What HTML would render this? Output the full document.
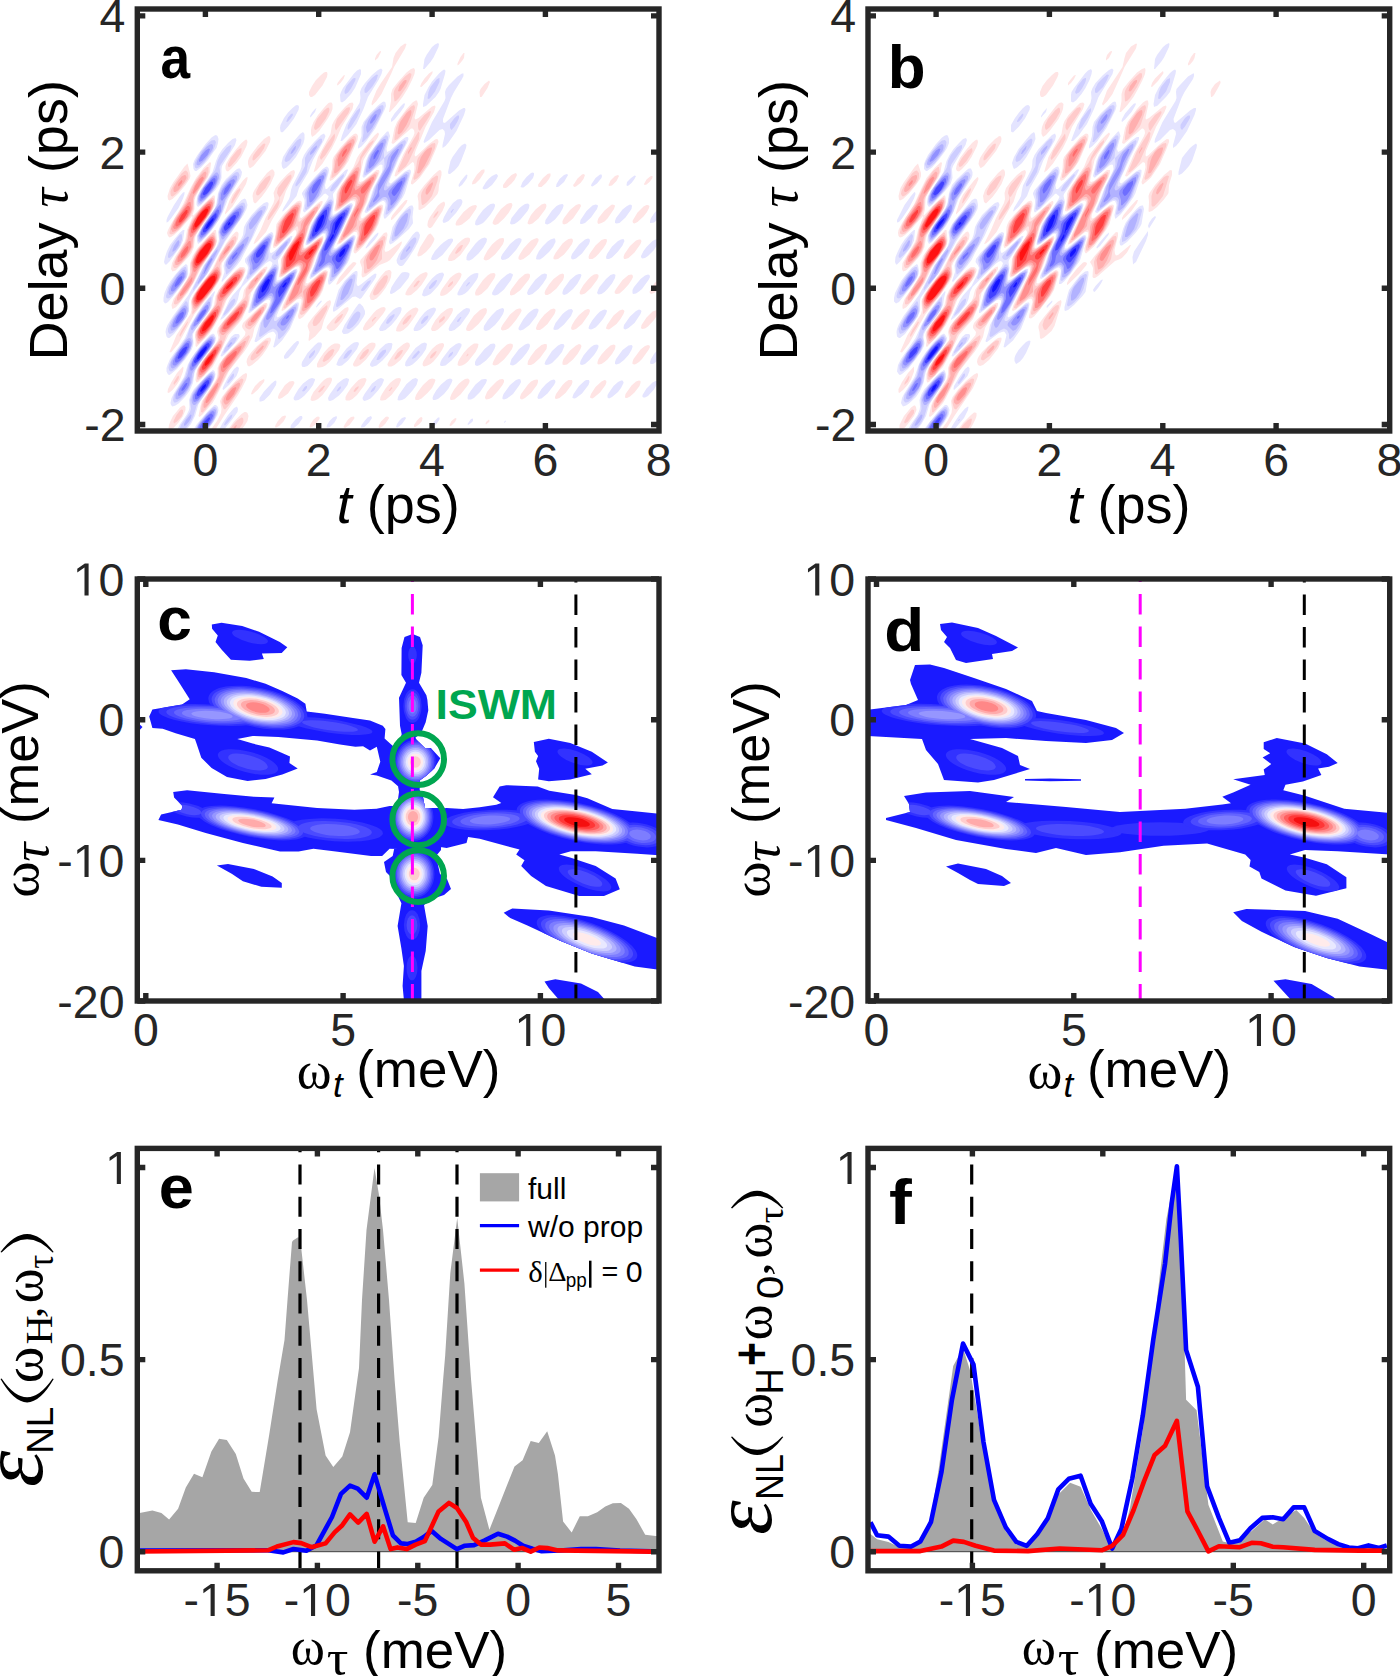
<!DOCTYPE html>
<html><head><meta charset="utf-8"><title>Figure</title>
<style>
html,body{margin:0;padding:0;background:#fff;}
svg{display:block;}
</style></head><body>
<svg width="1400" height="1676" viewBox="0 0 1400 1676" font-family="Liberation Sans, sans-serif">
<rect width="1400" height="1676" fill="#fff"/>
<clipPath id="cpa"><rect x="137.3" y="9.0" width="521.7" height="422.0"/></clipPath><g clip-path="url(#cpa)"><g transform="scale(0.5)" ><path fill="rgb(255,228,228)" fill-rule="evenodd" d="M810 87l3 1-3 9-22 37-5 12-20 42-10 14-9 9-1-3 1-5 9-22 9-15 22-32 3-18 4-10 10-13zM762 102l0 2-6 12-6 5 0-4 3-7 6-7zM929 106l-1 10-4 6-6 7-3 2 0-4 6-13 6-8zM828 136l2 4-1 8-5 12-9 18-10 16-13 17-12 13-2 0 4-22 0-14 3-10 11-14 17-19 9-7zM865 142l0 4-1 2-9 14-12 12-3-1 3-7 6-9 9-10zM654 144l1 4-1 6-9 17-15 19-6 4-3 0-3-4 0-6 6-12 8-12 10-10 6-5 3-1zM690 150l-3 8-6 8-6 5-1-1 1-4 6-8 6-7zM978 161l2 3-1 2-4 10-9 14-3 4-3 0-1-10 2-6 8-10zM831 201l3 0 2 7-7 28 2 3 6-3 27-23 6-2 1 3-3 10-17 30-8 20-12 28-2 8 2 3 3-2 24-23 12-9 3-1 3 1 1 5-5 14-13 30-19 27-9 9-6 5-3-1 0-4 6-20 1-10-1-8-3-2-33 29-3-1 2-8 16-36 20-36 2-6-1-6-3-3-3 0-33 29-3 2-3-2 6-30 5-12 19-26 12-13zM663 205l2 3 0 10-3 8-7 12-16 23-9 9-6 4-2-6 0-8 1-6 4-10 9-14 15-18 6-6 3-1zM705 205l2 3-2 10-22 36-11 26-8 16-19 31-12 14-6 4 9-31 25-46 3-18 4-8 8-12 14-16 9-8zM756 265l2 3-2 6-22 34-7 12-9 42 2 2 6-2 27-22 3 0 2 0 1 4-3 8-15 30-7 22-11 24-1 6 1 3 3-1 24-20 9-6 3-1 3 1 1 2 0 6-9 30-6 12-25 33-9 9-6 5-3-1-1-4 1-6 7-24-1-7-2-1-4 0-27 23-6 2-1-1 4-10 32-68 0-6-2-3-6 1-24 18-6 3-3-1 0-4 3-14 1-16 2-6 5-8 27-40 7-18 5-8 22-28 9-10zM714 268l2 4-1 8-18 42-8 12-14 16-9 9-6 3-1-4 5-20 1-18 2-6 13-18 19-21 9-7 3-1zM540 273l1 5-1 6-9 18-24 30-6 4-3-1-2-7 0-6 2-6 5-8 12-16 13-14 6-4 3-2zM494 280l1 4-2 8-11 22-9 12-11 12-6 5-3-1-2-4 0-6 2-6 6-10 12-16 12-14 6-5 3-2zM420 324l2 2-2 18-5 12-18 26-6 12-2 6 0 18-4 12 2 1 24-26 15-14 3 0 1 3 0 10-1 8-8 16-22 30-7 12-2 6-2 18-5 12-6 8-17 18-9 9-6 2-3-5 2-12 6-12 19-30 2-6 3-18 11-26-1-2-9 10-15 17-12 11-6 4-3 1-3-3-2-6 2-6 7-14 23-37 16-35 10-18 16-21zM375 327l5 19 1 6-2 6-8 12-14 17-12 11-6 3-3-2-1-7 5-16 7-12 10-14 12-17zM546 339l3 5 0 6-8 18-9 14-9 12-10 11-3 2-3-3-2-12 1-6 3-6 10-15 15-19 6-5 3-2zM588 340l2 4-2 8-16 30-7 22-4 8-17 28-12 24-16 18-6 5-3 1 3-8 11-20 10-24 16-30 2-8-2-12 4-10 9-12 13-14 9-8zM882 341l1 3 0 6-5 20-1 12-2 6-10 12-16 15-9 5-3-1 0-15-2-12 2-6 12-16 18-20 9-8 3-2zM969 339l0 5-9 14-9 9-6 2-1-1 1-5 9-14 9-9 3-1zM1032 346l2 4-1 2-4 8-6 7-9 8-3 1-4 0-1-2 0-4 8-11 9-9 6-3zM1101 347l0 5-3 6-6 8-9 8-6 0-1-4 1-2 9-12 9-8 3-1zM1170 350l-3 8-6 8-9 7-4 1-2-4 2-2 7-11 9-8 3-1zM1236 350l2 2-5 10-9 9-6 1-1-2 1-2 3-7 9-9zM1305 352l0 4-6 8-6 5-4 1-1-2 5-9 6-5 3-2zM495 354l0 4-3 10-15 26-12 19-9 10-6 6 0-3 9-25 6-12 21-28 6-6zM815 400l-2 6-12 16-15 16-3 2-1 0 0-4 3-6 13-16 12-13 3-1zM645 402l0 4-3 6-17 28-6 12-11 36 0 6 1 2 3-1 30-22 4-1 1 4-2 8-13 28-7 20-11 24-2 10 3 1 3-2 21-18 9-6 3-1 4 2 1 2-1 6-9 30-6 12-25 32-9 10-6 4-3-1-1-5 7-28 0-5-3-2-6 2-24 20-6 3-1-2 3-10 30-62 3-6 0-6-2-3-6 1-24 18-6 3-3-1 0-4 3-14 1-18 7-12 19-30 4-6 1-6-2-4-3 1-33 31-6 4-3-1 0-5 5-20 1-16 1-6 4-6 9-12 16-17 12-10 6-2 3 2 1 3 0 6-4 18 0 5 3 1 6-5 27-25 6-4zM888 403l2 3 0 4-5 12-21 32-3 2-3 0-3-4 0-4 1-6 4-8 16-23 6-5zM1023 406l2 4-2 6-6 10-9 11-12 11-6 2-4-2-1-2 2-6 6-10 9-12 12-10 6-2zM1092 408l1 4-2 6-14 19-12 10-6 2-3-1-1-2 2-6 5-10 9-11 12-10 6-2zM1161 409l1 3-3 6-13 19-12 10-6 2-3-2 0-5 3-6 12-16 12-10 6-2zM1229 410l1 2-2 6-13 19-6 6-6 3-6 2-2-2 0-4 2-6 12-15 12-10 3-2zM951 410l3 2-2 6-13 19-6 5-9 7-6 2-6 0-1-3 2-6 14-18 12-10 6-3zM1296 410l3 2-1 4-4 8-7 9-12 11-6 3-3-1-1-4 1-2 9-15 12-12 6-3zM432 460l2 22-4 12-28 42-15 30-12 20-18 23-6 6-6 3-1-2-1-6 4-12 27-38 4-10 2-6 0-18 5-14 10-16 25-27 9-9zM474 463l3 3 0 4-1 8-6 12-20 28-6 8-1 6 1 16-2 6-6 12-12 18-35 44-32 59-15 18-3-1 14-34 28-42 2-8-1-18 5-12 8-12 30-40 13-27 15-25 12-16 6-6zM804 483l-1 5-5 9-9 12-9 11-6 4-15 6-27 22-6 3-2-1-1-4 1-14-4-12 1-4 29-34 18-20 3-1 3 0 1 5-1 6-5 24 2 4 6-2 24-18zM861 467l3 3 4 6 1 2-2 6-6 10-9 10-9 7-6 2-2-1 0-4 5-13 15-24 3-3zM939 476l1 2 0 4-3 6-16 22-12 10-6 2-6 0-1-4 2-6 8-12 9-12 9-8 6-4 6-1zM1008 477l0 5-2 6-7 10-9 11-12 10-6 2-3-1-2-2 2-6 6-11 9-12 9-8 6-4 6-1zM1077 478l0 4-4 8-14 19-12 9-6 2-3-1-1-1 0-4 3-6 7-11 9-10 6-6 6-3 6-2zM1145 478l1 4-2 6-7 10-9 11-12 9-6 1-3-1 0-4 4-8 14-19 6-5 6-4 6-1zM1213 478l1 4-2 6-6 9-9 11-6 6-6 4-6 0-1 0-1-4 2-6 12-17 12-11 6-2zM1281 479l2 3-2 6-12 17-12 11-6 2-3 0-1-4 2-6 11-16 12-11 6-2zM711 525l2 1-2 4-15 18-18 19-3 2-3 0 6-13 18-22 9-9 3-1zM489 535l2 3 0 4-4 12-9 14-24 30-11 28-13 24-12 18-25 26-2-2 0-10-1-12 1-6 7-12 27-36 3-6 3-18 6-12 16-20 18-19 9-7 6 0zM534 533l1 3-1 2-3 6-29 42-5 24-13 28-6 8-14 16-7 8-23 48-9 16-20 21-9 9-3 1-2-5 1-12 4-12 9-14 26-34 5-8 1-6-3-10 2-8 9-12 36-42 4-6 3-16 10-14 24-26 6-5zM780 540l3 4-1 10-3 8-8 14-9 12-9 9-6 3-3 0-3-1-2-7 2-6 10-18 11-16 9-10 6-2zM855 546l0 4-3 6-9 14-9 10-12 10-6 1-5-1 0-4 4-8 16-21 9-8 6-3 6-2zM921 546l2 2 0 2-2 6-8 12-10 12-9 8-6 3-6 1-2-2 1-6 3-6 16-22 6-5 6-4 6-2zM990 547l1 3-2 6-14 21-12 11-6 3-6 0-1-5 2-6 14-20 9-9 6-4 6-1zM1059 548l1 2 0 4-3 6-16 20-12 9-6 2-3-1 0-6 3-6 15-20 12-10 6-1zM1128 549l0 5-2 6-13 17-12 10-6 3-4 0-2-4 2-6 7-11 9-11 12-9 6-2zM1197 550l0 4-3 6-12 16-12 11-6 2-3 0-2-3 2-6 6-10 9-11 6-6 6-4 6-1zM1265 550l1 4-3 6-6 9-9 10-9 8-6 1-3-1-1-3 3-6 13-18 12-10 6-1zM1317 557l0 22-9 7-6 2-2-2-1-2 3-7 6-9zM660 600l2 4-1 6-13 30-5 18-13 15-12 9-1-2 2-16-4-12 2-6 9-12 19-22 9-9zM534 606l1 4-2 6-24 40-4 18-9 18-8 12-30 38-27 54-6 10-20 23-6 5-2-2 4-20 3-10 24-36 5-8 2-10 0-12 3-8 12-16 30-30 10-12 1-6-6-8-1-4 2-6 8-8 25-24 9-7 3-1zM696 614l1 2 0 4-4 8-9 15-9 11-6 6-6 2-4 0-4-4-2-2 1-4 10-12 20-19 6-5zM771 616l0 4-5 8-19 23-6 5-6 4-6 1-3-2 0-3 5-10 16-20 6-6 9-5 6-1zM835 616l2 4-4 8-8 12-9 12-9 8-6 3-6 0-3-1 1-6 3-6 8-13 9-11 6-5 6-4 6-2zM905 616l1 4-2 6-7 11-9 11-12 11-6 3-6 0-2-4 2-6 7-12 11-13 12-9 6-2zM972 616l2 4-1 6-7 11-9 11-12 11-6 3-3 0-3-1-1-3 2-6 5-8 9-13 12-11 6-3zM1041 617l2 3 0 2-3 6-8 12-9 11-6 6-6 3-6 1-3-2 0-3 3-6 15-21 12-10 6-2zM1110 618l1 2 0 2-2 6-14 20-9 8-6 4-6 0-2-2 0-2 2-6 6-10 9-11 12-10 6-2zM1179 619l1 3-2 6-14 20-12 10-6 2-3-1-1-3 2-6 6-10 8-10 12-10 6-2zM1247 620l2 2-2 6-6 10-8 10-12 9-3 2-5-1-1-2 2-6 13-19 12-10 6-2zM1314 620l3 2 0 4-9 14-12 13-6 4-6 1-2-2 1-6 10-15 12-12zM540 675l1 1 1 4-2 6-6 11-9 13-9 10-12 10-6 3-3-2-2-7 1-6 3-6 6-8 11-12 14-12 6-4zM750 686l1 2 0 4-3 6-16 21-12 11-6 3-6 0-2-3 0-2 3-6 7-12 10-13 12-10 6-2zM819 687l1 5-3 6-16 22-12 10-6 3-6 0-2-3 0-2 3-6 8-12 9-12 12-10 6-3 3 0zM679 688l2 4-3 8-9 12-9 11-9 8-6 3-6 1-3 0-2-1 0-6 5-10 9-13 9-10 6-5 6-3 6 0zM888 688l0 4-4 8-8 12-9 11-6 5-6 3-6 2-3-1-1-4 2-6 8-12 9-12 9-8 6-3 6-1zM957 688l-1 6-5 10-15 19-6 5-6 3-6 1-3-2 1-6 3-6 8-12 9-10 6-5 6-4 6 0zM1025 688l1 4-2 6-7 10-9 11-12 10-6 2-4-1-1-2 2-6 6-11 9-11 12-11 6-2zM1093 688l1 4-1 6-13 18-12 11-6 3-6 0-1-2 1-6 6-10 9-12 12-10 6-2zM1161 689l2 3-2 6-6 10-9 11-12 10-6 1-3-1 0-5 2-6 13-17 12-10 6-3zM1230 690l1 2-1 6-6 10-9 11-6 5-6 4-6 1-2-1 0-4 2-6 6-9 9-10 9-8 6-2zM1299 691l1 3-3 6-13 18-6 6-6 4-3 1-4-1 0-4 2-6 6-8 8-11 9-7 6-2zM366 733l1 3-1 7-6 16-6 10-9 11-6 5-3 1-1-2 1-6 7-14 11-18zM492 746l2 2 0 4-2 8-8 16-8 14-27 40-20 32-9 0 14-20 8-16 1-8-3-16 4-8 12-16 15-16 15-13zM528 758l1 2-1 4-12 15-9 8-3 2-2-1 2-6 6-10 9-9zM663 756l1 2 0 2-2 6-8 12-9 12-9 8-6 3-6 1-3-2 1-6 5-10 15-18 6-6 6-4 6-1zM732 757l1 3-4 10-15 20-9 8-6 3-6 0-2-1 0-6 3-6 8-12 9-10 6-6 6-3 6-1zM801 757l1 3-4 10-15 20-12 10-6 1-3 0-2-1 1-6 3-6 7-11 9-11 6-5 6-4 6-1zM869 758l2 2-2 6-5 10-9 10-12 11-6 3-6 0-1-4 2-6 5-8 9-12 12-11 6-2zM939 760l0 4-3 6-15 19-12 10-6 1-2 0-1-4 3-8 6-10 9-11 6-5 6-4 6-1zM1005 758l3 2 0 4-3 6-9 12-12 13-6 3-6 1-2-3 0-2 4-10 7-9 12-12 6-4zM1076 760l0 4-2 6-12 16-12 10-6 3-3-1-1-2 0-2 2-6 14-19 6-6 6-3 6-1zM1144 760l1 4-2 6-12 16-12 10-6 2-3-1 0-3 2-6 13-18 6-6 6-4 3 0zM1212 761l1 3-2 6-11 15-12 10-3 2-4-1-1-2 2-6 9-14 12-11 6-3zM588 763l1 3-3 6-10 15-12 9-6 2-2-2 0-2 2-6 12-18 9-7 6-1zM1281 762l0 4-2 6-10 13-9 8-6 3-3 0-1-2 1-6 12-17 9-8 6-2zM369 811l2 3 0 6-5 12-9 13-9 10-6 4-3 1-2-4 1-6 3-8 5-10 14-17 6-4zM495 826l2 6-2 10-5 8-9 12-27 0 14-19 15-15 6-4 3 0zM570 831l2 1-1 4-4 7-9 9-6 3-2-1 1-4 4-7 9-10zM639 834l0 4-9 12-6 4-3 1-2-1 2-6 6-9 6-5 3-1zM708 833l1 3-1 2-9 12-9 6-3-2 3-6 6-9 6-5zM777 834l1 2-1 2-6 9-6 6-6 3-2-2 1-4 4-7 9-9 3-1zM845 836l-1 6-5 6-8 6-3 0 0-4 6-9 6-6 3-1zM912 836l1 2-3 6-7 7-3 1-1-2 1-2 3-6 6-5zM978 839l1 3-1 2-6 5-1-1 1-4z"/><path fill="rgb(255,203,203)" fill-rule="evenodd" d="M822 147l1 1-1 6-9 20-15 22-6 6-3 1-2-15 1-6 3-6 9-12 10-11 9-7zM828 210l2 4-1 6-9 28-3 6-6 8-16 16-6 3 0-7 3-18 5-12 7-11 9-11 9-9zM699 214l1 4-3 8-25 35-2-5 0-6 4-12 13-16 6-6zM657 215l2 3-1 6-7 14-12 16-6 5-3 1-2-4 1-6 5-12 14-17 6-5zM861 222l1 2-1 2-2 6-18 28-1 2-3-3-1-5 0-6 1-4 12-14 9-7zM837 263l2 3-1 12-20 44-6 10-8 7-6 5-3 1 3-10 15-33zM669 267l1 5-1 6-6 13-12 19-9 10-2-4 0-2 5-12 9-15zM711 273l1 5-2 8-18 40-8 11-9 11-9 7-3 1 0-4 4-18 1-14 4-10 11-14 13-15 9-7 3-2zM747 280l0 4-3 4-20 28-2 6 0 16-6 26 1 4 3 0 30-23 3-1 3 2-3 10-15 30-6 18-12 26-2 10 2 2 3-1 24-21 9-7 6-1 2 4 0 2-9 30-6 12-13 18-13 15-9 8-3 0 0-7 6-24 0-6-3-5-6 3-27 23-3 1-1-2 3-8 30-64 2-6 0-6-1-1-3-1-6 2-24 18-6 2-1-4 4-28 3-8 5-10 33-44 3-6 1-6 6-11 12-16zM870 286l1 4-1 6-14 32-16 23-6 6-6 3-1-4 5-18 2-16 2-6 6-8 13-14 9-7zM531 288l-3 9-9 13-9 9-3 2-2-1 0-4 2-6 9-12 9-9 3-2zM483 296l0 6-2 6-10 14-9 10-3 2-3-1 0-5 6-12 12-15 6-4zM417 334l0 10-2 8-26 42-1 6-1 18-5 12-9 12-16 18-9 7-6 2-3-2 0-3 3-12 8-16 20-30 11-26 8-16 16-22 9-8zM372 341l3 3 1 2 1 6-1 6-4 6-9 12-9 10-6 5-3 2-3-1-1-4 0-6 7-14 15-21 6-5zM582 349l1 3 0 4-4 8-18 29-2 1 0 12-4 10-15 21-3 3-2 0 1-6 4-8 18-28 0-4-4-8 2-10 6-8 8-10 6-6zM540 351l1 1 0 6-10 18-12 13-3 2-3-1-1-4 1-4 6-12 12-14 6-4zM876 352l0 4-1 6-11 30-6 8-6 6-6 4-2 0-1-4-1-14 1-6 3-6 9-12 9-11 9-6zM480 376l1 4-7 12-9 14-3 1 2-9 4-8 6-9zM426 395l2 3 1 6-3 12-8 14-27 40-3 6-2 18-4 8-8 12-11 13-9 8-3 1-3 0-2-4 2-8 6-12 17-28 2-6 4-20 6-16 9-14 13-16 15-14zM639 407l2 3-2 6-17 26-5 12-11 36 0 6 3 2 3-1 24-19 6-3 3 0 1 3-3 10-14 26-7 22-11 24-2 8 0 3 3 1 3-2 24-21 9-6 3 0 3 1 0 6-9 28-7 14-20 26-9 9-6 3-3-2 0-2 6-24-1-6-2-3-3 0-3 2-27 22-3-1 0-2 32-70 2-6-1-6-3-1-6 2-27 19-3 0-1-4 3-16 0-12 2-6 7-12 21-32 4-10-1-6-2-2-27 27-12 11-3 2-3 0-1-4 8-40 10-14 19-22 9-6 3-1 4 1 1 6-5 22 0 9 3 0 27-27zM876 422l1 2-4 7-6 6 0-3 3-6zM429 466l4 16-1 6-4 8-29 42-12 26-12 19-15 20-6 5-3 1-3-1 0-4 3-8 29-46 1-6 0-12 1-8 7-16 8-12 20-23 9-8zM471 472l2 4 0 2-3 10-28 38-2 6 2 16-5 14-19 28-31 37-2 1-1 3 1-11-2-16 1-6 4-8 10-16 30-38 13-28 12-19 12-14 3-2zM769 472l2 3 0 3-7 24 0 16-7 8-16 15-9 6-3 0-1-3 0-12-1-8 3-10 10-14 16-18 9-9 3-1zM926 490l-2 6-3 5-6 5-3 2-2-2 5-9 6-6 3-1zM486 537l3 3 0 4-6 16-33 42-9 24-16 30-17 21-12 11-2-2-3-12 1-10 9-14 27-36 3-6 2-16 5-12 14-18 16-17 12-8zM531 538l0 4-5 8-29 40 0 12-2 8-10 22-8 12-24 26-10 28-18 32-17 21-6 5-6 4-2-2 0-10 1-8 3-6 10-16 29-36 3-6 0-2-3-12 3-10 9-12 40-44 2-4 0-8 1-6 10-16 20-20 6-4zM774 550l2 4-2 9-6 11-12 14-6 3-3-1-1-4 2-6 8-14 12-14zM840 562l-6 9-6 4-1-1 1-3 6-8 3-2zM906 562l0 4-3 4-5 4-2 0 0-2 4-6 3-2zM531 609l1 5-4 8-18 27-9 9-3 1-6-3-2-4 0-2 2-6 5-6 22-22 9-6zM654 610l1 4-1 5-9 17-6 9-6 6-3 1-3 0-2-6 2-6 3-6 15-17zM686 628l-2 6-6 8-6 5-3 0 0-3 6-9 9-7zM822 629l1 3-1 2-4 6-5 6-7 4-1-4 5-8 6-6zM753 634l-3 4-6 6 0-4 6-6zM888 632l2 2-1 4-4 4-6 4-1-2 1-4zM376 644l-4 9-12 21-1-4 1-2 3-7 12-18zM498 670l2 4-1 2-5 12-9 16-31 42-18 36-12 20-13 17-6 6-3-1 1-12 4-12 24-36 5-10 1-6 0-12 3-8 6-10 13-14 33-30zM537 682l-2 6-4 8-12 15-12 9-3 1-3-2 0-3 2-6 12-16 10-9 6-4 3 0zM669 700l-4 10-8 9-9 5-3-2 4-10 8-9 6-4 3-1zM738 699l-1 5-5 7-6 6-6 3-1-2 0-2 7-11 6-5 3-2zM806 700l-2 6-6 8-6 5-3 0 0-3 6-10 6-5 3-1zM873 702l0 2-3 6-6 6-3 1-1-1 1-4 3-4 6-5zM936 707l1 3-4 3 0-2zM357 751l1 3-1 4-3 5-6 7-1-4 1-2 6-10zM486 758l1 2-2 6-9 18-17 25-9 10-3-2-4-11 1-6 2-6 9-12 16-17 9-6 3-2zM648 771l2 1-5 8-6 5-3-1 6-8zM717 772l0 4-6 7-3 1-1-2 4-6zM785 776l-5 6-3 0 6-8zM366 820l0 6-3 7-9 10-6 4-1-3 0-2 6-12 7-9 3-2zM486 836l1 6-2 6-10 14-18 0 8-11 9-10 9-6z"/><path fill="rgb(255,175,175)" fill-rule="evenodd" d="M813 160l0 4-6 10-6 8-3 1-2-1 3-10 8-10 3-2zM822 220l1 4-1 6-9 20-9 14-6 5-2-1-1-2 3-16 3-7 12-17 6-5zM708 279l1 5-3 8-16 32-12 17-6 5-3 1-1-3 3-22 4-12 8-12 13-14 9-6zM822 294l2 2-1 2-7 11 0-5zM864 295l0 3-3 10-12 24-9 13-3 2-3-1 5-24 3-8 7-10 6-6 6-3zM717 334l2 4 0 2-6 28 0 2 1 3 6-2 27-22 3-1 2 2 0 2-2 7-14 27-7 20-12 28-3 8-1 10-7 8-13 13-9 7-3 0 3-9 18-40 11-21 3-10-1-2-3-4-4 0-3 1-24 19-6 3-1-5 4-26 5-12 13-19 15-18 3-2zM411 343l2 3-2 10-23 36-2 6-1 20-5 12-9 12-11 13-9 7-3 1-3 1-2-4-1-2 2-6 4-10 26-38 10-24 9-18 9-12 6-6zM369 350l3 1 1 5-4 8-12 16-6 4-3 0-1-2 0-6 7-12 9-11zM865 364l1 4-5 13-6 8-3 0-1-3 1-7 6-9zM423 399l3 2 1 5-3 12-7 12-29 42-2 6-2 16-4 8-8 12-9 10-6 5-3 1-3 0-1-6 4-10 20-32 2-6 1-16 3-8 6-12 8-12 11-14 12-12zM597 409l3 3-1 6-7 28-3 6-9 12-13 14-9 8-6 2-1-6 6-28 3-8 8-12 14-16 9-8zM636 413l0 3-2 6-18 30-12 44 0 4 2 1 3-1 30-22 3-1 2 1-1 6-15 30-9 24-13 28-1 6-1 12-21 20-10 7-1-1 1-6 29-62 1-10-3-3-6 0-24 18-6 2-2-1 0-4 5-30 6-12 24-36 4-8 1-10 3-6 19-21 6-6zM761 416l1 2-2 10-7 20-6 12-8 12-13 16-9 7-3 1-1-6 6-20-1-16 3-6 10-12 16-15 9-6 3 0zM426 470l3 3 2 9-1 6-3 8-32 46-10 24-10 15-12 15-6 5-3 0 0-5 2-6 26-40 2-6-1-18 6-14 5-10 14-17 12-12zM468 481l-1 7-5 8-15 19-9 9 0-4 3-8 9-16 12-14 3-2zM765 480l1 2 0 6-12 32-4 6-6 7-6 5-3 0-1-2-2-16 3-8 6-10 12-14 6-6zM435 533l3 3 2 6 1 6-1 6-4 8-8 12-16 22-16 18-6 4-3-2-3-12 1-6 4-8 8-12 14-19 18-21zM486 541l1 3-1 6-7 12-9 12-21 24-4 6-4 18-14 28-8 12-11 13-9 7-3 0-3-12 2-8 9-16 28-36 2-6 0-12 8-14 11-16 15-15 6-4 6-3 3 0zM525 544l0 4-12 17-9 11-6 3-1-1 0-4 7-12 12-12 6-5zM651 546l1 4-2 10-7 18-6 12-8 12-11 13-6 5-6 3-2-3 4-22-2-14 2-4 31-30 9-5zM492 601l2 3-1 10-4 8-7 12-10 12-19 19-6 5-3 0-3-3-2-5 2-6 5-10 12-14 22-23 9-8zM528 614l0 5-3 7-15 19-9 7-3 0-3-2 1-6 9-12 14-14 6-4zM444 681l1 5-2 8-16 30-8 12-11 13-6 5-3 1-2-1-1-2 0-10 2-6 5-8 11-17 24-27 3-3zM492 682l-3 10-5 8-35 48-11 26-12 22-9 13-6 6-3 1-1-2 0-6 4-12 22-32 6-12 0-16 1-6 3-6 10-12 18-17 18-13zM528 692l-3 6-9 9-3 1-1-2 1-2 5-6 7-7zM480 766l0 4-2 6-10 17-12 14-3 2-3 0-3-5 0-4 2-6 4-6 9-12 9-7 6-4zM474 850l-3 7-3 4-3 1 0-2 3-6 3-3z"/><path fill="rgb(255,143,143)" fill-rule="evenodd" d="M702 285l1 1 0 4-4 11-12 21-9 11-2-1-1-12 3-10 5-8 7-9 6-5zM714 341l2 3-1 6-6 24 0 2 2 5 6-4 24-21 6-3 1 3 0 2-18 34-4 18-13 26-7 18-9 12-10 9-1-3 1-3 18-40 14-25 1-6-1-4-5-5-3-1-3 1-24 21-6 3-1-3 3-24 3-10 10-15 12-14 6-5zM405 353l3 3-3 6-9 15-9 11-2-2 5-14 9-14zM365 362l-2 5-6 6-1-3 1-3 6-7zM423 403l2 3 0 6-5 12-18 26-18 23-3 2-2-5 0-10 3-8 6-12 10-16 10-11 9-8 3-2zM381 404l2 12-1 6-4 8-9 12-9 10-6 5-6 1-2-4 1-2 7-16 21-29 3-3zM594 413l3 3-1 6-10 30-6 8-10 12-12 11-3 0-1-5 5-24 5-12 8-12 10-10 6-5zM757 418l2 4-2 8-6 18-6 12-16 22-9 8-3 0 0-6 7-36 7-8 11-12 8-7zM630 421l-3 8-16 25-2 18-7 22-1 8 2 3 6-2 27-22 3-1 2 2 0 2-5 12-13 24-7 22-14 26-6 18-8 10-9 7-1-1 1-6 12-29 14-29 1-6 0-2-2-4-4-1-3 0-6 4-18 14-6 3-2-2 0-2 3-28 8-14 29-42 3-12 4-8 12-14 3-2zM426 474l3 4 0 6-1 6-4 10-13 18-21 26-3-1-2-11 0-6 2-8 5-10 8-12 14-16 6-5 3-1zM381 482l1 6 0 6-6 12-7 9-6 6-6 3-2 0 0-4 1-6 7-12 15-20zM759 489l1 1-1 5-6 14-6 9-3 3-3 0-2-3 0-4 2-6 9-13 6-5zM459 491l1 3-3 6-10 10 0-3 3-6 6-8zM435 539l4 5 0 6-3 10-5 8-13 18-13 16-9 9-3 2-3 0-3-4-1-7 1-6 5-10 12-18 16-18 9-9 3-2zM483 544l1 4-2 6-9 14-29 32-3 2-3 0-2-6 1-6 4-10 9-12 12-13 9-8 6-3 3-1zM648 549l1 5-1 6-7 18-6 12-8 11-9 10-6 5-3 0 0-6 2-12 1-12 3-8 10-12 11-11 6-5zM384 554l1 2-1 6-6 11-12 16-6 4 0-5 6-10zM516 555l0 2-6 7-1-2 4-6zM489 607l2 3-2 6-6 12-6 10-21 21-6 5-3 0-3 0-1-2 0-6 7-12 27-30 9-7zM438 611l2 5-1 6-3 10-6 12-8 12-11 13-6 6-6 3-3-3-1-7 1-6 3-6 8-12 16-20 12-12zM523 620l-1 6-9 12-6 6-3 1-3-1 2-6 7-9 9-8 3-2zM441 688l1 4-3 8-15 28-16 18-6 4-3 0-1-4 0-6 7-16 12-15 12-14 9-7zM483 691l0 3-2 6-12 18-19 23-3 3-3 0-2-4 0-6 2-6 3-6 9-11 12-11 9-6zM437 766l-2 8-9 17-9 12-3 3-2 0-1-2 1-4 5-11 15-20 3-3zM471 774l2 2-1 2-4 10-9 11-3 2-3 0-1-1 0-4 4-8 9-11z"/><path fill="rgb(255,108,108)" fill-rule="evenodd" d="M693 297l1 1-1 5-6 9-3 2 0-4 3-7zM711 349l0 7-10 32-7 10-10 8-3-2 3-22 3-8 6-10 9-11 6-5zM741 360l1 2-1 5-6 10-6 8-3 2-3 0-2-5 2-6 12-12zM420 407l2 3 0 6-5 12-21 28-6 7-6 4-2-3 0-6 3-10 4-8 8-12 11-13 6-6zM378 412l2 4-1 6-5 12-8 9-6 6-6 4-3-1 0-4 2-6 7-12 12-15 3-3zM717 415l0 5-9 15 0-5 6-11zM591 418l2 4-1 6-6 18-4 8-7 10-8 9-6 4-2-1 3-22 4-12 13-16 6-6zM753 423l2 1 0 6-11 28-12 17-9 8-2-1 0-4 7-30 5-8 8-9 6-5zM606 466l1 4 0 6-9 26 0 6 2 3 3-1 30-25 3-1 2 0 0 4-5 12-16 26-4 16-4 8-12 19-3 1 3-11 15-27 0-2-1-4-8-5-3-1-3 1-21 17-6 3-2-3 2-20 4-12 11-18 15-18 3-3zM423 477l3 2 1 5 0 6-4 10-8 12-13 15-9 9-3 1-3-4 0-7 1-6 4-8 7-12 9-11 9-9zM377 494l-2 8-6 9-6 5-2-2 2-7 6-9 6-6zM435 544l2 6-1 6-5 10-7 12-22 25-6 5-3 1-3-1-2-6 1-6 4-10 6-8 12-17 12-13 6-4 3-1zM478 548l2 2 0 4-3 6-6 8-21 23-6 4-3 0-1-3 1-6 9-16 15-16 6-4zM645 553l1 3-1 6-11 24-10 15-6 5-3 1-1-5 1-13 3-11 6-10 9-9 9-6zM486 615l-1 5-2 6-12 15-15 15-6 3-3-1-1-2 2-6 11-15 18-18 6-4zM435 618l2 4-2 6-11 22-7 10-9 10-6 3-3-1-2-4 0-4 2-6 5-8 19-24 6-5zM438 694l-1 4-3 8-11 20-12 15-6 4-3 0-2-5 2-6 9-16 18-21 6-4zM474 703l-2 7-13 17-9 8-3 1-1-2 1-6 6-11 15-13 3-2z"/><path fill="rgb(255,62,62)" fill-rule="evenodd" d="M702 359l3 3-3 7-9 17-3 1-1-5 1-6 6-11zM419 412l1 4-2 6-7 13-18 22-6 4-1-1-1-2 1-6 9-18 7-10 9-9 6-3zM375 420l0 5-6 11-6 7-3 2-3 0 1-5 5-10 9-10zM585 425l3 3-6 18-9 15-6 6-2-1-1-2 2-10 4-12 6-9zM750 430l0 6-6 15-9 15-6 6-1-2 1-16 3-7 9-12 6-5zM603 474l0 8-8 20-5 18-11 12-6 3-1-5 1-16 3-8 9-15 9-11 6-6zM423 482l2 2 0 6-8 16-9 12-9 10-6 4-3-2-1-4 1-6 3-8 6-10 15-17 6-4zM633 489l1 1-1 6-12 18-6 5-3 0-2-1-2-4 1-2 4-6 11-12zM432 547l2 3 0 6-4 10-6 8-19 24-6 5-3 2-3 0-2-3 0-6 3-10 6-8 11-15 9-10 6-4 3-2zM474 554l0 6-6 8-6 8-12 11-3 1-3-1 3-9 9-12 12-11 3-1zM640 560l1 2-2 6-6 13-6 9-3 3-3 0-1-9 4-10 9-11 6-4zM478 622l0 4-1 2-6 10-12 11-3 2-3 0 1-5 8-11 9-9zM432 624l0 8-10 18-11 14-6 4-3 0-2-4 0-2 2-6 6-10 15-17 6-5zM432 699l1 1-1 6-9 17-12 14-3 2-3 1-1-4 0-2 6-12 13-16 6-6z"/><path fill="rgb(255,18,18)" fill-rule="evenodd" d="M414 417l2 1 0 4-5 10-12 16-6 6-3 1-1-3 0-4 6-12 10-13 6-5zM597 482l2 2-5 14-9 19-3 4-3 0-2-9 2-7 9-15zM420 486l2 2 0 6-8 14-12 14-6 5-3-1-1-2 1-6 6-13 12-15 6-4zM627 498l0 2-6 8-3 2-1-2 1-3 6-6zM429 551l2 3 0 6-8 14-15 19-6 6-6 2-3-3 1-6 7-14 16-20 6-5zM465 562l1 4-4 5-6 6-3 1-1 0 1-4 3-3zM428 632l-2 8-6 10-9 10-3 2-3 1-1-1 1-6 6-11 12-13 3-2zM426 707l1 3-4 8-6 9-6 5-2-2 2-6 6-9z"/><path fill="rgb(228,228,255)" fill-rule="evenodd" d="M876 86l2 2-1 6-10 21-6 9-12 14-3 0 3-20 4-8 11-16 6-5zM720 138l2 2 0 2 0 6-5 12-7 16-8 12-12 13-6 4-3-2-1-13 2-6 4-8 22-29 6-6zM762 137l3 3-2 8-6 12-21 34-9 24-14 30-6 8-11 14-12 12-3 0 3-11 9-23 26-42 2-10-1-12 3-8 7-10 14-16 12-10zM890 140l1 2-1 6-9 30-3 6-7 10-19 18-3 1-3 1 0-6 3-18 7-14 8-13 15-17 6-5 3-2zM927 147l0 5-3 6-16 26-6 12-16 42 0 6 2 2 3-1 27-24 9-5 3 0 1 4-3 10-15 32-16 23-6 7-6 4 0-6 5-22-1-6-4-4-6 2-21 20-9 6-2-2 2-6 15-34 25-42 2-6-1-12 2-6 6-8 17-17 9-6zM771 205l1 7-3 8-18 36-19 27-9 10-6 4-1-1 0-4 7-20 0-18 4-10 14-18 15-15 9-7 3-1zM810 207l0 1-2 6-7 10-12 15-6 5-1-2 0-4 7-11 12-14 6-6zM597 211l1 3-1 6-9 17-12 16-9 10-3 2-3-2-1-7 1-6 7-14 8-11 9-9 6-5 3-1zM633 216l-3 8-9 11-1-3 4-7 6-7zM606 264l3 4 0 10-2 8-6 12-9 16-10 12-9 9-6 3-3-4-1-8 3-12 10-16 12-16 12-14zM777 263l3 9-7 26 1 6 6-3 21-19 9-7 3-1 3 0 1 4-3 8-16 30-18 42-2 6 2 3 3-1 27-23 6-3 3-1 2 1 1 4-2 8-10 34-4 8-11 16-15 18-9 9-3 0-1-7 4-20 0-4-3-4-3 0-6 3-24 20-3 1-3-2 3-8 8-18 7-22 17-32 1-6 0-8-3-1-3 1-30 25-3 0-1-3 7-30 5-12 10-14 15-20 12-13zM648 267l3 5-3 8-22 40-10 26-18 30-5 16-17 21-9 9-3 1 3-7 11-18 2-6 2-12 3-9 16-31 2-6 1-14 4-10 8-12 14-16 12-12zM435 272l2 6-1 8-3 10-6 8-11 16-14 15-9 7-3 0-3-4-1-10 3-8 6-10 16-22 12-13 6-4 3-1zM471 276l2 4-3 10-26 42-1 6 0 18-4 12-8 12-29 30-6 4-3-4 0-6 2-12 6-12 24-36 7-22 5-12 8-12 11-12 9-8zM930 287l3 3-1 6-10 26-5 10-8 9-9 7-3 0-1-4 5-22 4-8 13-18 6-6zM654 333l3 3 1 4-1 6-7 24 1 8 3 0 36-37 3-2 3 0 0 1-5 12-25 36 0 4 2 12-3 20 0 4 1 2 6-3 18-14 9-6 4-1 2 2 1 2-4 12-33 68-1 6 1 1 3 0 27-22 6-4 3-1 3 2 0 4-12 42-4 8-11 16-15 18-9 9-3 0-1-7 4-20 0-4-3-3-3 0-6 3-24 18-3 2-2-2 1-6 9-20 7-22 14-30 1-9-3-2-3 1-24 19-6 3-3 0-1-2 1-6 11-34 8-14 23-34 3-6 0-2-6-5-3 1-30 30-9 7-1-1-2-2 3-16 0-6-5-12 0-2 4-6 20-24 17-18 6-4zM480 337l4 7-1 6-2 6-25 42-10 26-6 12-10 16-11 14-17 18-6 4-2-6 1-12 6-12 29-42 3-10 3-20 7-16 9-12 16-15 6-5 3-1zM1068 346l0 4-2 6-10 12-9 7-3 0-3-1 4-10 8-10 9-8 3-1zM935 350l-1 6-4 6-6 8-6 4-1-4 4-7 9-11 3-3zM995 350l1 2-3 6-9 12-9 7-6 2-3-1-1-2 1-2 6-10 6-7 6-5 6-3 3-1zM1134 348l2 2-1 2-7 12-9 8-3 2-3 0-1 0 1-6 6-10 9-8zM1203 349l1 3-1 4-9 11-9 6-3-1 1-4 8-12 9-7zM1272 352l-3 6-6 8-6 5-3 1-1-2 1-6 8-8 7-5zM369 384l0 4-3 9-9 19-15 21-6 7-3 1 0-5 2-6 13-24 12-18 6-7zM489 397l3 2 3 11-2 8-6 12-36 52-34 62-34 46-3 6-2 6 0 20-5 12-10 15-15 19-9 8-3 0-3-3-2-9 1-6 3-8 11-18 31-42 15-28 16-32 25-36 4-10 1-6-2-14 4-12 8-12 20-24 15-16zM924 400l1 4-2 6-11 16-15 16-6 3-4 1-2-4 3-8 9-16 9-12 9-7 6-1zM534 404l3 2 0 4-2 8-17 30-11 24-18 34-7 14-9 12-29 32-1-2 6-18-2-12 2-8 6-10 27-36 4-8 2-16 4-8 11-16 13-14 12-10zM990 409l0 3-2 6-7 11-9 11-6 6-6 3-6 2-3-1-1-2 1-6 6-10 9-12 9-8 6-4 6-1zM1059 410l-1 6-3 6-14 17-6 5-6 4-6 1-2-1-1-2 3-10 15-19 6-5 6-4 6-1zM1127 410l0 2-2 6-6 10-9 11-9 7-6 3-4-1-1-2 1-6 13-19 9-9 6-3 6-1zM1195 410l1 2-2 6-12 17-12 11-6 2-3 0-1-2 1-6 12-18 12-11 6-2zM1263 410l1 2-1 6-12 17-12 11-6 1-3-1 0-4 2-6 13-17 9-7 6-3zM825 411l2 5-2 18 1 12-1 2-7 10-22 20-10 8-6 3-2-5 7-30 5-8 11-16 12-13 6-5 3-1zM1317 417l0 21-9 7-6 1-2 0 0-4 2-6 6-9zM369 460l-3 21-6 13-21 29-6 6-3 0-2-5 2-10 4-12 6-12 9-12 11-13 6-5zM837 464l3 6-1 6-3 8-6 12-14 22-9 12-3 2-3 0-3-1-4-5-1-6 5-12 27-38 6-6 3-1zM543 464l3 2 1 6-7 28 0 5 3 1 6-4 27-26 6-4 3 0-3 10-26 38 0 4 2 12-4 18 0 6 1 1 6-2 27-20 3-1 3 0 1 4-4 12-33 66-5 12 2 3 6-3 30-26 3-1 3 0 1 3-2 12-16 38-16 23-9 9-6 5-3-1 1-2 4-16 1-6-3-5-3-2-3 1-6 2-24 18-3 0-1-2 11-36 17-32 3-10 0-3-3-2-6 2-30 24-3 1-1 0 0-4 11-38 7-12 28-40 2-6-2-2-3-2-3 1-6 4-47 47-5 10-3 14-4 10-16 19-9 9-6 4 0-2 18-38 6-9 17-19 12-24 2-12-1-5-5-7 0-6 10-12 28-31 9-8zM756 465l1 1-1 4-6 9-12 13-6 5-1-1 1-2 6-10 12-14zM972 476l2 2-1 6-7 12-9 11-12 11-6 3-3 0-3-1 0-6 2-6 16-21 6-6 6-4 6-2zM906 478l0 4-5 8-16 20-12 9-6 1-3 0-2-2 2-6 6-10 11-12 7-6 9-6 6-1zM1041 477l2 1 0 4-3 6-8 12-9 10-6 6-6 3-6 1-3-2 0-4 3-6 15-20 12-10 6-2zM1110 477l1 5 0 2-5 10-8 10-12 11-6 4-6 0-2-1 1-6 5-10 8-10 9-9 6-4 6-2zM1179 478l1 4-2 6-6 8-8 11-12 10-6 2-3-1-1-4 2-6 14-19 12-10 6-2zM1247 478l2 4-1 2-3 7-9 12-12 12-6 3-5 0-1-4 2-6 10-15 12-11 6-3zM1314 479l3 3 0 2-3 6-6 10-12 12-6 4-6 1-2-3 0-2 5-10 6-8 12-12 6-3zM372 528l3 3 1 11 0 6-3 8-10 15-18 23-9 10-3 2-3 1-3-4 0-7 2-10 5-12 7-12 9-12 13-15zM753 548l-1 6-5 8-24 34-3 2-9-5-6 1-30 25-6 4-3 0 0-7 11-36 12-18 16-16 6-4 3 0 1 2 0 6-2 16 1 5 3 1 6-4 21-17 6-4zM819 547l0 3-2 6-16 20-12 9-6 3-3-1 0-3 3-10 9-14 9-12 3-3 6-1 6 1zM888 548l0 2-4 10-8 12-9 10-6 6-6 3-6 2-3-1-2-2 3-10 8-12 9-11 9-8 6-3 6-1zM957 547l-1 7-3 6-8 11-9 11-6 5-6 3-6 1-3-1 0-4 4-8 8-13 9-10 6-5 6-3 6-1zM1025 548l1 2-4 10-14 19-12 10-6 2-5-1-1-4 3-6 6-10 9-11 12-10 6-3zM1093 548l1 2-1 6-7 11-9 11-12 10-6 2-3 0-2-4 2-6 6-9 9-12 12-10 6-2zM1161 548l2 2-2 6-6 11-9 11-12 10-6 2-3-2 0-4 2-6 13-18 12-10 6-2zM1230 549l1 1-1 6-6 11-9 11-6 6-6 4-6 1-3-3 2-6 3-6 13-16 9-8 6-2zM1299 550l1 4-3 6-13 18-6 5-6 4-6 1-1-2 0-6 3-6 13-16 9-7 6-2zM429 582l1 2-4 12-2 14-2 6-8 12-23 30-5 10 0 6 1 12-1 6-3 8-12 18-17 20-12 10-3 2-3-1-3-6 0-7 2-6 5-12 30-42 11-26 14-24 13-19zM644 602l-2 3-9 10-1-1 4-7 6-6zM720 607l6 6 4 9 0 6-3 6-10 15-12 12-9 6-6 1-3 0-3-4 0-2 5-12 22-34 6-8zM801 614l2 2 0 4-2 6-8 12-10 12-12 10-6 2-5 0-2-4 4-8 15-21 9-9 6-4 6-2zM871 616l1 4-1 2-3 6-16 22-12 10-6 2-6 0-1-4 1-2 3-6 9-14 9-11 6-5 6-3 6-2zM939 617l1 3 0 2-3 6-16 22-12 10-6 2-4 0-2-4 3-8 15-21 12-10 6-3zM1008 618l0 4-2 6-7 11-9 11-12 10-6 2-3-1-2-3 1-6 7-11 9-11 9-9 6-3 6-2zM1077 619l0 3-4 10-14 18-12 9-6 2-3-1-1-2 0-2 3-6 7-12 9-11 6-5 6-4 6-1zM1145 620l1 2-4 10-14 17-12 10-6 1-3-1 0-3 4-10 14-18 6-5 6-4 6-1zM1213 620l1 2-2 6-6 10-9 11-6 6-6 3-3 1-4-1-1-2 2-6 6-10 9-11 6-6 6-3 3-1zM1281 620l2 2-2 6-12 18-12 10-6 3-3-1-1-2 1-6 12-17 12-11 6-3zM426 667l3 2 3 7-1 6-7 12-23 30-10 16-2 6-3 20-7 16-9 12-13 13-6 4-6 2-3-3-1-4 2-10 4-8 21-34 8-26 7-12 8-12 14-18 15-16zM477 668l2 2 0 4-5 8-24 26-6 5-3-1 3-8 6-11 12-19 6-5 3-1zM597 682l1 4-1 2-9 15-12 13-6 2-2-2 0-4 5-8 15-17 6-5zM642 685l2 3-1 6-5 10-8 12-9 10-6 6-6 2-4 0-2-4 1-6 5-8 6-10 15-16 6-5zM717 685l1 3-4 10-18 23-12 10-6 1-5-2 0-2 4-10 16-21 9-8 6-4 6-1zM783 686l2 2-2 10-8 12-10 11-12 10-6 2-3 1-3-2-1-2 0-2 3-6 16-23 12-11 6-2zM852 686l2 2-2 10-8 12-10 11-9 8-6 3-6 1-3-2 1-7 5-8 15-20 12-9 6-2zM921 687l2 1 0 4-3 6-7 12-10 11-12 10-6 1-3 0-2-2 1-6 3-6 16-21 12-9 6-2zM990 688l1 4-2 6-7 12-10 11-12 9-6 2-4-2 0-6 3-6 16-20 12-10 6-1zM1059 688l1 4-2 6-5 8-9 11-12 11-6 3-5-1-1-2 3-10 15-20 12-9 6-2zM1127 688l2 4-1 2-4 10-8 10-12 12-6 3-6 1-3-2 2-6 13-20 12-11 6-3zM1197 691l0 3-3 7-6 9-9 10-9 8-6 2-3-1-1-1 1-6 6-11 9-11 6-6 6-4 6-1zM1265 692l0 2-2 6-6 10-9 10-9 7-6 2-3-1 0-4 2-6 13-18 12-9 6-1zM1317 698l0 22-9 7-3 1-4 0-1-4 2-6 6-10zM476 734l2 2-1 6-4 10-14 17-12 11-2-2 2-6 9-17 12-17 6-5zM426 740l3 2 2 6-1 6-2 6-6 12-25 36-7 24-8 16-11 14-18 0 6-12 14-20 5-10 1-6-1-14 4-12 6-10 13-14 16-17zM630 758l0 2-4 10-8 11-9 10-6 5-6 4-6 1-3-1-1-4 4-8 6-10 9-11 12-9 6-2zM698 758l0 2-3 10-8 11-9 10-12 9-6 2-3-1-1-5 4-8 15-21 12-9 6-2zM767 758l1 2-4 10-8 11-9 10-6 6-6 3-6 2-3-2-1-4 4-8 15-21 12-9 6-2zM835 758l1 2-3 10-8 11-9 10-6 6-6 3-6 1-3-1 1-6 3-6 14-20 12-10 6-2zM903 758l2 2-2 6-6 11-9 11-12 10-6 2-4 0-1-4 2-6 6-10 9-11 12-10 6-2zM972 758l2 2-2 6-12 18-12 12-6 3-6 0-1-3 1-6 6-9 9-12 12-10 6-1zM1041 759l1 5-3 6-13 18-12 9-6 2-3-1 0-4 2-6 13-18 12-10 6-2zM1110 760l1 4-3 6-13 17-12 10-6 1-2-2 0-2 2-6 6-10 9-10 9-7 6-2zM1178 760l1 4-2 6-13 17-12 9-3 1-4-1 0-2 2-6 11-16 12-11 3-1zM552 761l1 3-1 6-12 19-12 12-6 2-3 0 0-7 9-13 15-16 6-5zM1245 761l2 3 0 2-5 10-6 8-12 10-6 3-3-2 0-5 3-5 9-13 9-8 6-3zM1314 762l2 2-1 2-7 13-12 13-6 3-3 0-2-1 0-4 8-13 12-12 6-3zM436 814l1 6-2 10-8 14-13 18-29 0 9-14 23-27 12-11 3 0zM474 813l2 5-1 6-10 14-19 24-9 0 7-14 12-18 12-14zM604 832l1 4-1 2-7 10-9 8-6 1-1-3 1-4 9-11 9-7zM673 832l1 4-5 9-9 9-6 1-1-1 1-4 5-8 7-7zM742 832l2 4-6 9-9 9-6 1-1-1 1-4 6-8 6-7zM810 834l2 2-1 2-7 10-6 5-3 2-3-1 2-6 4-6 6-6zM879 835l0 4-6 9-6 4-3 1-1-3 1-2 5-6 7-7zM946 838l0 4-4 4-6 4-1-2 4-6 3-4 3-1zM1012 842l-1 2-3 2 0-2 3-3z"/><path fill="rgb(205,205,255)" fill-rule="evenodd" d="M756 150l-3 10-9 14-9 10-3 2-3-1 0-7 6-12 9-10 9-7zM711 156l0 4-3 6-6 11-6 8-3 2-3 1-1-4 0-2 4-10 12-14 3-2zM879 156l0 8-9 19-9 12-3 3-3-1 2-13 4-10 12-15 3-2zM765 210l2 2 0 6-3 8-8 16-12 20-9 13-9 9-2 0 3-18 0-12 3-10 9-12 11-12 9-8zM720 216l0 6-6 13-12 19-6 6-1-4 1-5 6-13 12-17zM585 227l1 3-4 6-6 7-3 1 0-2 3-7 6-7zM918 231l0 5-3 7-6 10-6 7-3-4 0-6 0-2 9-12 6-5zM774 271l2 3 0 4-8 26 0 12-27 28-9 6-3 1-1-5 5-20 3-10 4-8 10-15 12-14 9-8zM602 278l1 2-2 10-10 17-12 14-6 3-3-1-1-3 2-6 8-15 15-18 6-4zM644 278l0 6-5 8-23 36-3 16-4 7-9 14-6 7-3 1 0-5 3-6 15-28 1-2 0-16 4-8 8-12 11-13 6-5 3-1zM429 280l3 4-2 8-4 10-6 8-12 16-9 8-6 3-3-2-1-7 2-6 10-18 16-18 6-5zM810 280l2 4-2 6-14 26-10 24-10 22-3 8 1 3 3 0 3-2 27-23 6-4 3 0 3 2-1 6-15 42-14 20-9 10-6 5-3 0 0-1 3-18-1-6-2-4-3-1-3 0-6 4-18 15-6 4-1 0-1-4 10-24 7-20 18-36 1-10-1-12 30-29 6-4zM462 290l1 2-1 4-2 6-18 26-3 6 2 18-1 6-4 10-8 12-17 19-9 9-3 1-3 0-1-5 0-6 1-6 5-10 29-42 2-6 3-12 6-12 12-15 6-4zM654 340l1 4-1 6-12 38-14 18-10 10-6 4-2-2 2-18-3-12 3-8 11-16 16-17 9-8 3-1zM477 345l2 5-2 8-25 42-7 22-8 18-13 18-13 15-9 9-3 2-3-2-1-10 4-8 9-16 19-26 7-12 3-22 5-12 8-12 12-12 9-7 3-1zM687 348l1 2-1 4-12 18-9 10-3 1-2-1-1-2 5-10 13-14zM663 399l3 4 0 3-4 22 1 4 3 1 3-2 27-21 6-1 2 3-4 12-18 40-16 30-1 6 1 1 6-2 30-25 3-1 3 0 1 5-12 40-4 8-15 21-9 10-6 5-3 0 0-2 2-22-2-4-3-2-3 1-6 3-18 14-6 4-2 0 0-4 9-24 7-20 14-30 0-10-1-1-6 1-27 21-4 1-1-4 9-30 7-14 22-32 6-7 3-2zM489 406l2 6-1 6-8 18-33 46-35 66-21 26-6 7-1-1 1-5 21-43 29-42 3-8-2-18 1-6 5-10 12-16 18-20 9-6 3-1zM531 412l1 4-3 8-17 30-10 24-7 12-21 36-12 15-9 8-1-1-2-18 3-10 6-9 28-35 4-10 2-14 8-16 18-19 6-4 3-1zM821 418l1 6-5 24-3 6-9 12-10 10-9 6-2 0-1-6 5-18 6-16 7-9 9-10 6-4 3-2zM908 418l-5 8-2-2 5-6zM363 468l1 4 0 6-4 13-6 9-9 11-6 5-3-1 0-3 1-6 7-16 10-14 6-7zM543 469l2 3-1 6-7 24 0 12-1 4-23 24-18 17-2-3 4-12 2-8-5-16 2-6 11-14 21-23 9-7 3-2zM831 475l2 3-1 6-10 19-12 14-6 3-3 0-1-2 1-6 6-13 15-19 6-5zM579 476l2 2-2 6-21 29-6 6-3 1-4-2-2-4 1-2 5-6 21-23zM552 529l3 3 1 6-4 18 0 7 3 1 3-1 21-17 9-6 3 0 2 2 0 2-4 12-21 42-17 30-3 10 0 2 1 2 3 0 36-32 6-2 1 2 0 6-2 6-15 34-11 15-9 8-2-3 0-8-1-4-3-4-6-3-6 3-18 13-3 1-1-4 4-24 4-8 13-24 3-10 0-6-2-2-3 0-6 4-24 19-6 3-1-2 7-30 5-12 10-16 24-30 3-3zM372 534l2 8 0 6-1 6-5 8-11 15-12 14-6 5-3 1-3-1-1-4 2-8 3-10 7-12 8-12 11-12 6-4zM711 550l0 6-5 24-2 6-7 10-13 12-9 6-2 0-1-4 6-22 6-14 8-12 10-10 6-4zM742 560l-1 4-6 9-6 7-3 2-3 0-1-2 1-2 4-6 8-9zM874 560l0 2-4 8-6 6-3 2-3 0 0-4 6-8 6-5zM939 564l1 2-2 2-5 5-1-1 4-6zM423 594l-1 16-3 10-8 12-23 30-4 6-1 6 3 8-1 6-6 16-10 14-15 17-9 7-3 1-3-1-2-6 1-6 6-14 30-42 7-22 14-24 19-26 6-7zM468 597l2 1 1 4-4 8-11 14-9 8 0-4 9-17 6-9zM372 602l3 3 2 11 0 6-3 10-8 11-12 15-9 8-6 2-3-4 0-6 5-14 12-18zM717 623l3 2 1 3-1 6-3 6-6 8-6 6-6 4-3 0-3-2 1-4 5-11 9-13 6-5zM789 628l0 4-6 9-6 6-3 1-2-2 2-6 6-7 6-4zM857 632l-2 6-9 9-3 1-1-2 1-4 6-8 6-3zM923 634l-5 9-3 1-1 0 1-4 6-6zM426 671l4 5 0 4-1 6-8 12-23 30-8 12-2 6-4 19-6 13-8 12-10 10-6 4-3 1-3 0-2-5 2-10 23-38 6-22 5-12 10-14 16-20 12-11 3-2zM472 674l2 2-5 10-13 14-9 7 0-3 3-8 9-14 6-6zM630 700l0 4-3 6-6 6-3 1 0-4 3-5 6-6zM702 699l2 1-1 4-4 5-6 7-3 1-3 1 0-2 3-7 6-7zM771 699l1 1 0 4-7 9-6 6-3 1-3 0 1-4 5-9 6-6zM837 701l3 3-3 4-6 7-6 3-1-2 4-6zM906 703l0 3-2 4-7 6 0-4 3-5zM426 744l3 4 0 4-2 8-8 16-26 36-6 20-3 7-6 10-9 11-4 2-6 0 1-6 2-6 18-26 2-6-2-18 2-6 4-10 9-12 16-18 9-8 3-2zM468 747l0 5-3 6-9 9-2-1 2-5 6-9 3-4zM614 772l0 4-5 6-3 1-2-1 5-8 3-2zM681 772l1 4-4 5-3 2-2-1 4-6zM752 772l-2 6-3 4-6 3 1-3 2-4 6-6zM432 815l2 3 1 6-3 8-6 12-14 18-24 0 11-18 15-18 12-11 3-1zM465 829l-2 7-7 9-6 6-2-1 2-5 6-9 6-6z"/><path fill="rgb(178,178,255)" fill-rule="evenodd" d="M761 218l1 2 0 4-6 12-12 20-6 7-3 3-2-4-1-8 4-12 6-10 8-9 9-6zM771 278l1 6-2 6-9 26-3 6-8 10-9 9-6 4-3 0 0-5 4-18 6-14 8-12 9-11 6-5 3-2zM426 290l0 6-3 6-12 17-12 11-3 1-3-2 0-3 2-6 10-17 9-10 6-4 3-1zM804 287l2 3-2 6-13 26-8 20-13 26-2 8 0 4 3 1 3-2 30-26 6-4 3-1 2 2 0 2-1 6-16 39-12 17-9 8-1 0-1-4 2-12-1-6-2-4-3-2-3 0-3 1-21 18-6 3 0-5 9-19 6-21 19-37 3-14 2-6 7-10 14-13zM592 292l-1 6-6 8-3 2-1 0 2-6 5-7 3-3zM633 291l1 1-1 4-6 9-6 5-1-2 1-4 6-8zM435 345l3 5 0 6-3 8-4 10-9 12-11 12-6 5-6 3-2-2-1-6 2-6 4-10 9-14 12-15 9-8zM651 345l1 5-2 6-13 36-13 16-6 5-3 1-1-2 0-14-1-12 4-10 8-12 14-14 9-6zM474 352l0 6-2 6-22 36-7 24-10 18-10 16-12 14-9 7-3 0-2-7 3-8 8-15 26-37 3-6 2-18 6-12 8-11 9-9 6-5 3 0zM660 403l3 1 1 6-4 20 0 4 3 2 6-3 24-19 6-2 1 0 1 4-3 8-17 38-18 34-1 6 1 4 3-1 6-4 27-23 6-3 2 3-2 11-14 37-13 18-6 7-6 4-3-1 1-18-1-4-3-2-3-1-6 3-21 16-3 1-2-1 2-6 7-18 5-18 14-30 2-6-1-7-3-2-3 1-27 22-3 1-3 0 0-3 8-28 7-14 18-26 6-7zM486 412l1 4 0 6-9 18-22 28-9 10-3 1-3-7-2-8 2-6 4-10 11-14 15-16 9-6 3-1zM525 421l0 3-2 6-10 16-9 11-3 2-2-1-1-4 0-6 6-10 12-14 6-4zM816 427l0 5-2 10-7 15-12 14-3 2-3 0 0-7 3-11 6-13 6-8 6-6 3-2zM540 472l3 4-1 6-13 38-13 17-15 13-2-2 2-16-3-12 1-6 8-12 15-17 12-11zM498 474l-2 8-4 8-15 26-15 19-3 3-3 0-3-5-1-3 1-6 3-6 9-13 24-27 6-5zM357 480l1 2 1 2-2 7-6 9-6 4 0-4 3-8 6-9zM576 483l-3 8-12 16-6 5-3 1-1-1 1-6 7-10 14-13zM819 492l2 2-1 2-7 8-1-2 1-2zM435 498l0 4-21 42-6 10-12 14-1-2 16-36 12-18zM588 543l3 1-2 10-22 43-33 56-3 3-3-2-1-4 0-10 16-32 2-6 0-6-2-4-3 0-3 1-24 20-6 3-3 1 0-7 5-20 3-10 7-12 12-16 12-14 6-4 3 0 2 4-5 28 3 2 6-3 21-18zM369 539l3 4 0 5-1 6-5 8-15 20-6 6-6 2-2-4 0-2 3-10 5-8 8-12 7-9 6-5zM705 558l0 4-3 10-6 15-9 11-3 2-3 0 0-4 3-12 4-10 5-8 6-7 3-2zM417 603l3 1 0 6-4 12-17 23-15 16-2-3 1-6 7-14 15-22zM372 611l3 5 0 6-5 12-7 11-9 10-6 5-3 1-3 0-1-3 0-6 6-14 16-22 6-5zM591 613l1 3-1 6-9 19-12 18-3 2-3 1-9-10-1-2 1-4 6-8 15-16 9-7zM381 677l2 5 1 6-3 10-5 8-10 14-12 12-6 4-3 1-3-2-1-5 1-6 10-18 20-26 6-4zM426 675l2 5 0 2-4 10-37 50-3 6-2 18-6 12-7 10-9 8-6 3-3-2 0-7 2-6 21-32 2-6 3-16 7-14 12-18 13-15 9-8 3-1zM465 686l-6 7-3 2-1-1 1-3 6-7zM425 748l2 4 0 6-7 14-24 32-6 6-3 0-3-4-1-6 2-10 5-8 11-16 13-13 6-5 3-1zM432 820l0 6-3 10-7 12-12 14-20 0 8-14 16-20 6-6 6-3 3-1zM383 830l-1 6-4 7-6 7-3 2-1-2 0-2 4-8 9-11z"/><path fill="rgb(145,145,255)" fill-rule="evenodd" d="M753 228l0 4-3 7-6 7-3 2-1-4 4-8 6-7zM765 285l2 1-1 6-10 25-9 14-6 5-3 2-1-4 1-8 3-10 3-7 12-17 6-6zM417 297l3 1-2 6-3 6-10 11-6 3-1-2 0-2 4-9 9-10zM798 298l-3 8-11 20-3 14-4 9-19 33 1 10-6 8-6 5-1-1 1-4 8-14 1-16 6-12 16-26 4-18 4-6 9-10zM646 350l2 2 0 4-12 29-6 11-6 7-3 2-2-1-2-18 3-10 6-8 7-9 6-6zM432 351l2 1 1 6-3 10-5 8-9 12-10 10-6 4-3-1 0-9 8-16 16-20 6-5zM810 354l1 4-1 4-12 28-6 11-9 10-2-1 0-10-5-12 2-6 7-8 13-13 6-5zM468 358l2 4-5 11-9 14-12 15-3-4 1-10 3-8 11-15 6-5zM441 408l1 4 0 10-8 18-10 14-10 12-6 6-6 4-3-4 0-2 2-6 4-9 15-21zM660 408l1 2 1 6-5 20 1 4 2 2 6-4 24-20 6-3 2 1 1 2-3 10-18 38-18 34-3 8 3 4 3-1 33-29 6-3 3 3-3 12-14 32-10 15-9 7-1 0-1-16-4-5-3-2-3 0-6 4-18 14-3 1-1-2 8-22 5-18 13-30 2-8-2-6-1-2-6 4-18 16-9 6-3 0-1-4 9-26 7-16 9-13 9-10 6-5zM480 416l3 2 0 6-4 10-5 8-12 16-9 10-6 5-3-1-3-6 0-2 1-6 5-10 9-12 9-10 9-7zM537 476l3 2-1 6-12 34-8 12-6 6-6 4-2-2 0-8-3-10 1-8 8-12 11-13 9-8zM488 488l0 2-2 6-12 20-9 10-3 3-4 1-2-2 0-4 6-12 15-17 9-8zM423 516l2 2-2 4-15 26-1 0 4-13 6-12zM588 546l0 4-3 9-24 46-18 28-6 6-3 1-2-2 1-6 14-30 1-6-2-8-3-2-3 1-24 21-6 4-3-1 0-5 4-16 6-16 14-20 9-11 6-5 3-1 2 1 1 4-6 26 0 4 3 2 30-25 6-3zM369 546l0 8-3 6-6 9-12 13-3 1-3-1 0-4 2-6 10-17 9-9 3-2zM416 610l1 4 0 2-6 12-15 19-6 5-3 1 0-3 2-6 10-17 12-15 3-2zM370 616l2 4 0 6-5 12-13 14-6 3-3-1 0-4 2-6 6-12 10-12 3-3zM588 619l0 3-3 8-9 14-6 6-3 1-3 0-2-1-1-4 4-8 14-16 6-4zM423 678l2 2 0 6-6 12-29 36-6 7-3 0-1-5 2-8 9-18 11-16 9-9 6-5zM378 681l3 3 0 8-6 13-9 12-9 9-6 5-3 0-2-1-1-2 1-6 8-16 15-19 6-5zM423 751l2 3-1 6-4 10-5 8-19 23-6 3-3-1-1-7 1-6 9-14 9-12 9-9 6-4zM378 753l2 5 0 2-2 10-3 6-9 11-6 4-3 1-1-4 3-10 10-15zM429 824l0 6-3 8-9 14-9 10-15 0 5-12 13-16 12-11 3-1z"/><path fill="rgb(110,110,255)" fill-rule="evenodd" d="M756 299l2 3-2 4-6 11-3 2 0-6 3-7zM429 356l2 2 0 6-6 12-14 17-6 4-3 0-1-3 1-6 6-12 12-14 6-5zM642 358l0 4-2 6-7 12-6 7-3-1-1-6 4-10 9-10 3-2zM804 361l1 3-1 4-6 13-6 8-3 3-3-1-3-5 2-6 10-13zM462 367l0 4-6 11-6 7-3 1 0-4 3-9 6-7 3-3zM657 413l2 3 0 2-6 30-6 10-12 12-8 6-6 2-1-2 1-6 6-18 6-12 6-10 9-11 6-5zM438 420l0 4-3 10-11 18-13 15-6 4-3-1 0-4 3-8 9-14 18-22 3-3zM693 419l3 3-2 6-19 41-24 43-2 12-5 6-5 4-2-2 6-14 0-10 1-6 14-32 3-22 4-6 12-12 10-8zM477 423l1 1 0 6-11 18-14 17-3 2-3 0-3-3 1-6 2-6 6-10 15-16 6-3zM534 482l2 2-1 6-10 23-9 12-3 2-3-1-4-8 2-10 6-8 8-10 6-5zM702 484l-3 12-15 31-6 8-3 3-3-1-2-7-6-10 0-2 1-4 11-12 14-13 9-6zM474 504l1 2-1 2-9 11-1-1 1-5zM549 544l0 6-8 28-3 6-13 14-9 7-3 1-2-2 0-2 2-12 3-10 4-8 11-16 9-10 6-4zM585 550l0 4-3 8-24 44-12 17-3 3-3 1 3-11 8-18 0-14 2-6 7-10 12-12 10-7zM363 552l2 2-2 6-6 9-6 5-2-2 2-6 6-10zM411 618l1 2 0 2-4 7-9 12-3 2-3 1 1-4 5-10 6-8zM366 623l2 3-2 8-9 11-3 2-3 0 0-3 4-10 5-7zM579 630l-3 6-3 2-1 0 1-4 3-3zM422 682l1 4-2 6-10 14-18 22-6 5-3 0 0-5 3-10 12-18 15-16 6-2zM378 687l0 7-6 13-12 14-6 4-3 0-1-3 1-6 9-16 12-13 3-1zM420 755l2 3-1 6-4 8-6 9-9 11-6 5-3 2-3-1 0-8 8-14 13-16 6-4zM375 766l-2 6-4 6-3 3-3 1 0-4 6-9 3-3zM423 827l3 3 0 2-3 6-6 11-12 13-7 0 1-8 6-10 9-11 6-5z"/><path fill="rgb(65,65,255)" fill-rule="evenodd" d="M426 364l0 4-6 12-6 7-6 4-3-3 6-12 9-11 3-2zM654 419l0 9-5 18-4 8-12 14-6 5-3 0 0-4 3-11 9-21 12-15 3-2zM690 424l1 4-1 3-21 45-15 23-3 2-3 0 3-11 11-24 3-14 2-6 11-14 6-5zM432 426l1 2 0 6-7 12-9 12-6 6-3 1-2-1 0-4 5-10 12-16zM471 430l1 4-1 2-6 12-6 7-6 5-3 2-1-2-1-2 0-4 5-8 9-11 6-5zM531 490l0 4-6 12-6 7-3 2-3 0-1-3 0-4 4-7 9-10 3-2zM696 488l2 2 0 4-8 16-9 13-3 2-3-1-3-3-1-3 1-6 12-16 6-5zM543 548l3 2-1 4-8 24-8 12-10 8-3-2 0-4 2-8 3-10 10-15 6-7zM579 554l2 2-2 7-12 21-9 11-2-11 3-10 9-12zM417 686l2 2 0 4-5 8-15 20-9 7-2-3 0-2 8-15 12-15 6-5zM372 693l3 1-4 10-8 10-6 4-2-2 4-10 7-9zM417 760l1 4 0 2-4 8-9 12-9 7-3-3 2-6 3-6 10-12 6-5zM420 835l0 3-6 10-6 6-3 2-1-2 1-4 3-6 9-9z"/><path fill="rgb(20,20,255)" fill-rule="evenodd" d="M648 429l0 6-6 17-6 9-3 3-3 0 0-4 6-17 6-10 3-3zM684 432l1 2-1 3-12 23-1 0-2 7-1-1 3-20 7-10zM426 436l1 0 0 4-4 6-6 8-3 3-3 1 2-6 4-7zM461 446l-2 3-3 2 0-3 3-4zM666 468l2 2-2 5-6 9-1-2 1-3zM691 496l-1 6-3 6-6 6-3-1 1-5 2-4 6-6zM537 557l3 3-3 8-6 11-6 6-2-1 0-4 2-7 6-10zM573 564l0 3-3 5-3 3-3-1 6-8zM414 693l-1 5-8 12-9 9-3 0 3-8 6-9 9-9zM411 768l1 2-1 4-3 4-6 6-2-2 5-9z"/></g></g>
<rect x="137.3" y="9" width="521.7" height="422" fill="none" stroke="#262626" stroke-width="5.4"/>
<path d="M205.4 431v-8.0M205.4 9v8.0M318.7 431v-8.0M318.7 9v8.0M432.1 431v-8.0M432.1 9v8.0M545.4 431v-8.0M545.4 9v8.0" stroke="#262626" stroke-width="5.4" fill="none"/>
<path d="M137.3 424.5h8.0M659 424.5h-8.0M137.3 288.3h8.0M659 288.3h-8.0M137.3 152.1h8.0M659 152.1h-8.0M137.3 15.9h8.0M659 15.9h-8.0" stroke="#262626" stroke-width="5.4" fill="none"/>
<text x="192.5" y="476.3" font-size="46.5" fill="#262626">0</text>
<text x="305.8" y="476.3" font-size="46.5" fill="#262626">2</text>
<text x="419.1" y="476.3" font-size="46.5" fill="#262626">4</text>
<text x="532.5" y="476.3" font-size="46.5" fill="#262626">6</text>
<text x="645.8" y="476.3" font-size="46.5" fill="#262626">8</text>
<text x="84.2" y="441" font-size="46.5" fill="#262626">-2</text>
<text x="99.6" y="304.8" font-size="46.5" fill="#262626">0</text>
<text x="99.6" y="168.6" font-size="46.5" fill="#262626">2</text>
<text x="99.6" y="32.4" font-size="46.5" fill="#262626">4</text>
<text transform="translate(176.15,0) scale(0.91,1) translate(-176.15,0)" x="158.83" y="77.72" font-family="Liberation Sans" font-weight="bold" font-size="58.45" fill="#000" >a</text>
<text x="398.2" y="523" text-anchor="middle" font-size="54" fill="#000"><tspan font-style="italic">t</tspan> (ps)</text>
<text transform="translate(66.7,220.3) rotate(-90)" text-anchor="middle" font-size="54" fill="#000">Delay <tspan font-family="Liberation Serif" font-style="italic">τ</tspan> (ps)</text>
<clipPath id="cpb"><rect x="868.0" y="9.0" width="521.7" height="422.0"/></clipPath><g clip-path="url(#cpb)"><g transform="scale(0.5)" ><path fill="rgb(255,228,228)" fill-rule="evenodd" d="M2272 87l2 1-2 9-23 37-5 12-19 42-10 14-9 9-2-3 2-5 8-22 10-15 21-32 4-18 3-10 10-13zM2224 102l0 2-6 12-6 5 0-4 2-7 6-7zM2391 106l-2 10-3 6-6 7-4 2 0-4 6-13 6-8zM2290 136l1 4-1 8-5 12-9 18-9 16-13 17-12 13-3 0 4-22 0-14 3-10 11-14 17-19 10-7zM2326 142l1 4-1 2-10 14-12 12-2-1 2-7 6-9 10-10zM2116 144l1 4-2 6-9 17-14 19-6 4-4 0-2-4 0-6 5-12 9-12 10-10 6-5 2-1zM2152 150l-4 8-6 8-6 5 0-1 0-4 6-8 6-7zM2440 161l1 3 0 2-5 10-8 14-4 4-2 0-1-10 2-6 7-10zM2292 201l4 0 1 7-6 28 1 3 6-3 28-23 6-2 1 3-4 10-17 30-8 20-12 28-1 8 1 3 4-2 24-23 12-9 2-1 4 1 0 5-5 14-13 30-18 27-10 9-6 5-2-1-1-4 6-20 2-10-1-8-4-2-32 29-4-1 3-8 15-36 20-36 2-6-1-6-3-3-2 0-34 29-2 2-4-2 6-30 5-12 19-26 12-13zM2124 205l3 3-1 10-3 8-6 12-17 23-8 9-6 4-3-6 0-8 1-6 4-10 10-14 14-18 6-6 4-1zM2166 205l3 3-3 10-22 36-10 26-8 16-20 31-12 14-6 4 9-31 26-46 3-18 3-8 8-12 15-16 8-8zM2218 265l2 3-3 6-22 34-6 12-9 42 2 2 6-2 26-22 4 0 2 0 0 4-2 8-15 30-8 22-11 24-1 6 1 3 4-1 24-20 8-6 4-1 3 1 1 2-1 6-8 30-7 12-24 33-10 9-6 5-2-2-1-3 0-6 7-24 0-7-2-1-4 0-28 23-6 2 0-1 3-10 32-68 1-6-2-3-6 1-24 18-6 3-4-1 0-4 3-14 1-16 2-6 5-8 27-40 7-18 5-8 22-28 10-10zM2176 268l1 4-1 8-18 42-8 12-14 16-8 9-6 3-2-4 5-20 1-18 2-6 14-18 18-21 10-7 2-1zM2002 273l1 5-1 6-10 18-24 30-6 4-2-1-3-7 1-6 2-6 5-8 11-16 14-14 6-4 2-2zM1955 280l1 4-2 8-11 22-8 12-11 12-6 5-4-1-2-4 1-6 2-6 5-10 12-16 12-14 6-5 4-2zM1882 324l2 2-3 18-5 12-18 26-6 12-1 6-1 18-3 12 1 1 24-26 16-14 2 0 1 3 1 10-2 8-8 16-21 30-7 12-2 6-3 18-5 12-6 8-16 18-10 9-6 2-2-5 1-12 7-12 18-30 2-6 4-18 10-26 0-2-9 10-15 17-12 11-6 4-4 1-3-3-1-6 1-6 7-14 24-37 16-35 9-18 17-21zM1836 327l6 19 0 6-2 6-8 12-14 17-12 11-6 3-2-2-1-7 4-16 7-12 10-14 12-17zM2008 339l2 5 0 6-7 18-9 14-9 12-11 11-2 2-4-3-2-12 2-6 2-6 10-15 16-19 6-5 2-2zM2050 340l2 4-2 8-16 30-7 22-5 8-16 28-13 24-15 18-6 5-4 1 4-8 10-20 10-24 16-30 2-8-1-12 3-10 9-12 13-14 10-8zM2344 341l0 9-6 20-1 16-1 2-9 12-13 14-10 8-6 2-1-2 1-18-1-12 2-6 11-16 18-20 10-8 2-2zM1956 354l1 4-4 10-14 26-13 19-8 10-6 6 0-3 8-25 6-12 22-28 6-6zM2276 400l-2 6-11 16-13 13-6 5 0-4 3-6 13-16 12-13 2-1zM2106 402l1 4-3 6-17 28-7 12-10 36-1 6 1 2 4-1 30-22 3-1 2 4-3 8-13 28-7 20-11 24-2 10 3 1 4-2 20-18 10-6 2-1 4 2 1 2 0 6-9 30-7 12-25 32-8 9-6 4-4-1 0-4 7-28-1-5-2-2-6 2-24 20-6 3-2-2 3-10 31-62 2-6 0-6-2-3-6 1-24 18-6 3-2-1-1-4 3-14 2-18 6-12 20-30 3-6 1-6-2-4-2 1-34 31-6 4-2-1-1-5 5-20 1-16 2-6 3-6 10-12 16-17 12-10 6-2 2 2 1 3 0 6-4 18 1 5 2 1 6-5 28-25 6-4zM1893 460l2 22-3 12-29 42-14 30-13 20-18 23-6 6-6 3-1-2 0-6 4-12 26-38 5-10 1-6 0-18 5-14 11-16 25-27 8-9zM1936 463l2 3 1 4-1 8-7 12-20 28-5 8-2 6 1 16-1 6-6 12-13 18-34 44-33 59-14 18-4-1 15-34 27-42 2-8-1-18 5-12 8-12 30-40 14-27 14-25 12-16 6-6zM2236 465l0 7-7 28 1 8 2 3 4-1 24-20 2 0-3 6-5 9-10 11-6 3-8 3-34 30-6 4-3 0-2-2 1-18-2-5-4-7 9-12 35-40 8-8zM2172 525l2 1-1 4-15 18-22 21-2 1 0-4 5-10 15-19 12-12 4-1zM1950 535l3 3 0 4-4 12-10 14-24 30-11 28-12 24-13 18-25 26-2-2 1-10-2-12 1-6 7-12 27-36 3-6 4-18 5-12 16-20 18-19 10-7 6 0zM1996 533l0 3 0 2-3 6-30 42-5 24-12 28-7 8-14 16-7 8-23 48-9 16-20 21-8 9-4 1-1-5 0-12 4-12 9-14 26-34 6-8 0-6-2-10 2-8 8-12 37-42 3-6 4-16 9-14 25-26 6-5zM2122 600l1 4-1 6-13 42-6 10-9 8-6 5-6 3-2-2-1-12-2-8 0-4 2-6 9-12 18-22 10-9zM1996 606l0 4-2 6-24 40-4 18-9 18-8 12-30 38-27 54-6 10-20 23-6 5-2-2 4-20 4-10 23-36 5-8 2-10 0-12 3-8 12-16 30-30 10-12 1-6-6-8 0-4 2-6 7-8 25-24 10-7 2-1zM2002 675l1 1 0 4-2 6-5 11-10 13-8 10-12 10-6 2-4-2-2-6 1-6 3-6 6-8 12-12 14-12 6-4zM1828 733l0 3 0 7-6 16-6 10-10 11-6 5-2 1-1-2 0-6 7-14 12-18zM1954 746l2 2 0 4-3 8-7 16-9 14-27 40-20 32-9 0 14-20 8-16 1-8-2-16 3-8 12-16 15-16 16-13zM1830 811l2 3 1 6-5 12-10 13-8 10-6 4-4 1-1-4 0-6 4-8 5-10 14-17 6-4zM1953 826l0 6-2 6-6 12-7 12-24 0 12-16 16-16 6-5 2 0z"/><path fill="rgb(255,203,203)" fill-rule="evenodd" d="M2284 147l0 1 0 6-10 20-14 22-6 6-4 1-1-15 1-6 3-6 8-12 11-11 8-7zM2290 210l2 4-1 6-9 28-3 6-7 8-16 16-6 3 0-7 3-18 5-12 8-11 8-11 10-9zM2160 214l2 4-4 8-24 35-3-5 0-6 4-12 13-16 6-6zM2118 215l2 3 0 6-8 14-12 16-6 5-2 1-2-4 0-6 6-12 14-17 6-5zM2322 222l1 2 0 2-3 6-18 28 0 2-4-3-1-5 0-6 2-4 11-14 10-7zM2298 263l3 3-2 12-19 44-7 10-7 7-6 5-4 1 4-10 14-33zM2130 267l1 5 0 6-7 13-12 19-9 10-2-4 1-2 4-12 10-15zM2172 273l2 5-2 8-18 40-8 11-10 11-8 7-4 1 0-4 4-18 1-14 4-10 11-14 14-15 8-7 4-2zM2208 280l0 4-2 4-20 28-3 6 0 16-6 26 1 4 4 0 30-23 3-1 2 2-2 10-15 30-6 18-13 26-1 10 2 2 2-1 24-21 10-7 6-1 2 4 0 2-10 30-6 12-13 18-13 15-8 8-4 0 0-7 6-24 0-6-2-5-6 3-28 23-2 1-1-2 3-8 30-64 2-6 0-6-2-1-2-1-6 2-24 18-6 2-1-4 4-28 3-8 5-10 32-44 3-6 2-6 6-11 12-16zM2332 286l1 4-2 6-14 32-15 23-6 6-6 3-1-4 5-18 1-16 2-6 7-8 12-14 10-7zM1992 288l-2 9-10 13-8 9-4 2-1-1 0-4 2-6 9-12 8-9 4-2zM1944 296l1 6-3 6-9 14-9 10-4 2-2-1-1-5 7-12 12-15 6-4zM1878 334l1 10-3 8-25 42-2 6-1 18-5 12-8 12-17 18-8 7-6 2-4-2 0-3 3-12 8-16 20-30 12-26 8-16 15-22 10-8zM1834 341l2 3 2 2 0 6-1 6-3 6-9 12-9 10-6 5-4 2-2-1-2-4 1-6 7-14 14-21 6-5zM2044 349l1 3-1 4-4 8-18 29-2 1 0 12-3 10-15 21-4 3-1 0 1-6 4-8 17-28 0-4-3-8 2-10 5-8 9-10 6-6zM2002 351l1 1-1 6-10 18-12 13-2 2-4-1-1-4 1-4 6-12 12-14 6-4zM2334 351l4 1-1 4-11 36-6 8-5 6-7 7-4 0-1-3 0-18 3-10 5-8 9-11 8-9zM1942 376l0 4-6 12-10 14-2 1 2-9 4-8 6-9zM1888 395l1 3 1 6-2 12-9 14-27 40-2 6-3 18-3 8-8 12-12 13-8 8-4 1-2 0-2-4 1-8 6-12 17-28 2-6 4-20 6-16 10-14 12-16 16-14zM2100 407l3 3-2 6-17 26-6 12-10 36-1 6 3 2 4-1 24-19 6-3 2 0 1 3-3 10-13 26-8 22-11 24-2 8 0 3 4 1 2-2 24-21 10-6 2 0 3 1 0 6-8 28-8 14-19 26-10 9-6 3-2-2 0-2 5-24 0-6-3-3-2 0-4 2-26 22-4-1 0-2 32-70 2-6 0-6-4-1-6 2-26 19-4 0-1-4 3-16 1-12 1-6 7-12 22-32 3-10 0-6-2-2-28 27-12 11-2 2-4 0 0-4 8-40 9-14 19-22 10-6 2-1 4 1 1 6-5 22 0 9 4 0 26-27zM1890 466l4 16-1 6-4 8-29 42-12 26-12 19-14 20-6 5-4 1-2-1 0-4 2-8 29-46 2-6 0-12 1-8 6-16 8-12 20-23 10-8zM1932 472l3 4 0 2-4 10-28 38-1 6 2 16-6 14-18 28-32 37-2 1 0 3 0-11-2-16 1-6 4-8 10-16 31-38 12-28 12-19 12-14 4-2zM2232 472l1 4-1 6-7 20-3 16-3 6-7 8-10 10-6 5-2 2-4-1-2-24 3-10 11-14 16-19 8-8 4-1zM1948 537l2 3 1 4-7 16-33 42-8 24-17 30-16 21-12 11-3-2-2-12 1-10 8-14 28-36 2-6 2-16 6-12 13-18 17-17 12-8zM1992 538l0 4-5 8-29 40 0 12-1 8-10 22-9 12-24 26-10 28-18 32-16 21-6 5-6 4-3-2 0-10 2-8 2-6 10-16 29-36 3-6 0-2-3-12 3-10 9-12 40-44 2-4 0-8 2-6 9-16 21-20 6-4zM1992 609l1 5-3 8-18 27-10 9-2 1-6-3-3-4 0-2 3-6 4-6 22-22 10-6zM2117 610l1 4-2 7-12 25-10 12-2 2-4-1-2-5-1-4 3-10 8-12 10-12 6-5 4-1zM1838 644l-4 9-13 21-1-4 1-2 3-7 12-18zM1960 670l1 4 0 2-5 12-10 16-31 42-18 36-11 20-14 17-6 6-2-1 0-12 5-12 24-36 4-10 1-6 0-12 3-8 6-10 13-14 34-30zM1998 682l-1 6-5 8-12 15-12 9-2 1-4-2 0-3 2-6 12-16 10-9 6-4 4 0zM1818 751l1 3-1 4-2 5-7 7 0-4 1-2 6-10zM1948 758l0 2-1 6-7 16-16 23-12 14-4-2-3-11 0-6 3-6 8-12 16-17 10-7 2-1zM1828 820l0 6-4 6-8 11-6 4-2-3 1-2 6-12 7-9 2-2zM1944 838l-2 10-9 14-15 0 8-12 10-10 6-3z"/><path fill="rgb(255,175,175)" fill-rule="evenodd" d="M2274 160l0 4-6 10-6 8-2 1-3-1 3-10 8-10 4-2zM2284 220l1 4-1 6-10 20-8 14-6 5-2-1-1-2 2-16 3-7 12-17 6-5zM2170 279l0 5-3 8-15 32-12 17-6 5-4 1 0-3 2-22 4-12 8-12 14-14 8-6zM2284 294l1 2-1 2-6 10 0-4zM2326 295l0 3-3 10-13 24-8 13-4 2-2-1 5-24 3-8 6-10 6-6 6-3zM2178 334l2 4 1 2-7 28 0 2 2 3 6-2 26-22 4-1 2 2 0 2-2 7-14 27-8 21-12 27-3 8-1 10-7 8-13 13-8 7-4 0 4-9 18-40 11-21 2-10-1-2-3-4-3 0-4 1-24 19-6 3-1-5 4-26 6-12 13-19 14-18 4-2zM1872 343l3 3-2 10-23 36-3 6-1 20-5 12-8 12-11 13-10 7-2 1-4 1-2-4 0-2 1-6 5-10 25-38 10-24 9-18 10-12 6-6zM1831 350l3 1 0 5-3 8-13 16-6 4-2 0-2-2 1-6 6-12 9-11zM2326 365l1 3-5 12-6 8-2 1-2-3 2-7 6-9zM1884 399l4 2 0 5-3 12-6 12-30 42-2 6-2 16-3 8-8 12-10 10-6 5-2 1-4 0 0-6 3-10 21-32 1-6 2-16 3-8 6-12 8-12 10-14 12-12zM2058 409l3 3-1 6-7 28-2 6-9 12-14 14-8 8-6 2-1-6 5-28 3-8 8-12 15-16 8-8zM2098 413l0 3-3 6-18 30-12 44 0 4 3 1 2-1 30-22 4-1 1 1-1 6-15 30-8 24-13 28-2 6 0 12-22 20-10 7-1-1 1-6 29-62 2-10-3-3-6 0-24 18-6 2-2-1 0-4 4-30 6-12 24-36 4-8 2-10 2-6 20-21 6-6zM2222 416l1 2-1 10-8 20-6 12-8 12-12 16-10 7-2 1-1-6 5-20 0-16 2-6 10-12 16-15 10-6 2 0zM1888 470l2 3 2 9 0 6-4 8-32 46-10 24-10 15-12 15-6 5-2 0-1-5 3-6 25-40 2-6 0-18 5-14 6-10 14-17 12-12zM1930 481l-2 7-5 8-15 19-8 9-1-4 3-8 10-16 12-14 2-2zM2226 479l2 3-1 6-13 33-8 13-6 4-4 1-3-19 3-8 6-10 12-14 6-6zM1896 533l4 3 1 6 1 6-1 6-4 8-7 12-16 22-16 18-6 4-4-2-2-12 1-6 3-8 8-12 14-19 18-21zM1948 541l0 3-1 6-7 12-9 12-21 24-4 6-3 18-14 28-8 12-11 13-10 7-2 0-4-12 2-8 9-16 28-36 2-6 1-12 7-14 11-16 16-15 6-4 6-3 2 0zM1986 544l0 4-12 17-8 11-6 3-2-1 1-4 7-12 12-12 6-5zM2112 546l1 4-2 10-6 18-6 12-8 12-11 13-6 5-6 3-2-3 4-22-2-14 1-4 31-30 10-5zM1954 601l1 3-1 10-4 8-7 12-10 12-19 19-6 5-2 0-4-3-1-5 1-6 5-10 13-14 22-23 8-8zM1990 614l0 5-4 7-14 19-10 7-2 0-4-2 1-6 9-12 14-14 6-4zM2106 624l1 2 0 2-7 10-2 1-1-1 1-4 6-8zM1906 681l1 5-3 8-15 30-9 12-10 13-6 5-4 1-1-1-2-2 0-10 2-6 5-8 12-17 24-27 2-3zM1954 682l-3 10-6 8-35 48-10 26-12 22-10 13-6 6-2 1-2-2 0-6 4-12 23-32 6-12-1-16 2-6 3-6 12-14 15-15 18-13zM1989 692l-2 6-9 9-4 0 0-1 0-2 5-6 7-7zM1942 766l0 4-3 6-9 17-12 14-4 2-2 0-4-4 0-5 2-6 4-6 10-12 8-8 6-3z"/><path fill="rgb(255,143,143)" fill-rule="evenodd" d="M2164 285l1 1 0 4-5 11-12 21-8 11-3-1 0-12 2-10 6-8 7-9 6-5zM2176 341l1 3 0 6-7 24 0 2 2 5 6-4 24-21 6-3 2 3-1 2-17 34-5 18-13 26-6 18-9 12-11 9 0-3 0-3 18-40 14-25 2-6-1-4-5-5-4-1-2 1-24 21-6 3-2-3 4-24 3-10 9-15 12-14 6-5zM1866 353l3 3-3 6-8 15-10 11-1-2 5-14 8-14zM1826 362l-2 5-6 6-1-3 1-3 6-7zM1884 403l2 3 0 6-5 12-17 26-18 23-4 2-2-5 1-10 2-8 6-12 10-16 11-11 8-8 4-2zM1842 404l2 12-1 6-4 8-8 12-9 10-6 5-6 1-2-4 0-2 7-16 21-29 4-3zM2056 413l2 3 0 6-10 30-6 8-10 12-12 11-4 0 0-5 4-24 5-12 9-12 10-10 6-5zM2219 418l2 4-2 8-7 18-6 12-16 22-8 8-4 0 0-6 4-18 2-12 2-6 6-8 12-12 8-7zM2092 421l-4 8-16 25-1 18-7 22-1 8 1 3 6-2 28-22 2-1 3 2 0 2-5 12-13 24-8 22-13 26-7 18-7 10-10 7-1-1 1-6 12-29 14-29 2-6-1-2-2-4-3-1-4 0-6 4-18 14-6 3-2-2 0-2 4-28 7-14 30-42 2-12 5-8 12-14 2-2zM1888 474l2 4 1 6-1 6-5 10-13 18-20 26-4-1-2-11 0-6 3-8 4-10 8-12 15-16 6-5 2-1zM1842 482l2 6-1 6-5 12-8 9-6 6-6 3-1 0-1-4 2-6 6-12 16-20zM2221 488l1 2-1 4-7 15-6 9-2 3-4 1-3-4 3-10 10-13zM1920 491l1 3-3 6-10 10 0-3 4-6 6-8zM1896 539l4 5 0 6-3 10-5 8-12 18-14 16-8 9-4 2-2 0-4-4 0-7 1-6 4-10 13-18 16-18 8-9 4-2zM1944 544l1 4-1 6-10 14-28 32-4 2-2 0-2-6 1-6 4-10 8-12 13-13 8-8 6-3 4-1zM2110 549l1 5-2 6-7 18-6 12-8 11-8 10-6 5-4 0 0-6 2-12 1-12 3-8 10-12 12-11 6-5zM1846 554l1 2-1 6-6 11-12 16-6 4 0-5 5-10zM1978 555l0 2-6 7-2-2 4-6zM1950 607l2 3-1 6-6 12-7 10-20 21-6 5-4 0-2 0-2-2 0-6 7-12 27-30 10-7zM1900 611l2 5-1 6-4 10-6 12-8 12-11 13-6 6-6 3-2-3-2-7 2-6 2-6 9-12 15-20 12-12zM1985 620l-1 6-10 12-6 6-2 1-4-1 3-6 7-9 8-8 4-2zM1902 688l1 4-3 8-15 28-15 18-6 4-4 0-1-4 1-6 7-16 11-15 12-14 10-7zM1944 691l1 3-3 6-12 18-18 23-4 3-2 0-3-4 0-6 2-6 4-6 9-11 12-11 8-6zM1898 766l-2 8-8 17-10 12-2 3-2 0-2-4 6-13 16-20 2-3zM1932 774l2 2 0 2-4 10-10 11-2 2-4 0-1-1 0-4 4-8 9-11z"/><path fill="rgb(255,108,108)" fill-rule="evenodd" d="M2154 297l2 1-2 5-6 9-2 2-1-4 3-7zM2172 349l0 7-10 32-7 10-9 8-3-2 2-22 3-8 6-10 10-11 6-5zM2202 360l2 2-2 5-6 10-6 8-2 2-4 0-2-5 3-6 11-12zM1882 407l2 3 0 6-6 12-20 28-6 7-6 4-3-3 0-6 3-10 5-8 8-12 11-13 6-6zM1840 412l1 4 0 6-6 12-7 9-6 6-6 4-4-1 0-4 2-6 8-12 12-15 2-3zM2178 415l0 5-8 15 0-5 6-11zM2052 418l2 4 0 6-7 18-4 8-6 10-9 9-6 4-2-1 3-22 5-12 12-16 6-6zM2214 423l3 1-1 6-10 28-12 17-10 8-1-1 0-4 6-30 6-8 7-9 6-5zM2068 466l1 4-1 6-8 26 0 6 2 3 2-1 30-25 4-1 2 0 0 4-6 12-16 26-4 16-4 8-12 19-2 2 2-12 15-27 0-2-1-4-8-5-2-1-4 1-20 17-6 3-3-3 2-20 4-12 11-18 16-18 2-3zM1884 477l4 2 1 5-1 6-4 10-8 12-12 15-10 9-2 1-4-4 0-7 1-6 4-8 8-12 9-11 8-9zM1839 494l-3 8-6 9-6 5-2-2 2-7 6-9 6-6zM1896 544l2 6-1 6-4 10-8 12-21 25-6 5-4 1-2-1-3-6 1-6 4-10 6-8 12-17 12-13 6-4 4-1zM1939 548l3 2-1 4-3 6-6 8-20 23-6 4-4 0-1-3 1-6 10-16 14-16 6-4zM2106 553l1 3-1 6-11 24-9 15-6 5-4 1 0-5 0-13 4-11 6-10 8-9 10-6zM1948 615l-1 5-3 6-12 15-14 15-6 3-4-1 0-2 2-6 10-15 18-18 6-4zM1896 618l2 4-1 6-11 22-8 10-8 10-6 3-4-1-1-4 0-4 1-6 6-8 18-24 6-5zM1899 694l0 4-3 8-12 20-12 15-6 4-2 0-2-5 1-6 9-16 18-21 6-4zM1936 703l-3 7-13 17-8 8-4 1-1-2 1-6 6-11 16-13 2-2z"/><path fill="rgb(255,62,62)" fill-rule="evenodd" d="M2164 359l2 3-2 7-10 17-2 1-1-5 1-6 6-11zM1880 412l1 4-1 6-8 13-18 22-6 4-1-1-1-2 1-6 9-18 8-10 8-9 6-3zM1836 420l0 5-6 11-6 7-2 2-4 0 1-5 5-10 10-10zM2046 425l4 3-6 18-10 15-6 6-1-1-1-2 1-10 4-12 7-9zM2212 430l-1 6-5 15-10 15-6 6-1-2 2-16 3-7 8-12 6-5zM2064 474l0 8-7 20-5 18-12 12-6 3 0-5 0-16 3-8 9-15 10-11 6-6zM1884 482l2 2 0 6-7 16-9 12-10 10-6 4-2-2-1-4 0-6 4-8 5-10 16-17 6-4zM2094 489l2 1-2 6-12 18-6 5-2 0-3-1-1-4 0-2 4-6 12-12zM1894 547l1 3 0 6-4 10-5 8-20 24-6 5-2 2-4 0-2-3 0-6 4-10 5-8 11-15 10-10 6-4 2-2zM1936 554l-1 6-5 8-6 8-12 11-4 1-2-1 3-9 9-12 12-11 2-1zM2102 560l0 2-1 6-7 13-6 9-2 3-4 0 0-9 3-10 9-11 6-4zM1939 622l1 4-1 2-7 10-12 11-2 2-4 0 1-5 9-11 8-9zM1894 624l-1 8-9 18-12 14-6 4-2 0-3-4 1-2 2-6 5-10 15-17 6-5zM1894 699l0 1-1 6-9 17-12 14-2 2-4 1-1-4 1-2 6-12 12-16 6-6z"/><path fill="rgb(255,18,18)" fill-rule="evenodd" d="M1876 417l1 1 0 4-5 10-12 16-6 6-2 1-2-3 1-4 6-12 9-13 6-5zM2058 482l2 2-4 14-10 19-2 4-4 0-1-9 1-7 10-15zM1882 486l1 2 0 6-7 14-12 14-6 5-4-1 0-2 0-6 6-13 12-15 6-4zM2088 498l1 2-7 8-2 2-1-2 1-3 6-6zM1890 551l3 3-1 6-8 14-14 19-6 6-6 2-4-3 1-6 8-14 15-20 6-5zM1927 562l0 4-3 5-6 6-4 1 1-4 3-3zM1890 632l-2 8-6 10-10 10-2 2-4 1-1-1 1-6 6-11 12-13 4-2zM1888 707l1 3-4 8-7 9-6 5-2-2 2-6 6-9z"/><path fill="rgb(228,228,255)" fill-rule="evenodd" d="M2338 86l1 2-1 6-10 21-6 9-12 14-2 0 2-20 4-8 12-16 6-5zM2182 138l1 2 1 2-1 6-4 12-8 16-8 12-11 13-6 4-4-2 0-13 1-6 5-8 22-29 6-6zM2224 137l3 3-2 8-7 12-21 34-9 24-14 30-6 8-10 14-12 12-4 0 4-11 9-23 26-42 2-10-1-12 3-8 6-10 15-16 12-10zM2351 140l1 2-1 6-9 30-2 6-8 10-18 18-4 1-2 1-1-6 3-18 7-14 9-13 14-17 6-5 4-2zM2388 147l0 5-2 6-17 26-6 12-16 42 1 6 2 2 2-1 28-24 8-5 4 0 0 4-3 10-15 32-16 23-6 7-6 4 0-6 6-22-1-6-5-4-6 2-20 20-10 6-1-2 1-6 15-34 26-42 2-6-1-12 1-6 7-8 16-17 10-6zM2232 205l1 7-2 8-18 36-19 27-10 10-6 4 0-1 0-4 6-20 1-18 3-10 14-18 16-15 8-7 4-1zM2272 207l0 1-3 6-6 10-13 15-6 5-1-2 1-4 6-11 12-14 6-6zM2058 211l2 3-1 6-9 17-12 16-10 10-2 2-4-2 0-7 0-6 8-14 8-11 8-9 6-5 4-1zM2094 216l-2 8-10 11 0-3 4-7 6-7zM2068 264l2 4 1 10-3 8-6 12-9 16-9 12-10 9-6 3-2-4-2-8 4-12 9-16 13-16 12-14zM2238 263l3 9-7 26 2 6 6-3 20-19 10-7 2-1 4 0 0 4-3 8-15 30-19 42-2 6 3 3 2-1 28-23 6-3 2-1 3 1 0 4-1 8-11 34-4 8-11 16-14 18-10 9-2 0-1-7 4-20-1-4-2-4-4 0-6 3-24 20-2 1-4-2 3-8 8-18 8-22 16-32 2-6-1-8-2-1-4 1-30 25-2 0-2-3 7-30 5-12 10-14 16-20 12-13zM2110 267l2 5-2 8-23 40-10 26-17 30-6 16-16 21-10 9-2 1 2-7 11-18 3-6 2-12 2-9 16-31 2-6 1-14 4-10 8-12 15-16 12-12zM1896 272l2 6 0 8-4 10-5 8-12 16-13 15-10 7-2 0-4-4 0-10 3-8 5-10 16-22 12-13 6-4 4-1zM1932 276l2 4-3 10-25 42-2 6 1 18-4 12-9 12-28 30-6 4-3-4-1-6 2-12 7-12 24-36 6-22 6-12 8-12 11-12 8-8zM2392 287l2 3-1 6-9 26-6 10-7 8-7 7-6 3-1 0 0-6 7-28 6-8 10-12 6-5zM2116 333l2 3 1 4 0 6-8 24 1 8 4 0 36-37 2-2 4 0 0 1-6 12-24 36-1 4 3 12-4 20 0 4 2 2 6-3 18-14 8-6 4-1 2 2 1 2-3 12-34 68 0 6 0 1 4 0 26-22 6-4 4-1 2 2 1 4-12 42-3 6-18 25-12 14-6 5-4 0 0-2 4-24-1-4-3-3-2 0-6 3-24 18-4 2-2-2 1-6 9-20 7-22 14-30 1-9-2-2-4 1-24 19-6 3-2 0-1-2 1-6 10-34 9-14 23-34 3-6-1-2-6-5-2 1-30 30-10 7-1-1-1-2 2-16 0-6-4-12 0-2 3-6 21-24 16-18 6-4zM1942 337l3 7 0 6-2 6-26 42-10 26-6 12-9 16-12 14-16 18-6 4-3-6 1-12 7-12 28-42 4-10 3-20 6-16 10-12 16-15 6-5 2-1zM1830 384l1 4-3 9-10 19-14 21-6 7-4 1 0-5 3-6 12-24 13-18 6-7zM1950 397l4 2 2 11-1 8-6 12-36 52-34 62-34 46-4 6-1 6 0 20-5 12-11 15-14 19-10 8-2 0-4-3-1-9 1-6 3-8 10-18 31-42 15-28 16-32 26-36 3-10 1-6-2-14 5-12 8-12 20-24 14-16zM1996 404l2 2 1 4-3 8-16 30-11 24-19 34-7 14-9 12-28 32-2-2 6-18-1-12 2-8 5-10 28-36 3-8 3-16 4-8 10-16 14-14 12-10zM2286 411l2 7-5 30-3 6-9 12-17 18-10 7-2 0-2-1-1-6 7-26 5-12 11-16 12-13 6-5 4-1zM2310 432l2 2-2 4-12 19-2-5 2-6 6-9zM1830 460l-2 21-6 13-22 29-6 6-2 0-2-5 1-10 5-12 6-12 8-12 12-13 6-5zM2296 462l0 8-4 12-20 42-4 3-2 2-1-15 3-11 10-15zM2004 464l4 2 0 6-7 28 1 5 2 1 6-4 28-26 6-4 3 0-4 10-25 38-1 4 2 12-3 18 0 6 0 1 6-2 28-20 2-1 4 0 0 4-3 12-34 66-4 12 1 3 6-3 30-26 4-1 2 0 1 3-2 12-15 38-16 23-16 14-3-1 6-24-3-5-2-2-4 1-6 2-24 18-2 0-1-2 6-18 3-14 19-36 3-10 0-3-4-2-6 2-30 24-2 1-2 0 0-4 11-38 7-12 28-40 2-6-2-2-2-2-4 1-6 4-47 47-5 10-3 14-4 10-15 19-10 9-6 4 0-2 18-38 6-9 17-19 12-24 3-12-2-5-5-7 1-6 9-12 29-31 8-8zM2218 465l0 1-1 4-6 8-11 14-6 5-1-1 0-2 7-10 12-14zM1834 528l2 3 2 11-1 6-3 8-10 15-18 23-8 10-4 2-2 1-4-4 0-7 2-10 6-12 6-12 9-12 13-15zM2176 542l1 2 0 6-6 34-6 8-17 18-12 10-6 2-1-2 0-6 6-24 3-10 10-14 12-15 10-8zM2206 559l-4 8-6 9-6 7-2 1-2-4 1-2 4-6 11-12zM1890 582l1 2-3 12-2 14-3 6-7 12-23 30-5 10-1 6 2 12-1 6-4 8-12 18-16 20-12 10-4 2-2-1-4-6 1-7 1-6 6-12 29-42 12-26 13-24 14-19zM2105 602l-1 3-10 11-1-2 1-3 10-10zM1888 667l2 2 4 7-1 6-8 12-23 30-9 16-2 6-4 20-7 16-8 12-14 13-6 4-6 2-2-3-2-4 2-10 4-8 21-34 9-26 6-12 8-12 14-18 16-16zM1938 668l2 2 0 4-4 8-24 26-6 5-3-1 3-8 6-11 12-19 6-5 2-1zM2058 681l3 1-1 6-8 18-6 10-6 7-6 4-2 1-3-6 0-6 2-6 6-10 9-10 6-6zM1937 734l2 2 0 6-4 10-15 17-12 11-1-2 1-6 10-17 12-17 6-5zM1888 740l2 2 2 6 0 6-2 6-7 12-24 36-7 24-9 16-11 14-18 0 7-12 14-20 4-10 1-6-1-14 4-12 6-10 13-14 16-17zM1897 814l2 6-2 10-8 14-13 18-30 0 10-14 22-27 12-11 4 0zM1936 813l1 1-1 6-8 16-22 26-7 0 7-13 12-18 12-14z"/><path fill="rgb(205,205,255)" fill-rule="evenodd" d="M2218 150l-4 10-8 14-10 10-2 2-4-1 0-7 6-12 10-10 8-7zM2172 156l0 4-2 6-6 11-6 8-4 2-2 1-2-4 1-2 4-10 11-14 4-2zM2340 156l0 8-8 19-10 12-2 3-4-1 2-13 4-10 12-15 4-2zM2226 210l3 2 0 6-3 8-8 16-12 20-10 13-8 9-3 0 3-18 1-12 3-10 8-12 12-12 8-8zM2182 216l0 6-6 13-12 19-6 6-1-4 1-5 5-13 13-17zM2046 227l1 3-3 6-6 7-4 1 0-2 4-7 6-7zM2380 231l0 5-4 7-6 10-6 7-3-4 0-6 1-2 8-12 6-5zM2236 271l1 3 0 4-7 26-1 12-26 28-9 6-4 1-1-5 5-20 3-10 5-8 10-15 12-14 8-8zM2064 278l1 2-2 10-11 17-12 14-6 3-2-1-1-3 1-6 8-15 16-18 6-4zM2105 278l0 6-4 8-23 36-4 16-4 7-8 14-6 7-4 1 0-5 3-6 15-28 1-2 1-16 3-8 8-12 11-13 6-5 4-1zM1890 280l3 4-1 8-4 10-6 8-12 16-10 8-6 3-2-2-2-7 2-6 11-18 15-18 6-5zM2272 280l1 4-2 6-14 26-9 24-11 22-2 8 1 3 2 0 4-2 26-23 6-4 4 0 2 2-1 6-15 42-14 20-8 10-6 5-4 0 0-1 3-18 0-6-3-4-2-1-4 0-6 4-18 15-6 4-1 0-1-4 10-24 7-20 18-36 2-10-1-12 30-29 6-4zM1924 290l0 2 0 4-3 6-18 26-2 6 1 18-1 6-3 10-8 12-18 19-8 9-4 1-2 0-2-5 0-6 2-6 4-10 29-42 3-6 2-12 6-12 12-15 6-4zM2116 340l1 4-1 6-12 38-15 18-9 10-6 4-3-2 2-18-2-12 2-8 11-16 16-17 10-8 2-1zM1938 345l3 5-2 8-25 42-7 22-9 18-12 18-14 15-8 9-4 2-2-2-1-10 3-8 9-16 20-26 6-12 4-22 5-12 8-12 12-12 8-7 4-1zM2148 348l2 2-2 4-12 18-8 10-4 1-2-1 0-2 5-10 13-14zM2124 399l4 4 0 3-4 22 0 4 4 1 2-2 28-21 6-1 1 3-4 12-18 40-15 30-1 6 1 1 6-2 30-25 2-1 4 0 1 5-13 40-4 8-14 21-10 10-6 5-2-1-1-1 2-22-1-4-4-2-2 1-6 3-18 14-6 4-2 0-1-4 10-24 6-20 14-30 1-10-2-1-6 1-26 21-5 1-1-4 9-30 7-14 22-32 6-7 4-2zM1950 406l3 6-1 6-9 18-33 46-34 66-22 26-6 7-1-1 1-5 21-43 29-42 3-8-2-18 2-6 4-10 13-16 18-20 8-6 4-1zM1992 412l1 4-3 8-17 30-10 24-6 12-22 36-11 15-10 8-1-1-2-18 3-10 6-9 28-35 4-10 2-14 9-16 17-19 6-4 4-1zM2283 418l1 4-7 26-4 10-7 8-10 11-6 5-6 2 0-2 0-6 6-22 4-8 8-12 10-11 6-5 2-1zM1824 468l2 4-1 6-3 13-6 9-10 11-6 5-2-1-1-3 2-6 7-16 10-14 6-7zM2004 469l2 3 0 6-8 24 0 12-1 4-23 24-18 17-2-3 4-12 2-8-4-16 2-6 11-14 21-23 8-7 4-2zM2040 476l2 2-2 6-20 29-6 6-4 1-4-2-2-4 1-2 5-6 22-23zM2014 529l2 3 2 6-4 18 0 7 2 1 4-1 20-17 10-6 2 0 2 2 1 2-5 12-21 42-16 30-4 10 0 2 1 2 4 0 36-32 6-2 1 2-1 6-2 6-15 34-11 15-8 8-2-3 0-8-2-4-2-4-6-3-6 3-18 13-4 1-1-4 5-24 3-8 13-24 3-10 1-6-2-2-4 0-6 4-24 19-6 3-1-2 7-30 5-12 10-16 25-30 2-3zM1834 534l2 8 0 6-2 6-5 8-11 15-12 14-6 5-2 1-4-1-1-4 2-8 4-10 6-12 9-12 10-12 6-4zM2172 548l2 2-2 9-5 19-4 8-6 10-9 9-6 5-6 3-2-3 1-6 4-18 4-8 8-12 9-12 10-6zM1884 594l0 16-3 10-8 12-24 30-3 6-1 6 2 8 0 6-6 16-11 14-14 17-10 7-2 1-4-1-1-6 0-6 7-14 30-42 7-22 13-24 20-26 6-7zM1930 597l2 1 0 4-3 8-11 14-10 8 1-4 9-17 6-9zM1834 602l2 3 2 11 0 6-3 10-7 11-12 15-10 8-6 2-2-4-1-6 6-14 11-18zM1888 671l3 5 1 4-2 6-8 12-23 30-7 12-3 6-3 19-7 13-8 12-9 10-6 4-4 1-2 0-3-5 2-10 24-38 5-22 6-12 9-14 17-20 12-11 2-2zM1933 674l2 2-4 10-13 14-10 7 0-3 4-8 8-14 6-6zM1888 744l2 4 0 4-1 8-9 16-25 36-6 20-3 7-6 10-10 11-3 2-7 0 1-6 3-6 17-26 2-6-1-18 1-6 5-10 8-12 16-18 10-8 2-2zM1930 747l0 5-4 6-8 10-3-2 3-5 6-9 2-4zM1894 815l1 3 1 6-2 8-7 12-13 18-25 0 11-18 16-18 12-11 2-1zM1920 838l-2 4-2 0 2-4z"/><path fill="rgb(178,178,255)" fill-rule="evenodd" d="M2223 218l1 2-1 4-5 12-12 20-6 7-4 3-2-4-1-8 4-12 6-10 9-9 8-6zM2232 278l1 6-1 6-10 26-3 6-7 10-10 9-6 4-2 0-1-5 4-18 7-14 8-12 8-11 6-5 4-2zM1887 290l0 6-2 6-13 17-12 11-2 1-4-2 0-3 2-6 10-17 10-10 6-4 2-1zM2266 287l1 3-1 6-14 26-8 20-12 26-3 8 1 4 2 1 4-2 30-26 6-4 2-1 2 2 1 2-2 6-15 39-12 17-10 8-1 0-1-4 2-12 0-6-2-4-4-2-2 0-4 1-20 18-6 3 0-5 8-19 6-21 19-37 3-14 3-6 6-10 15-13zM2053 292l-1 6-6 8-2 2-2 0 2-6 6-7 2-3zM2094 291l1 1-1 4-6 9-6 5 0-2 0-4 6-8zM1896 345l3 5 0 6-2 8-5 10-9 12-11 12-6 5-6 3-2-2 0-6 1-6 4-10 9-14 12-15 10-8zM2112 345l1 5-1 6-14 36-12 16-6 5-4 1-1-2 1-14-1-12 3-10 9-12 13-14 10-6zM1936 352l0 6-3 6-22 36-7 24-9 18-11 16-12 14-8 7-4 0-1-7 2-8 9-15 26-37 2-6 3-18 5-12 8-11 10-9 6-5 2 0zM2122 403l2 1 2 6-5 20 1 4 2 2 6-3 24-19 6-2 2 0 1 4-3 8-18 38-17 34-2 6 1 4 4-1 6-4 26-23 6-3 3 3-3 11-14 37-12 18-6 7-6 4-4-1 2-18-2-4-2-2-4-1-6 3-20 16-4 1-1-1 1-6 7-18 5-18 14-30 2-6 0-7-4-2-2 1-28 22-2 1-4 0 0-3 8-28 7-14 19-26 6-7zM1948 412l1 4-1 6-9 18-21 28-10 10-2 1-4-7-1-8 1-6 5-10 11-14 14-16 10-6 2-1zM1986 421l1 3-3 6-10 16-8 11-4 2-1-1-2-4 1-6 6-10 12-14 6-4zM2277 428l-3 13-6 17-8 11-6 5-4 0 0-4 4-15 5-13 7-8 6-6 2-2zM2002 472l2 4 0 6-14 38-12 17-16 13-1-2 2-16-4-12 2-6 7-12 16-17 12-11zM1960 474l-2 8-4 8-16 26-14 19-4 3-2 0-4-5 0-3 1-6 3-6 8-13 24-27 6-5zM1818 480l2 2 0 2-2 7-6 9-6 4 0-4 4-8 6-9zM2038 483l-4 8-12 16-6 5-2 1-2-1 2-6 7-10 13-13zM1896 498l1 4-21 42-6 10-12 14-2-2 16-36 12-18zM2050 543l3 1-3 10-22 43-32 56-4 3-2-2-2-4 1-10 15-32 2-6 0-6-2-4-2 0-4 1-24 20-6 3-2 1-1-7 5-20 3-10 7-12 12-16 12-14 6-4 4 0 2 4-5 28 3 2 6-3 20-18zM1830 539l4 4 0 5-2 6-4 8-16 20-6 6-6 2-2-4 1-2 3-10 4-8 8-12 8-9 6-5zM2166 555l2 1 0 6-8 22-8 12-6 5-4 0 0-3 0-7 3-11 3-6 10-12 6-6zM1878 603l3 1 1 6-5 12-17 23-14 16-2-3 1-6 7-14 14-22zM1834 611l2 5 0 6-4 12-8 11-8 10-6 5-4 1-2 0-2-3 0-6 7-14 15-22 6-5zM2052 613l2 3-2 6-8 19-12 18-4 2-2 1-10-10-1-2 1-4 7-8 14-16 9-7zM1842 677l3 5 0 6-3 10-5 8-9 14-12 12-6 4-4 1-2-2-1-5 1-6 9-18 21-26 6-4zM1888 675l1 5 0 2-4 10-37 50-2 6-3 18-6 12-7 10-8 8-6 3-4-2 1-7 2-6 20-32 2-6 3-16 7-14 12-18 13-15 10-8 2-1zM1926 686l-6 7-2 2-1-1 1-3 6-7zM1887 748l1 4 0 6-7 14-23 32-6 6-4 0-2-4-2-6 3-10 4-8 12-16 13-13 6-5 2-1zM1893 820l1 6-3 10-8 12-11 14-20 0 8-14 16-20 6-6 6-3 2-1zM1845 830l-1 6-4 7-6 7-4 2-1-2 1-2 4-8 8-11z"/><path fill="rgb(145,145,255)" fill-rule="evenodd" d="M2214 228l1 4-3 7-6 7-4 2-1-4 5-8 6-7zM2226 285l2 1 0 6-10 25-10 14-6 5-2 2-2-4 2-8 2-10 4-7 12-17 6-6zM1878 297l3 1-2 6-3 6-10 11-6 3-1-2 1-2 4-9 8-10zM2259 298l-3 8-10 20-4 14-4 9-19 33 2 10-6 8-7 5-1-1 1-4 8-14 2-16 6-12 15-26 5-18 3-6 9-10zM2107 350l3 2-1 4-11 29-6 11-6 7-4 2-2-1-1-18 2-10 6-8 7-9 6-6zM1894 351l2 1 0 6-3 10-5 8-9 12-9 10-6 4-4-1 1-9 7-16 16-20 6-5zM2272 354l0 4 0 4-12 28-6 11-10 10-2-1 0-10-4-12 1-6 7-8 14-13 6-5zM1930 358l1 4-5 11-8 14-12 15-3-4 0-10 4-8 11-15 6-5zM1902 408l2 4-1 10-8 18-10 14-9 12-6 6-7 4-2-4 0-2 1-6 4-9 16-21zM2122 408l1 2 0 6-4 20 0 4 3 2 6-4 24-20 6-3 1 1 1 2-3 10-17 38-19 34-2 8 3 4 2-1 34-29 6-3 3 3-3 11-15 33-9 15-10 7-1 0-1-4 0-12-4-5-2-2-4 0-6 4-18 14-2 1-1-2 8-22 4-18 14-30 2-8-2-6-1-2-6 4-18 16-10 6-2 0-1-4 8-26 7-16 10-13 8-10 6-5zM1942 416l2 2 0 6-4 10-5 8-11 16-10 10-6 5-2-1-3-6 0-2 1-6 4-10 9-12 9-10 10-7zM1998 476l3 2 0 6-13 34-8 12-6 6-6 4-1-2-1-8-3-10 2-8 8-12 11-13 8-8zM1949 488l1 2-3 6-11 20-10 10-2 3-4 1-2-2-1-4 7-12 14-17 10-8zM1884 516l2 2-2 4-14 26-2 0 4-13 6-12zM2050 546l0 4-4 9-24 46-18 28-6 6-2 1-2-2 1-6 13-30 1-6-1-8-4-2-2 1-24 21-6 4-4-1 0-5 4-16 6-16 14-20 10-11 6-5 2-1 2 1 2 4-6 26 0 4 2 2 30-25 6-3zM1830 546l0 8-2 6-6 9-12 13-4 1-2-1 0-4 2-6 10-17 8-9 4-2zM1878 610l1 4-1 2-6 12-14 19-6 5-4 1 0-3 3-6 9-17 12-15 4-2zM1831 616l3 4 0 6-6 12-12 14-6 3-4-1 0-4 2-6 7-12 9-12 4-3zM2050 619l-1 3-3 8-8 14-6 6-4 1-2 0-2-1-2-4 5-8 13-16 6-4zM1884 678l2 2 1 6-7 12-28 36-6 7-4 0-1-5 2-8 9-18 11-16 9-9 6-5zM1840 681l2 3 1 8-7 13-8 12-10 9-6 5-2 0-2-1-2-2 1-6 8-16 15-19 6-5zM1884 751l2 3 0 6-4 10-6 8-18 23-6 3-4-1-1-7 2-6 8-14 9-12 10-9 6-4zM1840 753l2 5 0 2-2 10-3 6-9 11-6 4-4 1-1-4 4-10 9-15zM1890 824l1 6-4 8-9 14-8 10-16 0 6-12 12-16 12-11 4-1z"/><path fill="rgb(110,110,255)" fill-rule="evenodd" d="M2218 299l1 3-1 4-6 11-4 2 0-6 4-7zM1890 356l2 2 0 6-6 12-14 17-6 4-2 0-1-3 0-6 7-12 12-14 6-5zM2103 358l0 4-2 6-7 12-6 7-2-1-1-6 4-10 9-10 2-2zM2266 361l0 3 0 4-6 13-6 8-4 3-2-1-3-5 1-6 10-13zM1924 367l0 4-6 11-6 7-4 1 0-4 4-9 6-7 2-3zM2118 413l2 3 0 2-6 30-6 10-12 12-8 6-6 2 0-2 1-6 5-18 6-12 6-10 10-11 6-5zM1900 420l0 4-3 10-11 18-14 15-6 4-2-1 0-4 2-8 10-14 18-22 2-3zM2154 419l3 3-2 6-19 41-24 43-2 12-4 6-6 4-1-2 5-14 0-10 1-6 15-32 2-22 4-6 12-12 10-8zM1938 423l2 1-1 6-10 18-15 17-2 2-4 0-3-3 1-6 2-6 6-10 16-16 6-3zM1996 482l2 2-1 6-11 23-8 12-4 2-2-1-5-8 2-10 6-8 9-10 6-5zM2164 484l-4 12-14 31-6 8-4 3-2-1-2-7-6-10 0-2 1-4 10-12 15-13 8-6zM1936 504l1 2-1 2-10 11-1-1 1-5zM2010 544l0 6-8 28-2 6-14 14-8 7-4 1-1-2-1-2 2-12 3-10 5-8 10-16 10-10 6-4zM2046 550l1 4-3 8-24 44-12 17-4 3-2 1 2-11 8-18 0-14 2-6 7-10 12-12 11-7zM1824 552l2 2-2 6-6 9-6 5-2-2 2-6 6-10zM1872 618l1 2 0 2-3 7-10 12-2 2-4 1 1-4 5-10 6-8zM1828 623l2 3-3 8-9 11-2 2-4 0 0-3 4-10 6-7zM2040 631l-2 5-4 2 0-4 4-3zM1883 682l2 4-2 6-10 14-19 22-6 5-2 0-1-5 4-10 11-18 16-16 6-2zM1840 687l0 7-6 13-12 14-6 4-4 0-1-3 2-6 8-16 13-13 2-1zM1882 755l1 3 0 6-5 8-6 9-8 11-6 5-4 2-2-1-1-8 8-14 13-16 6-4zM1836 766l-2 6-4 6-2 3-4 1 1-4 5-9 4-3zM1884 827l3 3 0 2-2 6-7 11-12 13-7 0 1-8 6-10 10-11 6-5z"/><path fill="rgb(65,65,255)" fill-rule="evenodd" d="M1888 364l0 4-6 12-6 7-6 4-4-3 6-12 10-11 2-2zM2116 419l0 9-5 18-4 8-13 14-6 5-2 0 0-4 2-11 10-21 12-15 2-2zM2152 424l1 4-1 3-22 45-14 23-4 2-2 0 2-11 11-24 3-14 2-6 12-14 6-5zM1894 426l1 2-1 6-6 12-10 12-6 6-2 1-3-1 1-4 4-10 12-16zM1932 430l2 4-1 2-7 12-6 7-6 5-2 2-2-2-1-2 1-4 5-8 9-11 6-5zM1992 490l0 4-6 12-6 7-2 2-4 0-1-3 0-4 5-7 8-10 4-2zM2158 488l1 2 0 4-7 16-10 13-2 2-4-1-2-3-2-3 1-6 12-16 7-5zM2004 548l3 2 0 4-9 24-7 12-11 8-2-2-1-4 2-8 3-10 10-15 6-7zM2040 554l3 2-3 7-12 21-8 11-3-11 3-10 10-12zM1878 686l3 2-1 4-4 8-16 20-8 7-3-3 1-2 8-15 12-15 6-5zM1834 693l2 1-3 10-9 10-6 4-1-2 3-10 8-9zM1878 760l2 4-1 2-3 8-10 12-8 7-3-3 1-6 3-6 11-12 6-5zM1882 835l-1 3-5 10-6 6-4 2-1-2 1-4 4-6 8-9z"/><path fill="rgb(20,20,255)" fill-rule="evenodd" d="M2110 429l0 6-6 17-6 9-4 3-2 0 0-4 6-17 6-10 2-3zM2146 432l0 2 0 3-12 23-2 0-2 7-1-1 4-20 7-10zM1888 436l1 0-1 4-4 6-6 8-2 3-4 1 2-6 4-7zM1923 446l-3 3-2 2-1-3 3-4zM2128 468l1 2-1 5-6 9-1-2 1-3zM2152 496l0 6-4 6-6 6-2-1 0-5 2-4 6-6zM1998 557l3 3-3 8-6 11-6 6-1-1-1-4 2-7 6-10zM2034 564l0 3-2 5-4 3-2-1 5-8zM1876 693l-1 5-9 12-8 9-4 0 4-8 6-9 8-9zM1872 768l2 2-2 4-2 4-6 6-2-2 4-9z"/></g></g>
<rect x="868" y="9" width="521.7" height="422" fill="none" stroke="#262626" stroke-width="5.4"/>
<path d="M936.1 431v-8.0M936.1 9v8.0M1049.4 431v-8.0M1049.4 9v8.0M1162.8 431v-8.0M1162.8 9v8.0M1276.1 431v-8.0M1276.1 9v8.0" stroke="#262626" stroke-width="5.4" fill="none"/>
<path d="M868 424.5h8.0M1389.7 424.5h-8.0M868 288.3h8.0M1389.7 288.3h-8.0M868 152.1h8.0M1389.7 152.1h-8.0M868 15.9h8.0M1389.7 15.9h-8.0" stroke="#262626" stroke-width="5.4" fill="none"/>
<text x="923.2" y="476.3" font-size="46.5" fill="#262626">0</text>
<text x="1036.5" y="476.3" font-size="46.5" fill="#262626">2</text>
<text x="1149.8" y="476.3" font-size="46.5" fill="#262626">4</text>
<text x="1263.2" y="476.3" font-size="46.5" fill="#262626">6</text>
<text x="1376.5" y="476.3" font-size="46.5" fill="#262626">8</text>
<text x="814.9" y="441" font-size="46.5" fill="#262626">-2</text>
<text x="830.3" y="304.8" font-size="46.5" fill="#262626">0</text>
<text x="830.3" y="168.6" font-size="46.5" fill="#262626">2</text>
<text x="830.3" y="32.4" font-size="46.5" fill="#262626">4</text>
<text transform="translate(907.3,0) scale(1.02,1) translate(-907.3,0)" x="888.03" y="87.99" font-family="Liberation Sans" font-weight="bold" font-size="60.68" fill="#000" >b</text>
<text x="1128.9" y="523" text-anchor="middle" font-size="54" fill="#000"><tspan font-style="italic">t</tspan> (ps)</text>
<text transform="translate(797.4,220.3) rotate(-90)" text-anchor="middle" font-size="54" fill="#000">Delay <tspan font-family="Liberation Serif" font-style="italic">τ</tspan> (ps)</text>
<clipPath id="cpcb"><rect x="137.3" y="579" width="521.7" height="422.0"/></clipPath><clipPath id="cpcp"><path d="M211.8 624.5 221.5 622.8 242.2 626.0 259.1 631.7 279.8 642.0 287.3 647.3 281.7 652.9 261.9 653.6 263.8 658.9 249.7 660.8 230.9 659.8 221.5 649.5 215.5 642.0 217.8 635.4 212.1 628.8ZM171.1 670.3 185.9 669.3 214.1 672.2 246.3 678.0 265.6 683.8 282.3 690.9 297.7 698.6 305.4 703.7 306.7 711.4 317.0 712.7 324.9 713.8 353.0 718.1 370.0 720.6 382.8 725.7 385.4 729.1 384.6 738.6 392.3 745.4 398.0 748.0 399.0 760.0 398.3 786.5 391.4 780.5 376.8 775.4 370.0 774.6 376.8 772.0 380.3 761.7 376.8 746.7 370.0 750.6 363.1 746.3 355.4 746.7 340.0 744.6 317.0 740.4 278.4 737.1 252.7 735.9 237.3 739.1 252.7 743.6 269.4 747.4 281.0 752.6 290.0 756.4 289.4 762.9 297.7 768.6 282.3 774.4 265.6 778.9 247.6 780.9 227.0 777.0 211.6 768.0 201.3 757.7 196.1 742.3 194.9 739.1 175.6 733.3 162.7 728.8 152.4 728.1 149.2 716.6 152.4 709.5 182.0 704.4 189.7 699.2 179.4 683.1ZM173.2 792.1 187.1 790.2 224.3 793.9 254.0 796.7 274.4 797.6 271.6 803.2 317.1 807.9 354.3 809.7 376.6 808.8 389.6 806.0 398.0 806.0 398.0 849.0 389.6 848.7 382.1 856.1 371.0 856.1 335.7 851.5 313.4 848.7 298.6 851.5 280.0 851.5 242.9 843.1 205.7 832.9 177.9 824.6 158.4 819.9 161.1 814.4 181.6 809.7 182.5 806.0 174.1 797.6ZM216.9 865.4 228.0 863.9 254.0 869.1 272.6 876.6 281.8 883.1 281.8 887.7 261.4 886.8 242.9 881.2 231.7 873.8ZM420.0 637.0 422.7 645.2 421.4 672.7 419.0 682.8 426.4 695.3 427.4 700.0 428.3 710.3 425.7 722.3 421.4 732.6 415.4 737.7 417.1 740.3 424.8 748.0 430.8 748.0 440.3 758.3 434.3 768.6 426.5 775.4 419.7 780.5 419.7 790.0 423.0 797.0 425.0 808.0 441.0 808.0 441.0 850.0 436.0 856.0 440.0 874.0 447.0 879.0 451.0 889.0 444.0 895.0 435.0 898.0 424.0 905.0 427.7 925.9 425.7 950.9 421.4 971.0 421.4 1001.0 404.0 1001.0 402.6 986.0 403.9 966.0 401.4 948.4 397.6 925.9 401.4 903.3 395.0 890.0 392.7 878.7 386.0 872.0 384.0 862.0 392.7 856.0 396.0 840.0 393.0 820.0 397.0 806.0 399.0 792.0 397.0 780.0 394.0 765.0 395.0 752.0 398.0 745.0 401.7 734.3 400.0 725.7 399.0 697.8 406.0 682.8 401.4 675.0 401.6 648.0 404.5 637.0 412.6 633.9ZM533.8 742.0 548.8 738.8 570.3 743.1 591.8 751.7 607.9 762.4 602.5 765.6 585.3 768.8 591.8 774.2 570.3 779.6 548.8 781.3 538.1 779.6 539.2 768.8 536.0 761.3 538.1 756.0 534.9 751.7ZM493.0 797.3 499.6 786.6 506.2 785.2 537.7 786.6 549.3 790.7 575.8 794.9 587.4 798.2 612.3 808.9 637.2 811.4 660.0 813.9 660.0 855.3 637.2 853.7 595.7 851.2 570.9 851.2 559.3 854.5 570.9 857.8 595.7 866.1 615.6 878.6 619.8 889.3 604.0 896.0 579.2 896.0 546.0 886.0 531.1 876.1 521.2 866.1 524.5 860.3 516.2 854.5 519.5 849.5 479.7 838.8 468.1 837.1 466.5 842.9 446.6 847.9 436.0 846.2 436.0 809.0 446.6 808.1 463.1 808.9 479.7 807.3 496.3 804.8 501.3 803.1ZM503.7 912.7 512.3 908.4 548.8 910.6 591.8 917.0 624.0 925.6 660.0 939.0 660.0 970.0 634.7 966.4 591.8 953.5 559.6 940.6 527.4 925.6 510.2 918.1ZM544.5 981.4 555.3 979.3 581.0 983.6 598.0 992.0 606.0 1001.0 560.0 1001.0 548.8 987.9ZM137.0 722.0 142.5 727.0 137.0 733.0Z"/></clipPath><g clip-path="url(#cpcb)"><path d="M211.8 624.5 221.5 622.8 242.2 626.0 259.1 631.7 279.8 642.0 287.3 647.3 281.7 652.9 261.9 653.6 263.8 658.9 249.7 660.8 230.9 659.8 221.5 649.5 215.5 642.0 217.8 635.4 212.1 628.8ZM171.1 670.3 185.9 669.3 214.1 672.2 246.3 678.0 265.6 683.8 282.3 690.9 297.7 698.6 305.4 703.7 306.7 711.4 317.0 712.7 324.9 713.8 353.0 718.1 370.0 720.6 382.8 725.7 385.4 729.1 384.6 738.6 392.3 745.4 398.0 748.0 399.0 760.0 398.3 786.5 391.4 780.5 376.8 775.4 370.0 774.6 376.8 772.0 380.3 761.7 376.8 746.7 370.0 750.6 363.1 746.3 355.4 746.7 340.0 744.6 317.0 740.4 278.4 737.1 252.7 735.9 237.3 739.1 252.7 743.6 269.4 747.4 281.0 752.6 290.0 756.4 289.4 762.9 297.7 768.6 282.3 774.4 265.6 778.9 247.6 780.9 227.0 777.0 211.6 768.0 201.3 757.7 196.1 742.3 194.9 739.1 175.6 733.3 162.7 728.8 152.4 728.1 149.2 716.6 152.4 709.5 182.0 704.4 189.7 699.2 179.4 683.1ZM173.2 792.1 187.1 790.2 224.3 793.9 254.0 796.7 274.4 797.6 271.6 803.2 317.1 807.9 354.3 809.7 376.6 808.8 389.6 806.0 398.0 806.0 398.0 849.0 389.6 848.7 382.1 856.1 371.0 856.1 335.7 851.5 313.4 848.7 298.6 851.5 280.0 851.5 242.9 843.1 205.7 832.9 177.9 824.6 158.4 819.9 161.1 814.4 181.6 809.7 182.5 806.0 174.1 797.6ZM216.9 865.4 228.0 863.9 254.0 869.1 272.6 876.6 281.8 883.1 281.8 887.7 261.4 886.8 242.9 881.2 231.7 873.8ZM420.0 637.0 422.7 645.2 421.4 672.7 419.0 682.8 426.4 695.3 427.4 700.0 428.3 710.3 425.7 722.3 421.4 732.6 415.4 737.7 417.1 740.3 424.8 748.0 430.8 748.0 440.3 758.3 434.3 768.6 426.5 775.4 419.7 780.5 419.7 790.0 423.0 797.0 425.0 808.0 441.0 808.0 441.0 850.0 436.0 856.0 440.0 874.0 447.0 879.0 451.0 889.0 444.0 895.0 435.0 898.0 424.0 905.0 427.7 925.9 425.7 950.9 421.4 971.0 421.4 1001.0 404.0 1001.0 402.6 986.0 403.9 966.0 401.4 948.4 397.6 925.9 401.4 903.3 395.0 890.0 392.7 878.7 386.0 872.0 384.0 862.0 392.7 856.0 396.0 840.0 393.0 820.0 397.0 806.0 399.0 792.0 397.0 780.0 394.0 765.0 395.0 752.0 398.0 745.0 401.7 734.3 400.0 725.7 399.0 697.8 406.0 682.8 401.4 675.0 401.6 648.0 404.5 637.0 412.6 633.9ZM533.8 742.0 548.8 738.8 570.3 743.1 591.8 751.7 607.9 762.4 602.5 765.6 585.3 768.8 591.8 774.2 570.3 779.6 548.8 781.3 538.1 779.6 539.2 768.8 536.0 761.3 538.1 756.0 534.9 751.7ZM493.0 797.3 499.6 786.6 506.2 785.2 537.7 786.6 549.3 790.7 575.8 794.9 587.4 798.2 612.3 808.9 637.2 811.4 660.0 813.9 660.0 855.3 637.2 853.7 595.7 851.2 570.9 851.2 559.3 854.5 570.9 857.8 595.7 866.1 615.6 878.6 619.8 889.3 604.0 896.0 579.2 896.0 546.0 886.0 531.1 876.1 521.2 866.1 524.5 860.3 516.2 854.5 519.5 849.5 479.7 838.8 468.1 837.1 466.5 842.9 446.6 847.9 436.0 846.2 436.0 809.0 446.6 808.1 463.1 808.9 479.7 807.3 496.3 804.8 501.3 803.1ZM503.7 912.7 512.3 908.4 548.8 910.6 591.8 917.0 624.0 925.6 660.0 939.0 660.0 970.0 634.7 966.4 591.8 953.5 559.6 940.6 527.4 925.6 510.2 918.1ZM544.5 981.4 555.3 979.3 581.0 983.6 598.0 992.0 606.0 1001.0 560.0 1001.0 548.8 987.9ZM137.0 722.0 142.5 727.0 137.0 733.0Z" fill="#1a1aff"/><g clip-path="url(#cpcp)"><ellipse cx="250.0" cy="637.0" rx="18.5" ry="5.5" transform="rotate(15 250.0 637.0)" fill="#3232ff"/><ellipse cx="257.9" cy="707.6" rx="50.5" ry="19.7" transform="rotate(12 257.9 707.6)" fill="#3232ff"/><ellipse cx="212.0" cy="715.0" rx="53.6" ry="10.4" transform="rotate(4 212.0 715.0)" fill="#3232ff"/><ellipse cx="330.0" cy="726.0" rx="42.9" ry="6.7" transform="rotate(8 330.0 726.0)" fill="#3232ff"/><ellipse cx="248.0" cy="762.0" rx="31.1" ry="10.4" transform="rotate(15 248.0 762.0)" fill="#3232ff"/><ellipse cx="252.0" cy="823.0" rx="55.8" ry="14.0" transform="rotate(11 252.0 823.0)" fill="#3232ff"/><ellipse cx="335.0" cy="830.0" rx="48.1" ry="11.2" transform="rotate(4 335.0 830.0)" fill="#3232ff"/><ellipse cx="188.0" cy="810.0" rx="20.7" ry="6.7" transform="rotate(12 188.0 810.0)" fill="#3232ff"/><ellipse cx="412.5" cy="655.0" rx="4.3" ry="8.6" transform="rotate(0 412.5 655.0)" fill="#3232ff"/><ellipse cx="412.5" cy="706.0" rx="9.2" ry="16.8" transform="rotate(0 412.5 706.0)" fill="#3232ff"/><ellipse cx="415.4" cy="762.0" rx="20.3" ry="22.2" transform="rotate(0 415.4 762.0)" fill="#3232ff"/><ellipse cx="413.0" cy="817.0" rx="20.5" ry="24.2" transform="rotate(0 413.0 817.0)" fill="#3232ff"/><ellipse cx="414.2" cy="874.0" rx="20.3" ry="24.0" transform="rotate(0 414.2 874.0)" fill="#3232ff"/><ellipse cx="412.0" cy="925.0" rx="8.1" ry="14.8" transform="rotate(0 412.0 925.0)" fill="#3232ff"/><ellipse cx="412.0" cy="968.0" rx="5.5" ry="12.3" transform="rotate(0 412.0 968.0)" fill="#3232ff"/><ellipse cx="575.0" cy="757.0" rx="18.5" ry="6.2" transform="rotate(20 575.0 757.0)" fill="#3232ff"/><ellipse cx="577.0" cy="822.0" rx="61.6" ry="19.0" transform="rotate(12 577.0 822.0)" fill="#3232ff"/><ellipse cx="490.0" cy="820.0" rx="46.2" ry="10.1" transform="rotate(-3 490.0 820.0)" fill="#3232ff"/><ellipse cx="640.0" cy="835.0" rx="25.2" ry="11.8" transform="rotate(10 640.0 835.0)" fill="#3232ff"/><ellipse cx="585.0" cy="878.0" rx="28.1" ry="8.9" transform="rotate(22 585.0 878.0)" fill="#3232ff"/><ellipse cx="587.0" cy="939.0" rx="53.2" ry="16.5" transform="rotate(20 587.0 939.0)" fill="#3232ff"/><ellipse cx="257.9" cy="707.6" rx="47.2" ry="18.4" transform="rotate(12 257.9 707.6)" fill="#4b4bff"/><ellipse cx="212.0" cy="715.0" rx="45.9" ry="8.9" transform="rotate(4 212.0 715.0)" fill="#4b4bff"/><ellipse cx="330.0" cy="726.0" rx="28.2" ry="4.4" transform="rotate(8 330.0 726.0)" fill="#4b4bff"/><ellipse cx="248.0" cy="762.0" rx="20.4" ry="6.8" transform="rotate(15 248.0 762.0)" fill="#4b4bff"/><ellipse cx="252.0" cy="823.0" rx="51.9" ry="13.0" transform="rotate(11 252.0 823.0)" fill="#4b4bff"/><ellipse cx="335.0" cy="830.0" rx="37.0" ry="8.6" transform="rotate(4 335.0 830.0)" fill="#4b4bff"/><ellipse cx="188.0" cy="810.0" rx="13.6" ry="4.4" transform="rotate(12 188.0 810.0)" fill="#4b4bff"/><ellipse cx="412.5" cy="706.0" rx="7.6" ry="13.8" transform="rotate(0 412.5 706.0)" fill="#4b4bff"/><ellipse cx="415.4" cy="762.0" rx="18.8" ry="20.5" transform="rotate(0 415.4 762.0)" fill="#4b4bff"/><ellipse cx="413.0" cy="817.0" rx="19.0" ry="22.5" transform="rotate(0 413.0 817.0)" fill="#4b4bff"/><ellipse cx="414.2" cy="874.0" rx="18.8" ry="22.2" transform="rotate(0 414.2 874.0)" fill="#4b4bff"/><ellipse cx="412.0" cy="925.0" rx="5.4" ry="9.7" transform="rotate(0 412.0 925.0)" fill="#4b4bff"/><ellipse cx="577.0" cy="822.0" rx="58.3" ry="17.9" transform="rotate(12 577.0 822.0)" fill="#4b4bff"/><ellipse cx="490.0" cy="820.0" rx="38.0" ry="8.3" transform="rotate(-3 490.0 820.0)" fill="#4b4bff"/><ellipse cx="640.0" cy="835.0" rx="20.7" ry="9.7" transform="rotate(10 640.0 835.0)" fill="#4b4bff"/><ellipse cx="585.0" cy="878.0" rx="18.5" ry="5.8" transform="rotate(22 585.0 878.0)" fill="#4b4bff"/><ellipse cx="587.0" cy="939.0" rx="48.7" ry="15.1" transform="rotate(20 587.0 939.0)" fill="#4b4bff"/><ellipse cx="257.9" cy="707.6" rx="44.1" ry="17.1" transform="rotate(12 257.9 707.6)" fill="#6464ff"/><ellipse cx="212.0" cy="715.0" rx="38.2" ry="7.4" transform="rotate(4 212.0 715.0)" fill="#6464ff"/><ellipse cx="252.0" cy="823.0" rx="48.1" ry="12.0" transform="rotate(11 252.0 823.0)" fill="#6464ff"/><ellipse cx="335.0" cy="830.0" rx="24.9" ry="5.8" transform="rotate(4 335.0 830.0)" fill="#6464ff"/><ellipse cx="412.5" cy="706.0" rx="5.9" ry="10.8" transform="rotate(0 412.5 706.0)" fill="#6464ff"/><ellipse cx="415.4" cy="762.0" rx="17.3" ry="18.8" transform="rotate(0 415.4 762.0)" fill="#6464ff"/><ellipse cx="413.0" cy="817.0" rx="17.6" ry="20.8" transform="rotate(0 413.0 817.0)" fill="#6464ff"/><ellipse cx="414.2" cy="874.0" rx="17.3" ry="20.4" transform="rotate(0 414.2 874.0)" fill="#6464ff"/><ellipse cx="577.0" cy="822.0" rx="55.2" ry="17.0" transform="rotate(12 577.0 822.0)" fill="#6464ff"/><ellipse cx="490.0" cy="820.0" rx="29.7" ry="6.5" transform="rotate(-3 490.0 820.0)" fill="#6464ff"/><ellipse cx="640.0" cy="835.0" rx="16.2" ry="7.6" transform="rotate(10 640.0 835.0)" fill="#6464ff"/><ellipse cx="587.0" cy="939.0" rx="44.3" ry="13.8" transform="rotate(20 587.0 939.0)" fill="#6464ff"/><ellipse cx="257.9" cy="707.6" rx="41.0" ry="15.9" transform="rotate(12 257.9 707.6)" fill="#7d7dff"/><ellipse cx="212.0" cy="715.0" rx="30.2" ry="5.8" transform="rotate(4 212.0 715.0)" fill="#7d7dff"/><ellipse cx="252.0" cy="823.0" rx="44.4" ry="11.1" transform="rotate(11 252.0 823.0)" fill="#7d7dff"/><ellipse cx="412.5" cy="706.0" rx="4.0" ry="7.4" transform="rotate(0 412.5 706.0)" fill="#7d7dff"/><ellipse cx="415.4" cy="762.0" rx="15.8" ry="17.2" transform="rotate(0 415.4 762.0)" fill="#7d7dff"/><ellipse cx="413.0" cy="817.0" rx="16.3" ry="19.2" transform="rotate(0 413.0 817.0)" fill="#7d7dff"/><ellipse cx="414.2" cy="874.0" rx="15.8" ry="18.7" transform="rotate(0 414.2 874.0)" fill="#7d7dff"/><ellipse cx="577.0" cy="822.0" rx="52.1" ry="16.0" transform="rotate(12 577.0 822.0)" fill="#7d7dff"/><ellipse cx="490.0" cy="820.0" rx="20.2" ry="4.4" transform="rotate(-3 490.0 820.0)" fill="#7d7dff"/><ellipse cx="640.0" cy="835.0" rx="11.0" ry="5.1" transform="rotate(10 640.0 835.0)" fill="#7d7dff"/><ellipse cx="587.0" cy="939.0" rx="40.1" ry="12.4" transform="rotate(20 587.0 939.0)" fill="#7d7dff"/><ellipse cx="257.9" cy="707.6" rx="37.9" ry="14.7" transform="rotate(12 257.9 707.6)" fill="#9696ff"/><ellipse cx="212.0" cy="715.0" rx="20.7" ry="4.0" transform="rotate(4 212.0 715.0)" fill="#9696ff"/><ellipse cx="252.0" cy="823.0" rx="40.7" ry="10.2" transform="rotate(11 252.0 823.0)" fill="#9696ff"/><ellipse cx="415.4" cy="762.0" rx="14.3" ry="15.6" transform="rotate(0 415.4 762.0)" fill="#9696ff"/><ellipse cx="413.0" cy="817.0" rx="14.9" ry="17.6" transform="rotate(0 413.0 817.0)" fill="#9696ff"/><ellipse cx="414.2" cy="874.0" rx="14.3" ry="16.9" transform="rotate(0 414.2 874.0)" fill="#9696ff"/><ellipse cx="577.0" cy="822.0" rx="49.1" ry="15.1" transform="rotate(12 577.0 822.0)" fill="#9696ff"/><ellipse cx="587.0" cy="939.0" rx="35.7" ry="11.1" transform="rotate(20 587.0 939.0)" fill="#9696ff"/><ellipse cx="257.9" cy="707.6" rx="34.8" ry="13.5" transform="rotate(12 257.9 707.6)" fill="#b2b2ff"/><ellipse cx="252.0" cy="823.0" rx="37.0" ry="9.2" transform="rotate(11 252.0 823.0)" fill="#b2b2ff"/><ellipse cx="415.4" cy="762.0" rx="12.8" ry="14.0" transform="rotate(0 415.4 762.0)" fill="#b2b2ff"/><ellipse cx="413.0" cy="817.0" rx="13.6" ry="16.0" transform="rotate(0 413.0 817.0)" fill="#b2b2ff"/><ellipse cx="414.2" cy="874.0" rx="12.8" ry="15.1" transform="rotate(0 414.2 874.0)" fill="#b2b2ff"/><ellipse cx="577.0" cy="822.0" rx="46.1" ry="14.2" transform="rotate(12 577.0 822.0)" fill="#b2b2ff"/><ellipse cx="587.0" cy="939.0" rx="31.3" ry="9.7" transform="rotate(20 587.0 939.0)" fill="#b2b2ff"/><ellipse cx="257.9" cy="707.6" rx="31.7" ry="12.3" transform="rotate(12 257.9 707.6)" fill="#cdcdff"/><ellipse cx="252.0" cy="823.0" rx="33.2" ry="8.3" transform="rotate(11 252.0 823.0)" fill="#cdcdff"/><ellipse cx="415.4" cy="762.0" rx="11.2" ry="12.3" transform="rotate(0 415.4 762.0)" fill="#cdcdff"/><ellipse cx="413.0" cy="817.0" rx="12.2" ry="14.4" transform="rotate(0 413.0 817.0)" fill="#cdcdff"/><ellipse cx="414.2" cy="874.0" rx="11.2" ry="13.3" transform="rotate(0 414.2 874.0)" fill="#cdcdff"/><ellipse cx="577.0" cy="822.0" rx="43.1" ry="13.3" transform="rotate(12 577.0 822.0)" fill="#cdcdff"/><ellipse cx="587.0" cy="939.0" rx="26.6" ry="8.3" transform="rotate(20 587.0 939.0)" fill="#cdcdff"/><ellipse cx="257.9" cy="707.6" rx="28.5" ry="11.1" transform="rotate(12 257.9 707.6)" fill="#e8e8ff"/><ellipse cx="252.0" cy="823.0" rx="29.2" ry="7.3" transform="rotate(11 252.0 823.0)" fill="#e8e8ff"/><ellipse cx="415.4" cy="762.0" rx="9.6" ry="10.4" transform="rotate(0 415.4 762.0)" fill="#e8e8ff"/><ellipse cx="413.0" cy="817.0" rx="10.7" ry="12.6" transform="rotate(0 413.0 817.0)" fill="#e8e8ff"/><ellipse cx="414.2" cy="874.0" rx="9.6" ry="11.3" transform="rotate(0 414.2 874.0)" fill="#e8e8ff"/><ellipse cx="577.0" cy="822.0" rx="40.1" ry="12.3" transform="rotate(12 577.0 822.0)" fill="#e8e8ff"/><ellipse cx="587.0" cy="939.0" rx="21.3" ry="6.6" transform="rotate(20 587.0 939.0)" fill="#e8e8ff"/><ellipse cx="257.9" cy="707.6" rx="25.1" ry="9.8" transform="rotate(12 257.9 707.6)" fill="#ffebeb"/><ellipse cx="252.0" cy="823.0" rx="24.9" ry="6.2" transform="rotate(11 252.0 823.0)" fill="#ffebeb"/><ellipse cx="415.4" cy="762.0" rx="7.7" ry="8.4" transform="rotate(0 415.4 762.0)" fill="#ffebeb"/><ellipse cx="413.0" cy="817.0" rx="9.1" ry="10.8" transform="rotate(0 413.0 817.0)" fill="#ffebeb"/><ellipse cx="414.2" cy="874.0" rx="7.7" ry="9.1" transform="rotate(0 414.2 874.0)" fill="#ffebeb"/><ellipse cx="577.0" cy="822.0" rx="37.0" ry="11.4" transform="rotate(12 577.0 822.0)" fill="#ffebeb"/><ellipse cx="587.0" cy="939.0" rx="14.8" ry="4.6" transform="rotate(20 587.0 939.0)" fill="#ffebeb"/><ellipse cx="257.9" cy="707.6" rx="21.4" ry="8.3" transform="rotate(12 257.9 707.6)" fill="#ffcdcd"/><ellipse cx="252.0" cy="823.0" rx="20.0" ry="5.0" transform="rotate(11 252.0 823.0)" fill="#ffcdcd"/><ellipse cx="415.4" cy="762.0" rx="5.4" ry="5.8" transform="rotate(0 415.4 762.0)" fill="#ffcdcd"/><ellipse cx="413.0" cy="817.0" rx="7.3" ry="8.7" transform="rotate(0 413.0 817.0)" fill="#ffcdcd"/><ellipse cx="414.2" cy="874.0" rx="5.4" ry="6.3" transform="rotate(0 414.2 874.0)" fill="#ffcdcd"/><ellipse cx="577.0" cy="822.0" rx="33.8" ry="10.4" transform="rotate(12 577.0 822.0)" fill="#ffcdcd"/><ellipse cx="257.9" cy="707.6" rx="17.3" ry="6.7" transform="rotate(12 257.9 707.6)" fill="#ffaaaa"/><ellipse cx="252.0" cy="823.0" rx="14.0" ry="3.5" transform="rotate(11 252.0 823.0)" fill="#ffaaaa"/><ellipse cx="413.0" cy="817.0" rx="5.1" ry="6.0" transform="rotate(0 413.0 817.0)" fill="#ffaaaa"/><ellipse cx="577.0" cy="822.0" rx="30.5" ry="9.4" transform="rotate(12 577.0 822.0)" fill="#ffaaaa"/><ellipse cx="257.9" cy="707.6" rx="12.1" ry="4.7" transform="rotate(12 257.9 707.6)" fill="#ff8787"/><ellipse cx="577.0" cy="822.0" rx="27.0" ry="8.3" transform="rotate(12 577.0 822.0)" fill="#ff8787"/><ellipse cx="577.0" cy="822.0" rx="23.1" ry="7.1" transform="rotate(12 577.0 822.0)" fill="#ff5f5f"/><ellipse cx="577.0" cy="822.0" rx="18.6" ry="5.7" transform="rotate(12 577.0 822.0)" fill="#ff3737"/><ellipse cx="577.0" cy="822.0" rx="13.1" ry="4.0" transform="rotate(12 577.0 822.0)" fill="#f50f0f"/></g><path d="M412.4 579.0V581.9M412.4 593.9V614.4M412.4 626.4V646.9M412.4 658.9V679.4M412.4 691.4V711.9M412.4 723.9V744.4M412.4 756.4V776.9M412.4 788.9V809.4M412.4 821.4V841.9M412.4 853.9V874.4M412.4 886.4V906.9M412.4 918.9V939.4M412.4 951.4V971.9M412.4 983.9V1001.0" stroke="#ff00ff" stroke-width="3.0" fill="none"/><path d="M575.9 579.0V582.6M575.9 594.6V615.1M575.9 627.1V647.6M575.9 659.6V680.1M575.9 692.1V712.6M575.9 724.6V745.1M575.9 757.1V777.6M575.9 789.6V810.1M575.9 822.1V842.6M575.9 854.6V875.1M575.9 887.1V907.6M575.9 919.6V940.1M575.9 952.1V972.6M575.9 984.6V1001.0" stroke="#000000" stroke-width="3.0" fill="none"/><circle cx="418.2" cy="759.1" r="25.8" fill="none" stroke="#00a650" stroke-width="6"/><circle cx="418.2" cy="819.4" r="25.8" fill="none" stroke="#00a650" stroke-width="6"/><circle cx="418.2" cy="876.1" r="25.8" fill="none" stroke="#00a650" stroke-width="6"/><text transform="translate(496.25,0) scale(1.03,1) translate(-496.25,0)" x="437.24" y="718.57" font-family="Liberation Sans" font-weight="bold" font-size="43.39" fill="#00a650" >ISWM</text></g>
<rect x="137.3" y="579" width="521.7" height="422" fill="none" stroke="#262626" stroke-width="5.4"/>
<path d="M145.8 1001v-8.0M145.8 579v8.0M343.1 1001v-8.0M343.1 579v8.0M540.4 1001v-8.0M540.4 579v8.0" stroke="#262626" stroke-width="5.4" fill="none"/>
<path d="M137.3 579h8.0M659 579h-8.0M137.3 719.7h8.0M659 719.7h-8.0M137.3 860.4h8.0M659 860.4h-8.0M137.3 1001h8.0M659 1001h-8.0" stroke="#262626" stroke-width="5.4" fill="none"/>
<text x="132.9" y="1046.1" font-size="46.5" fill="#262626">0</text>
<text x="330.2" y="1046.1" font-size="46.5" fill="#262626">5</text>
<path transform="translate(514.5,1046.1) scale(0.02271,-0.02271)" d="M515 0L515 1237L197 1010L197 1180L530 1409L696 1409L696 0Z" fill="#262626"/>
<text x="540.4" y="1046.1" font-size="46.5" fill="#262626">0</text>
<path transform="translate(72.8,595.5) scale(0.02271,-0.02271)" d="M515 0L515 1237L197 1010L197 1180L530 1409L696 1409L696 0Z" fill="#262626"/>
<text x="98.6" y="595.5" font-size="46.5" fill="#262626">0</text>
<text x="98.6" y="736.2" font-size="46.5" fill="#262626">0</text>
<text x="57.3" y="876.9" font-size="46.5" fill="#262626">-</text>
<path transform="translate(72.8,876.9) scale(0.02271,-0.02271)" d="M515 0L515 1237L197 1010L197 1180L530 1409L696 1409L696 0Z" fill="#262626"/>
<text x="98.6" y="876.9" font-size="46.5" fill="#262626">0</text>
<text x="57.3" y="1017.5" font-size="46.5" fill="#262626">-20</text>
<text transform="translate(174.85,0) scale(1.02,1) translate(-174.85,0)" x="157.54" y="639.69" font-family="Liberation Sans" font-weight="bold" font-size="61" fill="#000" >c</text>
<text transform="translate(314.3,0) scale(1.02,1) translate(-314.3,0)" x="297.18" y="1088.38" font-family="Liberation Serif" font-size="51.88" fill="#000" >ω</text><text transform="translate(339.15,0) scale(0.99,1) translate(-339.15,0)" x="332.85" y="1097.05" font-family="Liberation Sans" font-style="italic" font-size="35.27" fill="#000" >t</text><text transform="translate(428.3,0) scale(1.01,1) translate(-428.3,0)" x="356.92" y="1087.42" font-family="Liberation Sans" font-size="52.44" fill="#000" >(meV)</text>
<text transform="rotate(-90) translate(-879.5,0) scale(1.04,1) translate(879.5,0)" x="-897.03" y="38.47" font-family="Liberation Serif" font-size="53.12" fill="#000" >ω</text><text transform="rotate(-90) translate(-850.75,0) scale(1,1) translate(850.75,0)" x="-861.65" y="48.47" font-family="Liberation Serif" font-style="italic" font-size="53.19" fill="#000" >τ</text><text transform="rotate(-90) translate(-752.6,0) scale(1,1) translate(752.6,0)" x="-823.98" y="38.02" font-family="Liberation Sans" font-size="52.44" fill="#000" >(meV)</text>
<clipPath id="cpdb"><rect x="868" y="579" width="521.7" height="422.0"/></clipPath><clipPath id="cpdp"><path d="M940.0 624.0 952.0 622.4 978.0 628.0 996.0 636.0 1018.0 647.6 1012.0 651.0 992.0 654.0 993.0 659.0 966.0 663.0 956.0 660.0 950.0 648.0 944.0 642.0 947.0 637.0 941.0 630.0ZM915.0 665.0 930.0 664.4 944.0 668.0 974.0 678.0 1006.0 689.0 1032.0 701.0 1037.0 711.0 1046.0 713.0 1086.0 720.0 1116.0 728.0 1124.0 733.0 1112.0 740.0 1086.0 743.0 1046.0 741.0 1006.0 738.0 970.0 739.0 1002.0 748.0 1018.0 756.0 1020.0 765.0 1030.0 769.0 994.0 780.0 978.0 782.4 944.0 780.0 938.0 764.0 926.0 750.0 922.0 739.0 866.0 736.0 866.0 710.0 906.0 705.0 918.0 700.0 911.0 684.0 910.0 680.0ZM904.0 796.0 926.0 792.4 970.0 791.0 1014.0 797.0 1006.0 802.0 1066.0 807.0 1120.0 812.0 1185.3 808.7 1222.3 804.4 1231.0 803.3 1222.3 796.8 1233.2 792.4 1250.6 784.8 1233.2 779.3 1264.8 775.0 1263.7 769.5 1271.3 764.1 1262.6 757.6 1270.2 753.2 1263.7 748.9 1263.7 742.3 1276.8 738.0 1305.1 743.4 1326.8 754.3 1337.7 763.0 1329.0 766.7 1318.1 768.5 1321.4 775.0 1302.9 781.5 1285.5 784.8 1283.3 790.2 1305.1 795.7 1344.3 808.7 1391.0 813.1 1391.0 854.5 1337.7 851.2 1305.1 850.1 1289.8 854.5 1305.1 857.7 1326.8 864.3 1346.4 877.3 1346.4 888.2 1316.0 895.8 1285.5 890.4 1261.5 878.4 1259.3 871.9 1249.5 866.4 1250.6 859.9 1245.2 854.5 1207.1 843.6 1163.5 845.7 1120.0 852.3 1086.0 855.0 1056.0 848.0 1036.0 853.0 1006.0 849.0 956.0 840.0 916.0 828.0 886.0 820.0 886.0 818.0 910.0 812.0 909.0 804.0ZM946.0 866.4 958.0 863.6 986.0 869.0 1002.0 876.0 1011.0 883.0 1004.0 886.0 978.0 884.0 970.0 880.0 958.0 873.0ZM1233.2 912.2 1246.3 908.9 1305.1 911.1 1337.7 918.7 1370.4 933.9 1391.0 944.0 1391.0 970.0 1359.5 966.6 1326.8 957.9 1294.2 947.0 1261.5 931.8 1241.9 920.9ZM1273.5 980.7 1285.5 979.2 1311.6 984.0 1333.4 997.1 1338.0 1001.0 1292.0 1001.0ZM1025.0 779.0 1050.0 778.6 1081.0 779.3 1081.0 780.8 1050.0 781.2 1025.0 780.6Z"/></clipPath><g clip-path="url(#cpdb)"><path d="M940.0 624.0 952.0 622.4 978.0 628.0 996.0 636.0 1018.0 647.6 1012.0 651.0 992.0 654.0 993.0 659.0 966.0 663.0 956.0 660.0 950.0 648.0 944.0 642.0 947.0 637.0 941.0 630.0ZM915.0 665.0 930.0 664.4 944.0 668.0 974.0 678.0 1006.0 689.0 1032.0 701.0 1037.0 711.0 1046.0 713.0 1086.0 720.0 1116.0 728.0 1124.0 733.0 1112.0 740.0 1086.0 743.0 1046.0 741.0 1006.0 738.0 970.0 739.0 1002.0 748.0 1018.0 756.0 1020.0 765.0 1030.0 769.0 994.0 780.0 978.0 782.4 944.0 780.0 938.0 764.0 926.0 750.0 922.0 739.0 866.0 736.0 866.0 710.0 906.0 705.0 918.0 700.0 911.0 684.0 910.0 680.0ZM904.0 796.0 926.0 792.4 970.0 791.0 1014.0 797.0 1006.0 802.0 1066.0 807.0 1120.0 812.0 1185.3 808.7 1222.3 804.4 1231.0 803.3 1222.3 796.8 1233.2 792.4 1250.6 784.8 1233.2 779.3 1264.8 775.0 1263.7 769.5 1271.3 764.1 1262.6 757.6 1270.2 753.2 1263.7 748.9 1263.7 742.3 1276.8 738.0 1305.1 743.4 1326.8 754.3 1337.7 763.0 1329.0 766.7 1318.1 768.5 1321.4 775.0 1302.9 781.5 1285.5 784.8 1283.3 790.2 1305.1 795.7 1344.3 808.7 1391.0 813.1 1391.0 854.5 1337.7 851.2 1305.1 850.1 1289.8 854.5 1305.1 857.7 1326.8 864.3 1346.4 877.3 1346.4 888.2 1316.0 895.8 1285.5 890.4 1261.5 878.4 1259.3 871.9 1249.5 866.4 1250.6 859.9 1245.2 854.5 1207.1 843.6 1163.5 845.7 1120.0 852.3 1086.0 855.0 1056.0 848.0 1036.0 853.0 1006.0 849.0 956.0 840.0 916.0 828.0 886.0 820.0 886.0 818.0 910.0 812.0 909.0 804.0ZM946.0 866.4 958.0 863.6 986.0 869.0 1002.0 876.0 1011.0 883.0 1004.0 886.0 978.0 884.0 970.0 880.0 958.0 873.0ZM1233.2 912.2 1246.3 908.9 1305.1 911.1 1337.7 918.7 1370.4 933.9 1391.0 944.0 1391.0 970.0 1359.5 966.6 1326.8 957.9 1294.2 947.0 1261.5 931.8 1241.9 920.9ZM1273.5 980.7 1285.5 979.2 1311.6 984.0 1333.4 997.1 1338.0 1001.0 1292.0 1001.0ZM1025.0 779.0 1050.0 778.6 1081.0 779.3 1081.0 780.8 1050.0 781.2 1025.0 780.6Z" fill="#1a1aff"/><g clip-path="url(#cpdp)"><ellipse cx="979.0" cy="638.0" rx="18.5" ry="5.5" transform="rotate(15 979.0 638.0)" fill="#3232ff"/><ellipse cx="986.5" cy="706.5" rx="50.5" ry="19.7" transform="rotate(12 986.5 706.5)" fill="#3232ff"/><ellipse cx="942.0" cy="715.0" rx="60.5" ry="10.4" transform="rotate(4 942.0 715.0)" fill="#3232ff"/><ellipse cx="1060.0" cy="727.0" rx="44.4" ry="6.7" transform="rotate(8 1060.0 727.0)" fill="#3232ff"/><ellipse cx="976.0" cy="762.0" rx="31.1" ry="10.4" transform="rotate(15 976.0 762.0)" fill="#3232ff"/><ellipse cx="980.0" cy="823.0" rx="55.8" ry="14.0" transform="rotate(11 980.0 823.0)" fill="#3232ff"/><ellipse cx="1070.0" cy="830.0" rx="51.8" ry="8.9" transform="rotate(3 1070.0 830.0)" fill="#3232ff"/><ellipse cx="1160.0" cy="829.0" rx="49.3" ry="6.8" transform="rotate(0 1160.0 829.0)" fill="#3232ff"/><ellipse cx="918.0" cy="810.0" rx="20.7" ry="6.7" transform="rotate(12 918.0 810.0)" fill="#3232ff"/><ellipse cx="1304.0" cy="757.0" rx="18.5" ry="6.2" transform="rotate(20 1304.0 757.0)" fill="#3232ff"/><ellipse cx="1306.5" cy="822.0" rx="61.6" ry="19.0" transform="rotate(12 1306.5 822.0)" fill="#3232ff"/><ellipse cx="1225.0" cy="820.0" rx="42.0" ry="10.1" transform="rotate(-3 1225.0 820.0)" fill="#3232ff"/><ellipse cx="1368.0" cy="835.0" rx="25.2" ry="11.8" transform="rotate(10 1368.0 835.0)" fill="#3232ff"/><ellipse cx="1313.0" cy="878.0" rx="28.1" ry="8.9" transform="rotate(22 1313.0 878.0)" fill="#3232ff"/><ellipse cx="1316.0" cy="940.0" rx="53.2" ry="16.5" transform="rotate(20 1316.0 940.0)" fill="#3232ff"/><ellipse cx="986.5" cy="706.5" rx="47.2" ry="18.4" transform="rotate(12 986.5 706.5)" fill="#4b4bff"/><ellipse cx="942.0" cy="715.0" rx="51.8" ry="8.9" transform="rotate(4 942.0 715.0)" fill="#4b4bff"/><ellipse cx="1060.0" cy="727.0" rx="29.2" ry="4.4" transform="rotate(8 1060.0 727.0)" fill="#4b4bff"/><ellipse cx="976.0" cy="762.0" rx="20.4" ry="6.8" transform="rotate(15 976.0 762.0)" fill="#4b4bff"/><ellipse cx="980.0" cy="823.0" rx="51.9" ry="13.0" transform="rotate(11 980.0 823.0)" fill="#4b4bff"/><ellipse cx="1070.0" cy="830.0" rx="34.1" ry="5.8" transform="rotate(3 1070.0 830.0)" fill="#4b4bff"/><ellipse cx="918.0" cy="810.0" rx="13.6" ry="4.4" transform="rotate(12 918.0 810.0)" fill="#4b4bff"/><ellipse cx="1306.5" cy="822.0" rx="58.3" ry="17.9" transform="rotate(12 1306.5 822.0)" fill="#4b4bff"/><ellipse cx="1225.0" cy="820.0" rx="34.5" ry="8.3" transform="rotate(-3 1225.0 820.0)" fill="#4b4bff"/><ellipse cx="1368.0" cy="835.0" rx="20.7" ry="9.7" transform="rotate(10 1368.0 835.0)" fill="#4b4bff"/><ellipse cx="1313.0" cy="878.0" rx="18.5" ry="5.8" transform="rotate(22 1313.0 878.0)" fill="#4b4bff"/><ellipse cx="1316.0" cy="940.0" rx="48.7" ry="15.1" transform="rotate(20 1316.0 940.0)" fill="#4b4bff"/><ellipse cx="986.5" cy="706.5" rx="44.1" ry="17.1" transform="rotate(12 986.5 706.5)" fill="#6464ff"/><ellipse cx="942.0" cy="715.0" rx="43.1" ry="7.4" transform="rotate(4 942.0 715.0)" fill="#6464ff"/><ellipse cx="980.0" cy="823.0" rx="48.1" ry="12.0" transform="rotate(11 980.0 823.0)" fill="#6464ff"/><ellipse cx="1306.5" cy="822.0" rx="55.2" ry="17.0" transform="rotate(12 1306.5 822.0)" fill="#6464ff"/><ellipse cx="1225.0" cy="820.0" rx="27.0" ry="6.5" transform="rotate(-3 1225.0 820.0)" fill="#6464ff"/><ellipse cx="1368.0" cy="835.0" rx="16.2" ry="7.6" transform="rotate(10 1368.0 835.0)" fill="#6464ff"/><ellipse cx="1316.0" cy="940.0" rx="44.3" ry="13.8" transform="rotate(20 1316.0 940.0)" fill="#6464ff"/><ellipse cx="986.5" cy="706.5" rx="41.0" ry="15.9" transform="rotate(12 986.5 706.5)" fill="#7d7dff"/><ellipse cx="942.0" cy="715.0" rx="34.1" ry="5.8" transform="rotate(4 942.0 715.0)" fill="#7d7dff"/><ellipse cx="980.0" cy="823.0" rx="44.4" ry="11.1" transform="rotate(11 980.0 823.0)" fill="#7d7dff"/><ellipse cx="1306.5" cy="822.0" rx="52.1" ry="16.0" transform="rotate(12 1306.5 822.0)" fill="#7d7dff"/><ellipse cx="1225.0" cy="820.0" rx="18.4" ry="4.4" transform="rotate(-3 1225.0 820.0)" fill="#7d7dff"/><ellipse cx="1368.0" cy="835.0" rx="11.0" ry="5.1" transform="rotate(10 1368.0 835.0)" fill="#7d7dff"/><ellipse cx="1316.0" cy="940.0" rx="40.1" ry="12.4" transform="rotate(20 1316.0 940.0)" fill="#7d7dff"/><ellipse cx="986.5" cy="706.5" rx="37.9" ry="14.7" transform="rotate(12 986.5 706.5)" fill="#9696ff"/><ellipse cx="942.0" cy="715.0" rx="23.4" ry="4.0" transform="rotate(4 942.0 715.0)" fill="#9696ff"/><ellipse cx="980.0" cy="823.0" rx="40.7" ry="10.2" transform="rotate(11 980.0 823.0)" fill="#9696ff"/><ellipse cx="1306.5" cy="822.0" rx="49.1" ry="15.1" transform="rotate(12 1306.5 822.0)" fill="#9696ff"/><ellipse cx="1316.0" cy="940.0" rx="35.7" ry="11.1" transform="rotate(20 1316.0 940.0)" fill="#9696ff"/><ellipse cx="986.5" cy="706.5" rx="34.8" ry="13.5" transform="rotate(12 986.5 706.5)" fill="#b2b2ff"/><ellipse cx="980.0" cy="823.0" rx="37.0" ry="9.2" transform="rotate(11 980.0 823.0)" fill="#b2b2ff"/><ellipse cx="1306.5" cy="822.0" rx="46.1" ry="14.2" transform="rotate(12 1306.5 822.0)" fill="#b2b2ff"/><ellipse cx="1316.0" cy="940.0" rx="31.3" ry="9.7" transform="rotate(20 1316.0 940.0)" fill="#b2b2ff"/><ellipse cx="986.5" cy="706.5" rx="31.7" ry="12.3" transform="rotate(12 986.5 706.5)" fill="#cdcdff"/><ellipse cx="980.0" cy="823.0" rx="33.2" ry="8.3" transform="rotate(11 980.0 823.0)" fill="#cdcdff"/><ellipse cx="1306.5" cy="822.0" rx="43.1" ry="13.3" transform="rotate(12 1306.5 822.0)" fill="#cdcdff"/><ellipse cx="1316.0" cy="940.0" rx="26.6" ry="8.3" transform="rotate(20 1316.0 940.0)" fill="#cdcdff"/><ellipse cx="986.5" cy="706.5" rx="28.5" ry="11.1" transform="rotate(12 986.5 706.5)" fill="#e8e8ff"/><ellipse cx="980.0" cy="823.0" rx="29.2" ry="7.3" transform="rotate(11 980.0 823.0)" fill="#e8e8ff"/><ellipse cx="1306.5" cy="822.0" rx="40.1" ry="12.3" transform="rotate(12 1306.5 822.0)" fill="#e8e8ff"/><ellipse cx="1316.0" cy="940.0" rx="21.3" ry="6.6" transform="rotate(20 1316.0 940.0)" fill="#e8e8ff"/><ellipse cx="986.5" cy="706.5" rx="25.1" ry="9.8" transform="rotate(12 986.5 706.5)" fill="#ffebeb"/><ellipse cx="980.0" cy="823.0" rx="24.9" ry="6.2" transform="rotate(11 980.0 823.0)" fill="#ffebeb"/><ellipse cx="1306.5" cy="822.0" rx="37.0" ry="11.4" transform="rotate(12 1306.5 822.0)" fill="#ffebeb"/><ellipse cx="1316.0" cy="940.0" rx="14.8" ry="4.6" transform="rotate(20 1316.0 940.0)" fill="#ffebeb"/><ellipse cx="986.5" cy="706.5" rx="21.4" ry="8.3" transform="rotate(12 986.5 706.5)" fill="#ffcdcd"/><ellipse cx="980.0" cy="823.0" rx="20.0" ry="5.0" transform="rotate(11 980.0 823.0)" fill="#ffcdcd"/><ellipse cx="1306.5" cy="822.0" rx="33.8" ry="10.4" transform="rotate(12 1306.5 822.0)" fill="#ffcdcd"/><ellipse cx="986.5" cy="706.5" rx="17.3" ry="6.7" transform="rotate(12 986.5 706.5)" fill="#ffaaaa"/><ellipse cx="980.0" cy="823.0" rx="14.0" ry="3.5" transform="rotate(11 980.0 823.0)" fill="#ffaaaa"/><ellipse cx="1306.5" cy="822.0" rx="30.5" ry="9.4" transform="rotate(12 1306.5 822.0)" fill="#ffaaaa"/><ellipse cx="986.5" cy="706.5" rx="12.1" ry="4.7" transform="rotate(12 986.5 706.5)" fill="#ff8787"/><ellipse cx="1306.5" cy="822.0" rx="27.0" ry="8.3" transform="rotate(12 1306.5 822.0)" fill="#ff8787"/><ellipse cx="1306.5" cy="822.0" rx="23.1" ry="7.1" transform="rotate(12 1306.5 822.0)" fill="#ff5f5f"/><ellipse cx="1306.5" cy="822.0" rx="18.6" ry="5.7" transform="rotate(12 1306.5 822.0)" fill="#ff3737"/><ellipse cx="1306.5" cy="822.0" rx="13.1" ry="4.0" transform="rotate(12 1306.5 822.0)" fill="#f50f0f"/></g><path d="M1140.2 579.0V581.9M1140.2 593.9V614.4M1140.2 626.4V646.9M1140.2 658.9V679.4M1140.2 691.4V711.9M1140.2 723.9V744.4M1140.2 756.4V776.9M1140.2 788.9V809.4M1140.2 821.4V841.9M1140.2 853.9V874.4M1140.2 886.4V906.9M1140.2 918.9V939.4M1140.2 951.4V971.9M1140.2 983.9V1001.0" stroke="#ff00ff" stroke-width="3.0" fill="none"/><path d="M1304.3 579.0V582.6M1304.3 594.6V615.1M1304.3 627.1V647.6M1304.3 659.6V680.1M1304.3 692.1V712.6M1304.3 724.6V745.1M1304.3 757.1V777.6M1304.3 789.6V810.1M1304.3 822.1V842.6M1304.3 854.6V875.1M1304.3 887.1V907.6M1304.3 919.6V940.1M1304.3 952.1V972.6M1304.3 984.6V1001.0" stroke="#000000" stroke-width="3.0" fill="none"/></g>
<rect x="868" y="579" width="521.7" height="422" fill="none" stroke="#262626" stroke-width="5.4"/>
<path d="M876.5 1001v-8.0M876.5 579v8.0M1073.8 1001v-8.0M1073.8 579v8.0M1271.1 1001v-8.0M1271.1 579v8.0" stroke="#262626" stroke-width="5.4" fill="none"/>
<path d="M868 579h8.0M1389.7 579h-8.0M868 719.7h8.0M1389.7 719.7h-8.0M868 860.4h8.0M1389.7 860.4h-8.0M868 1001h8.0M1389.7 1001h-8.0" stroke="#262626" stroke-width="5.4" fill="none"/>
<text x="863.6" y="1046.1" font-size="46.5" fill="#262626">0</text>
<text x="1060.9" y="1046.1" font-size="46.5" fill="#262626">5</text>
<path transform="translate(1245.2,1046.1) scale(0.02271,-0.02271)" d="M515 0L515 1237L197 1010L197 1180L530 1409L696 1409L696 0Z" fill="#262626"/>
<text x="1271.1" y="1046.1" font-size="46.5" fill="#262626">0</text>
<path transform="translate(803.5,595.5) scale(0.02271,-0.02271)" d="M515 0L515 1237L197 1010L197 1180L530 1409L696 1409L696 0Z" fill="#262626"/>
<text x="829.3" y="595.5" font-size="46.5" fill="#262626">0</text>
<text x="829.3" y="736.2" font-size="46.5" fill="#262626">0</text>
<text x="788" y="876.9" font-size="46.5" fill="#262626">-</text>
<path transform="translate(803.5,876.9) scale(0.02271,-0.02271)" d="M515 0L515 1237L197 1010L197 1180L530 1409L696 1409L696 0Z" fill="#262626"/>
<text x="829.3" y="876.9" font-size="46.5" fill="#262626">0</text>
<text x="788" y="1017.5" font-size="46.5" fill="#262626">-20</text>
<text transform="translate(903.5,0) scale(1.07,1) translate(-903.5,0)" x="885.59" y="651.39" font-family="Liberation Sans" font-weight="bold" font-size="61.22" fill="#000" >d</text>
<text transform="translate(1045,0) scale(1.02,1) translate(-1045,0)" x="1027.88" y="1088.38" font-family="Liberation Serif" font-size="51.88" fill="#000" >ω</text><text transform="translate(1069.85,0) scale(0.99,1) translate(-1069.85,0)" x="1063.55" y="1097.05" font-family="Liberation Sans" font-style="italic" font-size="35.27" fill="#000" >t</text><text transform="translate(1159,0) scale(1.01,1) translate(-1159,0)" x="1087.62" y="1087.42" font-family="Liberation Sans" font-size="52.44" fill="#000" >(meV)</text>
<text transform="rotate(-90) translate(-879.5,0) scale(1.04,1) translate(879.5,0)" x="-897.03" y="769.17" font-family="Liberation Serif" font-size="53.12" fill="#000" >ω</text><text transform="rotate(-90) translate(-850.75,0) scale(1,1) translate(850.75,0)" x="-861.65" y="779.17" font-family="Liberation Serif" font-style="italic" font-size="53.19" fill="#000" >τ</text><text transform="rotate(-90) translate(-752.6,0) scale(1,1) translate(752.6,0)" x="-823.98" y="768.72" font-family="Liberation Sans" font-size="52.44" fill="#000" >(meV)</text>
<polygon points="137.3,1513.0 139.6,1513.1 152.4,1510.5 161.4,1513.1 169.1,1519.5 178.1,1508.7 185.8,1487.4 194.0,1473.8 202.4,1477.2 211.4,1451.5 219.1,1438.7 226.8,1440.0 235.8,1454.1 243.5,1478.5 251.7,1491.8 259.7,1492.1 269.2,1434.8 277.6,1381.0 284.5,1339.9 287.5,1300.0 292.0,1242.0 293.0,1240.5 298.5,1237.0 301.0,1246.0 307.0,1300.0 316.6,1409.2 325.6,1455.4 333.3,1466.9 342.3,1456.6 350.0,1432.3 359.0,1368.1 362.0,1300.0 366.5,1230.0 374.5,1168.0 379.0,1195.0 383.0,1230.0 389.0,1300.0 394.6,1380.0 399.7,1441.7 407.7,1522.3 415.7,1522.9 423.7,1497.7 432.3,1485.1 438.6,1437.1 443.1,1380.0 445.2,1355.3 450.3,1273.2 457.2,1218.0 464.4,1283.4 471.1,1380.0 480.9,1497.7 489.4,1529.7 500.0,1503.0 506.9,1485.6 514.5,1466.5 522.6,1460.2 530.7,1441.1 538.8,1443.0 547.2,1431.2 555.0,1455.5 557.9,1474.1 563.1,1521.5 571.7,1532.5 579.8,1516.3 587.9,1516.3 597.2,1512.2 605.3,1506.5 612.8,1503.2 620.9,1503.0 629.0,1508.8 636.5,1519.2 645.2,1534.8 655.6,1536.0 659.0,1536.0 659.0,1551.7 137.3,1551.7" fill="#a6a6a6"/>
<path d="M137.3 1551.7H659" stroke="#404040" stroke-width="1"/>
<path d="M300.0 1151.0V1152.2M300.0 1164.5V1184.5M300.0 1196.8V1216.8M300.0 1229.0V1249.0M300.0 1261.2V1281.2M300.0 1293.5V1313.5M300.0 1325.8V1345.8M300.0 1358.0V1378.0M300.0 1390.2V1410.2M300.0 1422.5V1442.5M300.0 1454.8V1474.8M300.0 1487.0V1507.0M300.0 1519.2V1539.2M300.0 1551.5V1568.0" stroke="#000" stroke-width="3.2" fill="none"/>
<path d="M378.6 1151.0V1152.2M378.6 1164.5V1184.5M378.6 1196.8V1216.8M378.6 1229.0V1249.0M378.6 1261.2V1281.2M378.6 1293.5V1313.5M378.6 1325.8V1345.8M378.6 1358.0V1378.0M378.6 1390.2V1410.2M378.6 1422.5V1442.5M378.6 1454.8V1474.8M378.6 1487.0V1507.0M378.6 1519.2V1539.2M378.6 1551.5V1568.0" stroke="#000" stroke-width="3.2" fill="none"/>
<path d="M457.0 1151.0V1152.2M457.0 1164.5V1184.5M457.0 1196.8V1216.8M457.0 1229.0V1249.0M457.0 1261.2V1281.2M457.0 1293.5V1313.5M457.0 1325.8V1345.8M457.0 1358.0V1378.0M457.0 1390.2V1410.2M457.0 1422.5V1442.5M457.0 1454.8V1474.8M457.0 1487.0V1507.0M457.0 1519.2V1539.2M457.0 1551.5V1568.0" stroke="#000" stroke-width="3.2" fill="none"/>
<polyline points="139.0,1550.5 267.9,1550.3 283.3,1552.4 293.5,1549.0 306.4,1550.8 316.6,1545.2 332.0,1517.0 341.0,1493.9 350.0,1485.6 357.7,1488.7 366.7,1497.7 374.6,1474.3 379.1,1489.7 384.9,1509.1 392.9,1535.4 400.9,1543.4 407.7,1544.0 415.7,1541.7 423.7,1537.1 431.7,1530.9 440.9,1538.9 456.9,1549.1 464.9,1545.7 474.0,1545.1 484.3,1540.6 498.0,1533.7 507.1,1536.6 515.0,1540.6 523.1,1545.8 532.4,1548.7 541.7,1551.2 560.0,1550.5 581.0,1549.0 596.0,1549.0 620.0,1550.5 651.0,1551.2" fill="none" stroke="#0000ff" stroke-width="4.6" stroke-linejoin="round"/>
<polyline points="139.0,1551.5 267.9,1550.3 276.9,1546.5 293.5,1542.1 301.2,1543.1 311.5,1547.2 325.6,1543.4 334.6,1532.4 342.3,1525.2 350.0,1514.4 358.2,1522.6 366.7,1513.9 374.6,1541.7 383.1,1526.3 390.6,1549.1 397.4,1547.4 406.6,1549.1 415.7,1544.6 424.9,1541.1 438.6,1511.4 448.9,1502.9 456.9,1508.0 466.0,1521.7 472.9,1537.7 480.9,1544.6 490.0,1544.6 504.9,1543.4 514.0,1549.7 522.0,1548.0 530.7,1551.6 539.3,1547.5 547.4,1548.1 557.9,1550.4 651.0,1551.6" fill="none" stroke="#ff0000" stroke-width="4.6" stroke-linejoin="round"/>
<rect x="137.3" y="1148.4" width="521.7" height="422.4" fill="none" stroke="#262626" stroke-width="5.4"/>
<path d="M217.1 1570.8v-8.0M217.1 1148.4v8.0M317.4 1570.8v-8.0M317.4 1148.4v8.0M417.8 1570.8v-8.0M417.8 1148.4v8.0M518.1 1570.8v-8.0M518.1 1148.4v8.0M618.5 1570.8v-8.0M618.5 1148.4v8.0" stroke="#262626" stroke-width="5.4" fill="none"/>
<path d="M137.3 1551.7h8.0M659 1551.7h-8.0M137.3 1359.6h8.0M659 1359.6h-8.0M137.3 1167.5h8.0M659 1167.5h-8.0" stroke="#262626" stroke-width="5.4" fill="none"/>
<text x="183.4" y="1616.1" font-size="46.5" fill="#262626">-</text>
<path transform="translate(198.9,1616.1) scale(0.02271,-0.02271)" d="M515 0L515 1237L197 1010L197 1180L530 1409L696 1409L696 0Z" fill="#262626"/>
<text x="224.8" y="1616.1" font-size="46.5" fill="#262626">5</text>
<text x="283.8" y="1616.1" font-size="46.5" fill="#262626">-</text>
<path transform="translate(299.3,1616.1) scale(0.02271,-0.02271)" d="M515 0L515 1237L197 1010L197 1180L530 1409L696 1409L696 0Z" fill="#262626"/>
<text x="325.1" y="1616.1" font-size="46.5" fill="#262626">0</text>
<text x="397.1" y="1616.1" font-size="46.5" fill="#262626">-5</text>
<text x="505.2" y="1616.1" font-size="46.5" fill="#262626">0</text>
<text x="605.5" y="1616.1" font-size="46.5" fill="#262626">5</text>
<text x="98.6" y="1568.2" font-size="46.5" fill="#262626">0</text>
<text x="59.9" y="1376.1" font-size="46.5" fill="#262626">0.5</text>
<path transform="translate(105.1,1184) scale(0.02271,-0.02271)" d="M515 0L515 1237L197 1010L197 1180L530 1409L696 1409L696 0Z" fill="#262626"/>
<text transform="translate(176.55,0) scale(1.04,1) translate(-176.55,0)" x="159.5" y="1208.29" font-family="Liberation Sans" font-weight="bold" font-size="60.64" fill="#000" >e</text>
<text transform="translate(307.9,0) scale(1,1) translate(-307.9,0)" x="290.78" y="1664.38" font-family="Liberation Serif" font-size="51.88" fill="#000" >ω</text><text transform="translate(337.6,0) scale(1.05,1) translate(-337.6,0)" x="327.28" y="1674.59" font-family="Liberation Serif" font-size="51.28" fill="#000" >τ</text><text transform="translate(435.15,0) scale(1.01,1) translate(-435.15,0)" x="363.77" y="1667.52" font-family="Liberation Sans" font-size="52.44" fill="#000" >(meV)</text>
<text transform="rotate(-90) translate(-1467.8,0) scale(1.04,1) translate(1467.8,0)" x="-1486.17" y="42.11" font-family="Liberation Serif" font-style="italic" font-size="88.54" fill="#000" >ε</text><text transform="rotate(-90) translate(-1429.3,0) scale(0.98,1) translate(1429.3,0)" x="-1454.31" y="52.8" font-family="Liberation Sans" font-size="37.67" fill="#000" >NL</text><text transform="rotate(-90) translate(-1364.8,0) scale(0.96,1) translate(1364.8,0)" x="-1383.91" y="42.42" font-family="Liberation Serif" font-size="57.92" fill="#000" >ω</text><text transform="rotate(-90) translate(-1329.85,0) scale(1.06,1) translate(1329.85,0)" x="-1343.64" y="51.9" font-family="Liberation Serif" font-size="38.17" fill="#000" >H</text><text transform="rotate(-90) translate(-1312.85,0) scale(1.13,1) translate(1312.85,0)" x="-1317.57" y="41" font-family="Liberation Serif" font-size="41.94" fill="#000" >,</text><text transform="rotate(-90) translate(-1285.95,0) scale(0.91,1) translate(1285.95,0)" x="-1305.06" y="42.42" font-family="Liberation Serif" font-size="57.92" fill="#000" >ω</text><text transform="rotate(-90) translate(-1261.75,0) scale(0.92,1) translate(1261.75,0)" x="-1269.41" y="53.32" font-family="Liberation Serif" font-size="38.09" fill="#000" >τ</text><path d="M0.5 1379.1Q27.1 1425.7 53.7 1379.1L52.6 1378.5Q27.1 1415.9 1.6 1378.5Z" fill="#000"/><path d="M0.5 1252.0Q27.1 1216.0 53.7 1252.0L52.6 1252.6Q27.1 1225.8 1.6 1252.6Z" fill="#000"/>
<rect x="479.9" y="1173.2" width="39.2" height="28.2" fill="#a6a6a6"/>
<path d="M479.9 1225.6H519.1" stroke="#0000ff" stroke-width="3.2"/>
<path d="M479.9 1270.1H519.1" stroke="#ff0000" stroke-width="3.2"/>
<text x="528" y="1199.1" font-size="30" fill="#000">full</text>
<text x="528" y="1237.4" font-size="30" fill="#000">w/o prop</text>
<text transform="translate(535.4,0) scale(1.04,1) translate(-535.4,0)" x="528.45" y="1281.8" font-family="Liberation Serif" font-size="29.58" fill="#000" >δ</text>
<rect x="545.1" y="1262" width="1.3" height="25.7" fill="#000"/>
<text transform="translate(557.3,0) scale(1.01,1) translate(-557.3,0)" x="548.25" y="1281.5" font-family="Liberation Serif" font-size="28.18" fill="#000" >Δ</text>
<text transform="translate(576.5,0) scale(0.97,1) translate(-576.5,0)" x="565.45" y="1287.06" font-family="Liberation Sans" font-size="19.46" fill="#000" >pp</text>
<rect x="589" y="1260.7" width="2.5" height="27" fill="#000"/>
<text transform="translate(610,0) scale(1.03,1) translate(-610,0)" x="601.84" y="1280.67" font-family="Liberation Sans" font-size="27.91" fill="#000" >=</text>
<text transform="translate(634.25,0) scale(1.02,1) translate(-634.25,0)" x="625.98" y="1281.8" font-family="Liberation Sans" font-size="29.68" fill="#000" >0</text>
<polygon points="868.0,1532.0 870.5,1534.0 877.1,1539.3 888.4,1541.9 899.4,1547.1 911.2,1547.1 920.4,1543.2 930.9,1518.3 938.8,1468.3 953.2,1365.9 963.0,1348.0 970.3,1371.2 983.5,1450.0 994.0,1502.5 1005.8,1531.4 1016.3,1544.5 1026.8,1547.1 1037.3,1536.6 1047.8,1520.9 1058.3,1494.6 1070.1,1482.8 1080.6,1486.7 1091.2,1510.4 1101.7,1528.8 1112.2,1549.8 1122.7,1536.6 1130.0,1507.7 1142.8,1430.0 1153.3,1345.0 1157.2,1297.4 1166.4,1218.7 1174.3,1180.0 1178.7,1205.6 1182.2,1271.2 1186.1,1399.8 1196.6,1410.3 1208.4,1504.7 1222.8,1541.5 1233.3,1544.1 1251.7,1531.0 1264.8,1519.2 1272.7,1524.4 1283.2,1517.9 1296.3,1510.0 1304.2,1517.9 1314.7,1533.6 1327.8,1541.5 1346.2,1546.7 1386.8,1547.2 1389.7,1547.2 1389.7,1551.7 868.0,1551.7" fill="#a6a6a6"/>
<path d="M868 1551.7H1389.7" stroke="#404040" stroke-width="1"/>
<path d="M971.7 1151.0V1152.2M971.7 1164.5V1184.5M971.7 1196.8V1216.8M971.7 1229.0V1249.0M971.7 1261.2V1281.2M971.7 1293.5V1313.5M971.7 1325.8V1345.8M971.7 1358.0V1378.0M971.7 1390.2V1410.2M971.7 1422.5V1442.5M971.7 1454.8V1474.8M971.7 1487.0V1507.0M971.7 1519.2V1539.2M971.7 1551.5V1568.0" stroke="#000" stroke-width="3.2" fill="none"/>
<polyline points="870.5,1522.2 877.1,1535.3 888.4,1536.6 899.4,1545.8 911.2,1546.6 920.4,1541.4 930.9,1522.2 941.4,1472.3 951.9,1400.0 963.0,1343.6 973.5,1364.6 983.5,1442.1 994.0,1499.9 1005.8,1527.4 1016.3,1541.9 1026.8,1545.8 1037.3,1534.0 1047.8,1518.2 1058.3,1489.4 1068.8,1478.8 1080.6,1475.7 1090.6,1503.8 1101.7,1520.9 1112.2,1548.5 1121.4,1528.8 1132.3,1478.5 1142.8,1415.5 1153.3,1339.4 1165.1,1263.3 1171.7,1203.0 1176.9,1166.2 1180.8,1239.7 1186.1,1349.9 1197.9,1386.7 1207.1,1486.4 1218.9,1517.9 1229.4,1542.8 1239.9,1540.2 1250.4,1528.3 1262.2,1517.9 1272.7,1517.3 1283.2,1519.2 1293.7,1507.4 1304.2,1507.4 1314.7,1531.0 1327.8,1538.9 1338.3,1544.1 1348.8,1547.5 1358.0,1548.3 1368.5,1545.4 1379.0,1548.0 1386.8,1545.4" fill="none" stroke="#0000ff" stroke-width="4.6" stroke-linejoin="round"/>
<polyline points="870.5,1551.1 920.4,1551.1 941.4,1546.6 953.2,1540.6 963.8,1541.9 975.6,1545.8 994.0,1550.6 1028.1,1551.1 1059.6,1548.5 1101.7,1550.3 1112.2,1545.8 1123.1,1534.9 1133.6,1510.0 1144.1,1481.1 1154.6,1454.9 1165.1,1445.7 1176.9,1420.8 1187.4,1511.3 1197.9,1531.0 1208.4,1551.4 1218.9,1546.2 1239.9,1547.2 1251.7,1542.8 1260.9,1543.3 1272.7,1546.7 1283.2,1547.2 1314.7,1549.9 1359.3,1550.6 1382.9,1550.6" fill="none" stroke="#ff0000" stroke-width="4.6" stroke-linejoin="round"/>
<rect x="868" y="1148.4" width="521.7" height="422.4" fill="none" stroke="#262626" stroke-width="5.4"/>
<path d="M972.4 1570.8v-8.0M972.4 1148.4v8.0M1102.8 1570.8v-8.0M1102.8 1148.4v8.0M1233.3 1570.8v-8.0M1233.3 1148.4v8.0M1363.7 1570.8v-8.0M1363.7 1148.4v8.0" stroke="#262626" stroke-width="5.4" fill="none"/>
<path d="M868 1551.7h8.0M1389.7 1551.7h-8.0M868 1359.6h8.0M1389.7 1359.6h-8.0M868 1167.5h8.0M1389.7 1167.5h-8.0" stroke="#262626" stroke-width="5.4" fill="none"/>
<text x="938.8" y="1616.1" font-size="46.5" fill="#262626">-</text>
<path transform="translate(954.2,1616.1) scale(0.02271,-0.02271)" d="M515 0L515 1237L197 1010L197 1180L530 1409L696 1409L696 0Z" fill="#262626"/>
<text x="980.1" y="1616.1" font-size="46.5" fill="#262626">5</text>
<text x="1069.2" y="1616.1" font-size="46.5" fill="#262626">-</text>
<path transform="translate(1084.7,1616.1) scale(0.02271,-0.02271)" d="M515 0L515 1237L197 1010L197 1180L530 1409L696 1409L696 0Z" fill="#262626"/>
<text x="1110.6" y="1616.1" font-size="46.5" fill="#262626">0</text>
<text x="1212.6" y="1616.1" font-size="46.5" fill="#262626">-5</text>
<text x="1350.8" y="1616.1" font-size="46.5" fill="#262626">0</text>
<text x="829.3" y="1568.2" font-size="46.5" fill="#262626">0</text>
<text x="790.6" y="1376.1" font-size="46.5" fill="#262626">0.5</text>
<path transform="translate(835.8,1184) scale(0.02271,-0.02271)" d="M515 0L515 1237L197 1010L197 1180L530 1409L696 1409L696 0Z" fill="#262626"/>
<text transform="translate(901.1,0) scale(1.1,1) translate(-901.1,0)" x="890.14" y="1224" font-family="Liberation Sans" font-weight="bold" font-size="62.21" fill="#000" >f</text>
<text transform="translate(1038.9,0) scale(1,1) translate(-1038.9,0)" x="1021.78" y="1664.38" font-family="Liberation Serif" font-size="51.88" fill="#000" >ω</text><text transform="translate(1068.6,0) scale(1.05,1) translate(-1068.6,0)" x="1058.28" y="1674.59" font-family="Liberation Serif" font-size="51.28" fill="#000" >τ</text><text transform="translate(1166.15,0) scale(1.01,1) translate(-1166.15,0)" x="1094.77" y="1667.52" font-family="Liberation Sans" font-size="52.44" fill="#000" >(meV)</text>
<text transform="rotate(-90) translate(-1516.75,0) scale(1.03,1) translate(1516.75,0)" x="-1534.47" y="771.15" font-family="Liberation Serif" font-style="italic" font-size="85.42" fill="#000" >ε</text><text transform="rotate(-90) translate(-1476.05,0) scale(0.95,1) translate(1476.05,0)" x="-1501.25" y="783.3" font-family="Liberation Sans" font-size="37.96" fill="#000" >NL</text><text transform="rotate(-90) translate(-1410.3,0) scale(0.97,1) translate(1410.3,0)" x="-1428.24" y="771.46" font-family="Liberation Serif" font-size="54.38" fill="#000" >ω</text><text transform="rotate(-90) translate(-1381.4,0) scale(0.96,1) translate(1381.4,0)" x="-1395.11" y="783.3" font-family="Liberation Sans" font-size="37.96" fill="#000" >H</text><text transform="rotate(-90) translate(-1354.2,0) scale(0.79,1) translate(1354.2,0)" x="-1369.3" y="769.33" font-family="Liberation Sans" font-weight="bold" font-size="51.63" fill="#000" >+</text><text transform="rotate(-90) translate(-1322.4,0) scale(1.01,1) translate(1322.4,0)" x="-1340.34" y="771.46" font-family="Liberation Serif" font-size="54.38" fill="#000" >ω</text><text transform="rotate(-90) translate(-1287.25,0) scale(1.15,1) translate(1287.25,0)" x="-1297.61" y="782.93" font-family="Liberation Sans" font-size="37.17" fill="#000" >0</text><text transform="rotate(-90) translate(-1269.85,0) scale(1.3,1) translate(1269.85,0)" x="-1274.66" y="768.38" font-family="Liberation Serif" font-size="42.72" fill="#000" >,</text><text transform="rotate(-90) translate(-1240.75,0) scale(1.01,1) translate(1240.75,0)" x="-1258.69" y="771.46" font-family="Liberation Serif" font-size="54.38" fill="#000" >ω</text><text transform="rotate(-90) translate(-1215.2,0) scale(1.14,1) translate(1215.2,0)" x="-1222.48" y="782.94" font-family="Liberation Serif" font-size="36.17" fill="#000" >τ</text><path d="M731.0 1437.0Q757.1 1473.0 783.3 1437.0L782.2 1436.4Q757.1 1463.2 732.1 1436.4Z" fill="#000"/><path d="M731.0 1207.8Q757.1 1173.8 783.3 1207.8L782.2 1208.4Q757.1 1183.6 732.1 1208.4Z" fill="#000"/>
</svg>
</body></html>
